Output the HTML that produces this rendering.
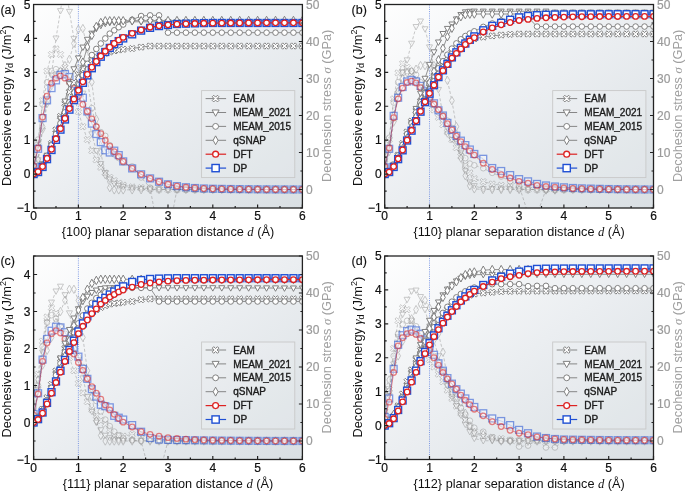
<!DOCTYPE html><html><head><meta charset="utf-8"><style>html,body{margin:0;padding:0;background:#fff}svg{display:block;will-change:transform}text{font-family:"Liberation Sans", sans-serif}</style></head><body>
<svg width="685" height="491" viewBox="0 0 685 491">
<rect width="685" height="491" fill="#fff"/>
<defs><clipPath id="clipa"><rect x="33.6" y="4.5" width="268.8" height="203.5"/></clipPath><linearGradient id="grada" x1="0" y1="0" x2="1" y2="1"><stop offset="0" stop-color="#fefefe"/><stop offset="0.5" stop-color="#ebeef1"/><stop offset="1" stop-color="#d9dfe3"/></linearGradient></defs>
<rect x="33.6" y="4.5" width="268.8" height="203.5" fill="url(#grada)"/>
<g clip-path="url(#clipa)">
<line x1="78.40" y1="4.5" x2="78.40" y2="208.0" stroke="#4f74dc" stroke-width="0.7" stroke-dasharray="1,1.2"/>
<g opacity="0.5">
<polyline points="33.60,167.30 38.08,145.10 42.56,100.70 47.04,71.10 51.52,54.45 56.00,48.90 60.48,54.45 64.96,67.40 69.44,82.20 73.92,97.00 78.40,111.80 82.88,126.60 87.36,139.55 91.84,150.65 96.32,159.90 100.80,167.30 105.28,172.85 109.76,177.29 114.24,180.62 118.72,183.21 123.20,185.06 132.16,186.91 141.12,187.65 150.08,188.76 159.04,189.28 168.00,189.50 176.96,189.50 185.92,189.50 194.88,189.50 203.84,189.50 212.80,189.50 221.76,189.50 230.72,189.50 239.68,189.50 248.64,189.50 257.60,189.50 266.56,189.50 275.52,189.50 284.48,189.50 293.44,189.50 302.40,189.50" fill="none" stroke="#8a8a8a" stroke-width="0.9" stroke-dasharray="3,2"/>
<g fill="#ffffff" fill-opacity="0.6" stroke="#8a8a8a" stroke-width="0.9">
<path d="M35.37,164.13L36.77,165.53L35.00,167.30L36.77,169.07L35.37,170.47L33.60,168.70L31.83,170.47L30.43,169.07L32.20,167.30L30.43,165.53L31.83,164.13L33.60,165.90Z"/>
<path d="M39.85,141.93L41.25,143.33L39.48,145.10L41.25,146.87L39.85,148.27L38.08,146.50L36.31,148.27L34.91,146.87L36.68,145.10L34.91,143.33L36.31,141.93L38.08,143.70Z"/>
<path d="M44.33,97.53L45.73,98.93L43.96,100.70L45.73,102.47L44.33,103.87L42.56,102.10L40.79,103.87L39.39,102.47L41.16,100.70L39.39,98.93L40.79,97.53L42.56,99.30Z"/>
<path d="M48.81,67.93L50.21,69.33L48.44,71.10L50.21,72.87L48.81,74.27L47.04,72.50L45.27,74.27L43.87,72.87L45.64,71.10L43.87,69.33L45.27,67.93L47.04,69.70Z"/>
<path d="M53.29,51.28L54.69,52.68L52.92,54.45L54.69,56.22L53.29,57.62L51.52,55.85L49.75,57.62L48.35,56.22L50.12,54.45L48.35,52.68L49.75,51.28L51.52,53.05Z"/>
<path d="M57.77,45.73L59.17,47.13L57.40,48.90L59.17,50.67L57.77,52.07L56.00,50.30L54.23,52.07L52.83,50.67L54.60,48.90L52.83,47.13L54.23,45.73L56.00,47.50Z"/>
<path d="M62.25,51.28L63.65,52.68L61.88,54.45L63.65,56.22L62.25,57.62L60.48,55.85L58.71,57.62L57.31,56.22L59.08,54.45L57.31,52.68L58.71,51.28L60.48,53.05Z"/>
<path d="M66.73,64.23L68.13,65.63L66.36,67.40L68.13,69.17L66.73,70.57L64.96,68.80L63.19,70.57L61.79,69.17L63.56,67.40L61.79,65.63L63.19,64.23L64.96,66.00Z"/>
<path d="M71.21,79.03L72.61,80.43L70.84,82.20L72.61,83.97L71.21,85.37L69.44,83.60L67.67,85.37L66.27,83.97L68.04,82.20L66.27,80.43L67.67,79.03L69.44,80.80Z"/>
<path d="M75.69,93.83L77.09,95.23L75.32,97.00L77.09,98.77L75.69,100.17L73.92,98.40L72.15,100.17L70.75,98.77L72.52,97.00L70.75,95.23L72.15,93.83L73.92,95.60Z"/>
<path d="M80.17,108.63L81.57,110.03L79.80,111.80L81.57,113.57L80.17,114.97L78.40,113.20L76.63,114.97L75.23,113.57L77.00,111.80L75.23,110.03L76.63,108.63L78.40,110.40Z"/>
<path d="M84.65,123.43L86.05,124.83L84.28,126.60L86.05,128.37L84.65,129.77L82.88,128.00L81.11,129.77L79.71,128.37L81.48,126.60L79.71,124.83L81.11,123.43L82.88,125.20Z"/>
<path d="M89.13,136.38L90.53,137.78L88.76,139.55L90.53,141.32L89.13,142.72L87.36,140.95L85.59,142.72L84.19,141.32L85.96,139.55L84.19,137.78L85.59,136.38L87.36,138.15Z"/>
<path d="M93.61,147.48L95.01,148.88L93.24,150.65L95.01,152.42L93.61,153.82L91.84,152.05L90.07,153.82L88.67,152.42L90.44,150.65L88.67,148.88L90.07,147.48L91.84,149.25Z"/>
<path d="M98.09,156.73L99.49,158.13L97.72,159.90L99.49,161.67L98.09,163.07L96.32,161.30L94.55,163.07L93.15,161.67L94.92,159.90L93.15,158.13L94.55,156.73L96.32,158.50Z"/>
<path d="M102.57,164.13L103.97,165.53L102.20,167.30L103.97,169.07L102.57,170.47L100.80,168.70L99.03,170.47L97.63,169.07L99.40,167.30L97.63,165.53L99.03,164.13L100.80,165.90Z"/>
<path d="M107.05,169.68L108.45,171.08L106.68,172.85L108.45,174.62L107.05,176.02L105.28,174.25L103.51,176.02L102.11,174.62L103.88,172.85L102.11,171.08L103.51,169.68L105.28,171.45Z"/>
<path d="M111.53,174.12L112.93,175.52L111.16,177.29L112.93,179.06L111.53,180.46L109.76,178.69L107.99,180.46L106.59,179.06L108.36,177.29L106.59,175.52L107.99,174.12L109.76,175.89Z"/>
<path d="M116.01,177.45L117.41,178.85L115.64,180.62L117.41,182.39L116.01,183.79L114.24,182.02L112.47,183.79L111.07,182.39L112.84,180.62L111.07,178.85L112.47,177.45L114.24,179.22Z"/>
<path d="M120.49,180.04L121.89,181.44L120.12,183.21L121.89,184.98L120.49,186.38L118.72,184.61L116.95,186.38L115.55,184.98L117.32,183.21L115.55,181.44L116.95,180.04L118.72,181.81Z"/>
<path d="M124.97,181.89L126.37,183.29L124.60,185.06L126.37,186.83L124.97,188.23L123.20,186.46L121.43,188.23L120.03,186.83L121.80,185.06L120.03,183.29L121.43,181.89L123.20,183.66Z"/>
<path d="M133.93,183.74L135.33,185.14L133.56,186.91L135.33,188.68L133.93,190.08L132.16,188.31L130.39,190.08L128.99,188.68L130.76,186.91L128.99,185.14L130.39,183.74L132.16,185.51Z"/>
<path d="M142.89,184.48L144.29,185.88L142.52,187.65L144.29,189.42L142.89,190.82L141.12,189.05L139.35,190.82L137.95,189.42L139.72,187.65L137.95,185.88L139.35,184.48L141.12,186.25Z"/>
<path d="M151.85,185.59L153.25,186.99L151.48,188.76L153.25,190.53L151.85,191.93L150.08,190.16L148.31,191.93L146.91,190.53L148.68,188.76L146.91,186.99L148.31,185.59L150.08,187.36Z"/>
<path d="M160.81,186.10L162.21,187.50L160.44,189.28L162.21,191.05L160.81,192.45L159.04,190.68L157.27,192.45L155.87,191.05L157.64,189.28L155.87,187.50L157.27,186.10L159.04,187.88Z"/>
<path d="M169.77,186.33L171.17,187.73L169.40,189.50L171.17,191.27L169.77,192.67L168.00,190.90L166.23,192.67L164.83,191.27L166.60,189.50L164.83,187.73L166.23,186.33L168.00,188.10Z"/>
<path d="M178.73,186.33L180.13,187.73L178.36,189.50L180.13,191.27L178.73,192.67L176.96,190.90L175.19,192.67L173.79,191.27L175.56,189.50L173.79,187.73L175.19,186.33L176.96,188.10Z"/>
<path d="M187.69,186.33L189.09,187.73L187.32,189.50L189.09,191.27L187.69,192.67L185.92,190.90L184.15,192.67L182.75,191.27L184.52,189.50L182.75,187.73L184.15,186.33L185.92,188.10Z"/>
<path d="M196.65,186.33L198.05,187.73L196.28,189.50L198.05,191.27L196.65,192.67L194.88,190.90L193.11,192.67L191.71,191.27L193.48,189.50L191.71,187.73L193.11,186.33L194.88,188.10Z"/>
<path d="M205.61,186.33L207.01,187.73L205.24,189.50L207.01,191.27L205.61,192.67L203.84,190.90L202.07,192.67L200.67,191.27L202.44,189.50L200.67,187.73L202.07,186.33L203.84,188.10Z"/>
<path d="M214.57,186.33L215.97,187.73L214.20,189.50L215.97,191.27L214.57,192.67L212.80,190.90L211.03,192.67L209.63,191.27L211.40,189.50L209.63,187.73L211.03,186.33L212.80,188.10Z"/>
<path d="M223.53,186.33L224.93,187.73L223.16,189.50L224.93,191.27L223.53,192.67L221.76,190.90L219.99,192.67L218.59,191.27L220.36,189.50L218.59,187.73L219.99,186.33L221.76,188.10Z"/>
<path d="M232.49,186.33L233.89,187.73L232.12,189.50L233.89,191.27L232.49,192.67L230.72,190.90L228.95,192.67L227.55,191.27L229.32,189.50L227.55,187.73L228.95,186.33L230.72,188.10Z"/>
<path d="M241.45,186.33L242.85,187.73L241.08,189.50L242.85,191.27L241.45,192.67L239.68,190.90L237.91,192.67L236.51,191.27L238.28,189.50L236.51,187.73L237.91,186.33L239.68,188.10Z"/>
<path d="M250.41,186.33L251.81,187.73L250.04,189.50L251.81,191.27L250.41,192.67L248.64,190.90L246.87,192.67L245.47,191.27L247.24,189.50L245.47,187.73L246.87,186.33L248.64,188.10Z"/>
<path d="M259.37,186.33L260.77,187.73L259.00,189.50L260.77,191.27L259.37,192.67L257.60,190.90L255.83,192.67L254.43,191.27L256.20,189.50L254.43,187.73L255.83,186.33L257.60,188.10Z"/>
<path d="M268.33,186.33L269.73,187.73L267.96,189.50L269.73,191.27L268.33,192.67L266.56,190.90L264.79,192.67L263.39,191.27L265.16,189.50L263.39,187.73L264.79,186.33L266.56,188.10Z"/>
<path d="M277.29,186.33L278.69,187.73L276.92,189.50L278.69,191.27L277.29,192.67L275.52,190.90L273.75,192.67L272.35,191.27L274.12,189.50L272.35,187.73L273.75,186.33L275.52,188.10Z"/>
<path d="M286.25,186.33L287.65,187.73L285.88,189.50L287.65,191.27L286.25,192.67L284.48,190.90L282.71,192.67L281.31,191.27L283.08,189.50L281.31,187.73L282.71,186.33L284.48,188.10Z"/>
<path d="M295.21,186.33L296.61,187.73L294.84,189.50L296.61,191.27L295.21,192.67L293.44,190.90L291.67,192.67L290.27,191.27L292.04,189.50L290.27,187.73L291.67,186.33L293.44,188.10Z"/>
<path d="M304.17,186.33L305.57,187.73L303.80,189.50L305.57,191.27L304.17,192.67L302.40,190.90L300.63,192.67L299.23,191.27L301.00,189.50L299.23,187.73L300.63,186.33L302.40,188.10Z"/>
</g></g>
<g opacity="0.5">
<polyline points="33.60,171.00 38.08,159.90 42.56,130.30 47.04,104.40 51.52,74.80 56.00,38.17 60.48,10.79 64.96,-17.70 69.44,11.53 73.92,38.54 78.40,67.40 82.88,93.30 87.36,115.50 91.84,134.00 96.32,150.65 100.80,163.60 105.28,172.85 109.76,179.14 114.24,183.58 118.72,185.44 123.20,186.54 132.16,187.97 141.12,188.76 150.08,189.14 159.04,189.40 168.00,189.50 176.96,189.50 185.92,189.50 194.88,189.50 203.84,189.50 212.80,189.50 221.76,189.50 230.72,189.50 239.68,189.50 248.64,189.50 257.60,189.50 266.56,189.50 275.52,189.50 284.48,189.50 293.44,189.50 302.40,189.50" fill="none" stroke="#8a8a8a" stroke-width="0.9" stroke-dasharray="3,2"/>
<g fill="#ffffff" fill-opacity="0.6" stroke="#8a8a8a" stroke-width="0.9">
<path d="M30.60,168.84L36.60,168.84L33.60,174.24Z"/>
<path d="M35.08,157.74L41.08,157.74L38.08,163.14Z"/>
<path d="M39.56,128.14L45.56,128.14L42.56,133.54Z"/>
<path d="M44.04,102.24L50.04,102.24L47.04,107.64Z"/>
<path d="M48.52,72.64L54.52,72.64L51.52,78.04Z"/>
<path d="M53.00,36.01L59.00,36.01L56.00,41.41Z"/>
<path d="M57.48,8.63L63.48,8.63L60.48,14.03Z"/>
<path d="M61.96,-19.86L67.96,-19.86L64.96,-14.46Z"/>
<path d="M66.44,9.37L72.44,9.37L69.44,14.77Z"/>
<path d="M70.92,36.38L76.92,36.38L73.92,41.78Z"/>
<path d="M75.40,65.24L81.40,65.24L78.40,70.64Z"/>
<path d="M79.88,91.14L85.88,91.14L82.88,96.54Z"/>
<path d="M84.36,113.34L90.36,113.34L87.36,118.74Z"/>
<path d="M88.84,131.84L94.84,131.84L91.84,137.24Z"/>
<path d="M93.32,148.49L99.32,148.49L96.32,153.89Z"/>
<path d="M97.80,161.44L103.80,161.44L100.80,166.84Z"/>
<path d="M102.28,170.69L108.28,170.69L105.28,176.09Z"/>
<path d="M106.76,176.98L112.76,176.98L109.76,182.38Z"/>
<path d="M111.24,181.42L117.24,181.42L114.24,186.82Z"/>
<path d="M115.72,183.28L121.72,183.28L118.72,188.68Z"/>
<path d="M120.20,184.38L126.20,184.38L123.20,189.78Z"/>
<path d="M129.16,185.81L135.16,185.81L132.16,191.21Z"/>
<path d="M138.12,186.60L144.12,186.60L141.12,192.00Z"/>
<path d="M147.08,186.98L153.08,186.98L150.08,192.38Z"/>
<path d="M156.04,187.24L162.04,187.24L159.04,192.64Z"/>
<path d="M165.00,187.34L171.00,187.34L168.00,192.74Z"/>
<path d="M173.96,187.34L179.96,187.34L176.96,192.74Z"/>
<path d="M182.92,187.34L188.92,187.34L185.92,192.74Z"/>
<path d="M191.88,187.34L197.88,187.34L194.88,192.74Z"/>
<path d="M200.84,187.34L206.84,187.34L203.84,192.74Z"/>
<path d="M209.80,187.34L215.80,187.34L212.80,192.74Z"/>
<path d="M218.76,187.34L224.76,187.34L221.76,192.74Z"/>
<path d="M227.72,187.34L233.72,187.34L230.72,192.74Z"/>
<path d="M236.68,187.34L242.68,187.34L239.68,192.74Z"/>
<path d="M245.64,187.34L251.64,187.34L248.64,192.74Z"/>
<path d="M254.60,187.34L260.60,187.34L257.60,192.74Z"/>
<path d="M263.56,187.34L269.56,187.34L266.56,192.74Z"/>
<path d="M272.52,187.34L278.52,187.34L275.52,192.74Z"/>
<path d="M281.48,187.34L287.48,187.34L284.48,192.74Z"/>
<path d="M290.44,187.34L296.44,187.34L293.44,192.74Z"/>
<path d="M299.40,187.34L305.40,187.34L302.40,192.74Z"/>
</g></g>
<g opacity="0.5">
<polyline points="33.60,159.90 38.08,139.55 42.56,104.40 47.04,82.20 51.52,71.10 56.00,69.25 60.48,71.10 64.96,74.80 69.44,82.20 73.92,87.75 78.40,93.30 82.88,82.20 87.36,80.35 91.84,108.10 96.32,126.60 100.80,132.15 105.28,135.85 109.76,145.10 114.24,154.35 118.72,158.05 123.20,162.37 132.16,166.38 141.12,177.47 150.08,187.65 159.04,236.67 168.00,236.67 176.96,189.50 185.92,189.50 194.88,189.50 203.84,189.50 212.80,189.50 221.76,189.50 230.72,189.50 239.68,189.50 248.64,189.50 257.60,189.50 266.56,189.50 275.52,189.50 284.48,189.50 293.44,189.50 302.40,189.50" fill="none" stroke="#8a8a8a" stroke-width="0.9" stroke-dasharray="3,2"/>
<g fill="#ffffff" fill-opacity="0.6" stroke="#8a8a8a" stroke-width="0.9">
<circle cx="33.60" cy="159.90" r="2.80"/>
<circle cx="38.08" cy="139.55" r="2.80"/>
<circle cx="42.56" cy="104.40" r="2.80"/>
<circle cx="47.04" cy="82.20" r="2.80"/>
<circle cx="51.52" cy="71.10" r="2.80"/>
<circle cx="56.00" cy="69.25" r="2.80"/>
<circle cx="60.48" cy="71.10" r="2.80"/>
<circle cx="64.96" cy="74.80" r="2.80"/>
<circle cx="69.44" cy="82.20" r="2.80"/>
<circle cx="73.92" cy="87.75" r="2.80"/>
<circle cx="78.40" cy="93.30" r="2.80"/>
<circle cx="82.88" cy="82.20" r="2.80"/>
<circle cx="87.36" cy="80.35" r="2.80"/>
<circle cx="91.84" cy="108.10" r="2.80"/>
<circle cx="96.32" cy="126.60" r="2.80"/>
<circle cx="100.80" cy="132.15" r="2.80"/>
<circle cx="105.28" cy="135.85" r="2.80"/>
<circle cx="109.76" cy="145.10" r="2.80"/>
<circle cx="114.24" cy="154.35" r="2.80"/>
<circle cx="118.72" cy="158.05" r="2.80"/>
<circle cx="123.20" cy="162.37" r="2.80"/>
<circle cx="132.16" cy="166.38" r="2.80"/>
<circle cx="141.12" cy="177.47" r="2.80"/>
<circle cx="150.08" cy="187.65" r="2.80"/>
<circle cx="159.04" cy="236.67" r="2.80"/>
<circle cx="168.00" cy="236.67" r="2.80"/>
<circle cx="176.96" cy="189.50" r="2.80"/>
<circle cx="185.92" cy="189.50" r="2.80"/>
<circle cx="194.88" cy="189.50" r="2.80"/>
<circle cx="203.84" cy="189.50" r="2.80"/>
<circle cx="212.80" cy="189.50" r="2.80"/>
<circle cx="221.76" cy="189.50" r="2.80"/>
<circle cx="230.72" cy="189.50" r="2.80"/>
<circle cx="239.68" cy="189.50" r="2.80"/>
<circle cx="248.64" cy="189.50" r="2.80"/>
<circle cx="257.60" cy="189.50" r="2.80"/>
<circle cx="266.56" cy="189.50" r="2.80"/>
<circle cx="275.52" cy="189.50" r="2.80"/>
<circle cx="284.48" cy="189.50" r="2.80"/>
<circle cx="293.44" cy="189.50" r="2.80"/>
<circle cx="302.40" cy="189.50" r="2.80"/>
</g></g>
<g opacity="0.5">
<polyline points="33.60,171.00 38.08,159.90 42.56,126.60 47.04,100.70 51.52,85.90 56.00,76.65 60.48,71.10 64.96,65.55 69.44,59.26 73.92,43.35 78.40,29.29 82.88,28.55 87.36,48.90 91.84,82.20 96.32,119.20 100.80,152.50 105.28,174.70 109.76,187.65 114.24,189.87 118.72,189.87 123.20,189.87 132.16,189.83 141.12,189.74 150.08,189.63 159.04,189.54 168.00,189.50 176.96,189.50 185.92,189.50 194.88,189.50 203.84,189.50 212.80,189.50 221.76,189.50 230.72,189.50 239.68,189.50 248.64,189.50 257.60,189.50 266.56,189.50 275.52,189.50 284.48,189.50 293.44,189.50 302.40,189.50" fill="none" stroke="#8a8a8a" stroke-width="0.9" stroke-dasharray="3,2"/>
<g fill="#ffffff" fill-opacity="0.6" stroke="#8a8a8a" stroke-width="0.9">
<path d="M33.60,166.78L35.98,171.00L33.60,175.22L31.22,171.00Z"/>
<path d="M38.08,155.68L40.46,159.90L38.08,164.12L35.70,159.90Z"/>
<path d="M42.56,122.38L44.94,126.60L42.56,130.82L40.18,126.60Z"/>
<path d="M47.04,96.48L49.42,100.70L47.04,104.92L44.66,100.70Z"/>
<path d="M51.52,81.68L53.90,85.90L51.52,90.12L49.14,85.90Z"/>
<path d="M56.00,72.43L58.38,76.65L56.00,80.87L53.62,76.65Z"/>
<path d="M60.48,66.88L62.86,71.10L60.48,75.32L58.10,71.10Z"/>
<path d="M64.96,61.33L67.34,65.55L64.96,69.77L62.58,65.55Z"/>
<path d="M69.44,55.04L71.82,59.26L69.44,63.48L67.06,59.26Z"/>
<path d="M73.92,39.13L76.30,43.35L73.92,47.57L71.54,43.35Z"/>
<path d="M78.40,25.07L80.78,29.29L78.40,33.51L76.02,29.29Z"/>
<path d="M82.88,24.33L85.26,28.55L82.88,32.77L80.50,28.55Z"/>
<path d="M87.36,44.68L89.74,48.90L87.36,53.12L84.98,48.90Z"/>
<path d="M91.84,77.98L94.22,82.20L91.84,86.42L89.46,82.20Z"/>
<path d="M96.32,114.98L98.70,119.20L96.32,123.42L93.94,119.20Z"/>
<path d="M100.80,148.28L103.18,152.50L100.80,156.72L98.42,152.50Z"/>
<path d="M105.28,170.48L107.66,174.70L105.28,178.92L102.90,174.70Z"/>
<path d="M109.76,183.43L112.14,187.65L109.76,191.87L107.38,187.65Z"/>
<path d="M114.24,185.65L116.62,189.87L114.24,194.09L111.86,189.87Z"/>
<path d="M118.72,185.65L121.10,189.87L118.72,194.09L116.34,189.87Z"/>
<path d="M123.20,185.65L125.58,189.87L123.20,194.09L120.82,189.87Z"/>
<path d="M132.16,185.61L134.54,189.83L132.16,194.06L129.78,189.83Z"/>
<path d="M141.12,185.52L143.50,189.74L141.12,193.96L138.74,189.74Z"/>
<path d="M150.08,185.41L152.46,189.63L150.08,193.85L147.70,189.63Z"/>
<path d="M159.04,185.31L161.42,189.54L159.04,193.76L156.66,189.54Z"/>
<path d="M168.00,185.28L170.38,189.50L168.00,193.72L165.62,189.50Z"/>
<path d="M176.96,185.28L179.34,189.50L176.96,193.72L174.58,189.50Z"/>
<path d="M185.92,185.28L188.30,189.50L185.92,193.72L183.54,189.50Z"/>
<path d="M194.88,185.28L197.26,189.50L194.88,193.72L192.50,189.50Z"/>
<path d="M203.84,185.28L206.22,189.50L203.84,193.72L201.46,189.50Z"/>
<path d="M212.80,185.28L215.18,189.50L212.80,193.72L210.42,189.50Z"/>
<path d="M221.76,185.28L224.14,189.50L221.76,193.72L219.38,189.50Z"/>
<path d="M230.72,185.28L233.10,189.50L230.72,193.72L228.34,189.50Z"/>
<path d="M239.68,185.28L242.06,189.50L239.68,193.72L237.30,189.50Z"/>
<path d="M248.64,185.28L251.02,189.50L248.64,193.72L246.26,189.50Z"/>
<path d="M257.60,185.28L259.98,189.50L257.60,193.72L255.22,189.50Z"/>
<path d="M266.56,185.28L268.94,189.50L266.56,193.72L264.18,189.50Z"/>
<path d="M275.52,185.28L277.90,189.50L275.52,193.72L273.14,189.50Z"/>
<path d="M284.48,185.28L286.86,189.50L284.48,193.72L282.10,189.50Z"/>
<path d="M293.44,185.28L295.82,189.50L293.44,193.72L291.06,189.50Z"/>
<path d="M302.40,185.28L304.78,189.50L302.40,193.72L300.02,189.50Z"/>
</g></g>
<g opacity="0.55">
<polyline points="33.60,167.30 38.08,148.80 42.56,118.09 47.04,100.33 51.52,88.12 56.00,80.35 60.48,74.80 64.96,74.06 69.44,77.02 73.92,84.05 78.40,91.45 82.88,97.74 87.36,111.43 91.84,123.64 96.32,134.00 100.80,142.14 105.28,150.28 109.76,152.50 114.24,150.65 118.72,155.09 123.20,161.38 132.16,168.41 141.12,174.33 150.08,178.40 159.04,181.73 168.00,184.32 176.96,186.17 185.92,187.28 194.88,188.02 203.84,188.49 212.80,188.76 221.76,188.90 230.72,189.02 239.68,189.13 248.64,189.23 257.60,189.31 266.56,189.38 275.52,189.43 284.48,189.47 293.44,189.49 302.40,189.50" fill="none" stroke="#1f4fd4" stroke-width="0.9"/>
<g fill="#ffffff" fill-opacity="0.6" stroke="#1f4fd4" stroke-width="1.3">
<rect x="30.15" y="163.85" width="6.90" height="6.90"/>
<rect x="34.63" y="145.35" width="6.90" height="6.90"/>
<rect x="39.11" y="114.64" width="6.90" height="6.90"/>
<rect x="43.59" y="96.88" width="6.90" height="6.90"/>
<rect x="48.07" y="84.67" width="6.90" height="6.90"/>
<rect x="52.55" y="76.90" width="6.90" height="6.90"/>
<rect x="57.03" y="71.35" width="6.90" height="6.90"/>
<rect x="61.51" y="70.61" width="6.90" height="6.90"/>
<rect x="65.99" y="73.57" width="6.90" height="6.90"/>
<rect x="70.47" y="80.60" width="6.90" height="6.90"/>
<rect x="74.95" y="88.00" width="6.90" height="6.90"/>
<rect x="79.43" y="94.29" width="6.90" height="6.90"/>
<rect x="83.91" y="107.98" width="6.90" height="6.90"/>
<rect x="88.39" y="120.19" width="6.90" height="6.90"/>
<rect x="92.87" y="130.55" width="6.90" height="6.90"/>
<rect x="97.35" y="138.69" width="6.90" height="6.90"/>
<rect x="101.83" y="146.83" width="6.90" height="6.90"/>
<rect x="106.31" y="149.05" width="6.90" height="6.90"/>
<rect x="110.79" y="147.20" width="6.90" height="6.90"/>
<rect x="115.27" y="151.64" width="6.90" height="6.90"/>
<rect x="119.75" y="157.93" width="6.90" height="6.90"/>
<rect x="128.71" y="164.96" width="6.90" height="6.90"/>
<rect x="137.67" y="170.88" width="6.90" height="6.90"/>
<rect x="146.63" y="174.95" width="6.90" height="6.90"/>
<rect x="155.59" y="178.28" width="6.90" height="6.90"/>
<rect x="164.55" y="180.87" width="6.90" height="6.90"/>
<rect x="173.51" y="182.72" width="6.90" height="6.90"/>
<rect x="182.47" y="183.83" width="6.90" height="6.90"/>
<rect x="191.43" y="184.57" width="6.90" height="6.90"/>
<rect x="200.39" y="185.04" width="6.90" height="6.90"/>
<rect x="209.35" y="185.31" width="6.90" height="6.90"/>
<rect x="218.31" y="185.45" width="6.90" height="6.90"/>
<rect x="227.27" y="185.57" width="6.90" height="6.90"/>
<rect x="236.23" y="185.68" width="6.90" height="6.90"/>
<rect x="245.19" y="185.78" width="6.90" height="6.90"/>
<rect x="254.15" y="185.86" width="6.90" height="6.90"/>
<rect x="263.11" y="185.93" width="6.90" height="6.90"/>
<rect x="272.07" y="185.98" width="6.90" height="6.90"/>
<rect x="281.03" y="186.02" width="6.90" height="6.90"/>
<rect x="289.99" y="186.04" width="6.90" height="6.90"/>
<rect x="298.95" y="186.05" width="6.90" height="6.90"/>
</g></g>
<g opacity="0.55">
<polyline points="33.60,165.82 38.08,148.06 42.56,116.98 47.04,96.26 51.52,83.31 56.00,78.13 60.48,75.91 64.96,78.13 69.44,81.83 73.92,88.49 78.40,96.26 82.88,104.40 87.36,111.43 91.84,118.83 96.32,126.60 100.80,133.63 105.28,140.29 109.76,146.21 114.24,151.76 118.72,156.57 123.20,161.38 132.16,168.41 141.12,174.33 150.08,178.40 159.04,181.73 168.00,184.32 176.96,186.17 185.92,187.28 194.88,188.02 203.84,188.49 212.80,188.76 221.76,188.90 230.72,189.02 239.68,189.13 248.64,189.23 257.60,189.31 266.56,189.38 275.52,189.43 284.48,189.47 293.44,189.49 302.40,189.50" fill="none" stroke="#dd2222" stroke-width="0.9"/>
<g fill="#ffffff" fill-opacity="0.6" stroke="#dd2222" stroke-width="1.3">
<circle cx="33.60" cy="165.82" r="2.80"/>
<circle cx="38.08" cy="148.06" r="2.80"/>
<circle cx="42.56" cy="116.98" r="2.80"/>
<circle cx="47.04" cy="96.26" r="2.80"/>
<circle cx="51.52" cy="83.31" r="2.80"/>
<circle cx="56.00" cy="78.13" r="2.80"/>
<circle cx="60.48" cy="75.91" r="2.80"/>
<circle cx="64.96" cy="78.13" r="2.80"/>
<circle cx="69.44" cy="81.83" r="2.80"/>
<circle cx="73.92" cy="88.49" r="2.80"/>
<circle cx="78.40" cy="96.26" r="2.80"/>
<circle cx="82.88" cy="104.40" r="2.80"/>
<circle cx="87.36" cy="111.43" r="2.80"/>
<circle cx="91.84" cy="118.83" r="2.80"/>
<circle cx="96.32" cy="126.60" r="2.80"/>
<circle cx="100.80" cy="133.63" r="2.80"/>
<circle cx="105.28" cy="140.29" r="2.80"/>
<circle cx="109.76" cy="146.21" r="2.80"/>
<circle cx="114.24" cy="151.76" r="2.80"/>
<circle cx="118.72" cy="156.57" r="2.80"/>
<circle cx="123.20" cy="161.38" r="2.80"/>
<circle cx="132.16" cy="168.41" r="2.80"/>
<circle cx="141.12" cy="174.33" r="2.80"/>
<circle cx="150.08" cy="178.40" r="2.80"/>
<circle cx="159.04" cy="181.73" r="2.80"/>
<circle cx="168.00" cy="184.32" r="2.80"/>
<circle cx="176.96" cy="186.17" r="2.80"/>
<circle cx="185.92" cy="187.28" r="2.80"/>
<circle cx="194.88" cy="188.02" r="2.80"/>
<circle cx="203.84" cy="188.49" r="2.80"/>
<circle cx="212.80" cy="188.76" r="2.80"/>
<circle cx="221.76" cy="188.90" r="2.80"/>
<circle cx="230.72" cy="189.02" r="2.80"/>
<circle cx="239.68" cy="189.13" r="2.80"/>
<circle cx="248.64" cy="189.23" r="2.80"/>
<circle cx="257.60" cy="189.31" r="2.80"/>
<circle cx="266.56" cy="189.38" r="2.80"/>
<circle cx="275.52" cy="189.43" r="2.80"/>
<circle cx="284.48" cy="189.47" r="2.80"/>
<circle cx="293.44" cy="189.49" r="2.80"/>
<circle cx="302.40" cy="189.50" r="2.80"/>
</g></g>
<polyline points="33.60,174.08 38.08,172.05 42.56,165.94 47.04,156.11 51.52,143.56 56.00,129.99 60.48,116.42 64.96,103.54 69.44,92.00 73.92,82.51 78.40,74.71 82.88,68.69 87.36,63.85 91.84,60.02 96.32,57.07 100.80,54.99 105.28,53.34 109.76,51.89 114.24,50.80 118.72,49.92 123.20,49.27 132.16,48.54 141.12,47.12 150.08,46.05 159.04,46.05 168.00,46.05 176.96,46.05 185.92,46.05 194.88,46.05 203.84,46.05 212.80,46.05 221.76,46.05 230.72,46.05 239.68,46.05 248.64,46.05 257.60,46.05 266.56,46.05 275.52,46.05 284.48,46.05 293.44,46.05 302.40,46.05" fill="none" stroke="#7a7a7a" stroke-width="0.8"/>
<g fill="#ffffff" stroke="#7a7a7a" stroke-width="0.95">
<path d="M35.37,170.91L36.77,172.31L35.00,174.08L36.77,175.86L35.37,177.26L33.60,175.48L31.83,177.26L30.43,175.86L32.20,174.08L30.43,172.31L31.83,170.91L33.60,172.68Z"/>
<path d="M39.85,168.87L41.25,170.27L39.48,172.05L41.25,173.82L39.85,175.22L38.08,173.45L36.31,175.22L34.91,173.82L36.68,172.05L34.91,170.27L36.31,168.87L38.08,170.65Z"/>
<path d="M44.33,162.77L45.73,164.17L43.96,165.94L45.73,167.72L44.33,169.12L42.56,167.34L40.79,169.12L39.39,167.72L41.16,165.94L39.39,164.17L40.79,162.77L42.56,164.54Z"/>
<path d="M48.81,152.93L50.21,154.33L48.44,156.11L50.21,157.88L48.81,159.28L47.04,157.51L45.27,159.28L43.87,157.88L45.64,156.11L43.87,154.33L45.27,152.93L47.04,154.71Z"/>
<path d="M53.29,140.38L54.69,141.78L52.92,143.56L54.69,145.33L53.29,146.73L51.52,144.96L49.75,146.73L48.35,145.33L50.12,143.56L48.35,141.78L49.75,140.38L51.52,142.16Z"/>
<path d="M57.77,126.82L59.17,128.22L57.40,129.99L59.17,131.77L57.77,133.17L56.00,131.39L54.23,133.17L52.83,131.77L54.60,129.99L52.83,128.22L54.23,126.82L56.00,128.59Z"/>
<path d="M62.25,113.25L63.65,114.65L61.88,116.42L63.65,118.20L62.25,119.60L60.48,117.83L58.71,119.60L57.31,118.20L59.08,116.42L57.31,114.65L58.71,113.25L60.48,115.02Z"/>
<path d="M66.73,100.36L68.13,101.76L66.36,103.54L68.13,105.31L66.73,106.71L64.96,104.94L63.19,106.71L61.79,105.31L63.56,103.54L61.79,101.76L63.19,100.36L64.96,102.14Z"/>
<path d="M71.21,88.83L72.61,90.23L70.84,92.00L72.61,93.78L71.21,95.18L69.44,93.41L67.67,95.18L66.27,93.78L68.04,92.00L66.27,90.23L67.67,88.83L69.44,90.60Z"/>
<path d="M75.69,79.33L77.09,80.73L75.32,82.51L77.09,84.28L75.69,85.68L73.92,83.91L72.15,85.68L70.75,84.28L72.52,82.51L70.75,80.73L72.15,79.33L73.92,81.11Z"/>
<path d="M80.17,71.53L81.57,72.93L79.80,74.71L81.57,76.48L80.17,77.88L78.40,76.11L76.63,77.88L75.23,76.48L77.00,74.71L75.23,72.93L76.63,71.53L78.40,73.31Z"/>
<path d="M84.65,65.52L86.05,66.92L84.28,68.69L86.05,70.47L84.65,71.87L82.88,70.09L81.11,71.87L79.71,70.47L81.48,68.69L79.71,66.92L81.11,65.52L82.88,67.29Z"/>
<path d="M89.13,60.68L90.53,62.08L88.76,63.85L90.53,65.63L89.13,67.03L87.36,65.25L85.59,67.03L84.19,65.63L85.96,63.85L84.19,62.08L85.59,60.68L87.36,62.45Z"/>
<path d="M93.61,56.85L95.01,58.25L93.24,60.02L95.01,61.79L93.61,63.19L91.84,61.42L90.07,63.19L88.67,61.79L90.44,60.02L88.67,58.25L90.07,56.85L91.84,58.62Z"/>
<path d="M98.09,53.90L99.49,55.30L97.72,57.07L99.49,58.84L98.09,60.24L96.32,58.47L94.55,60.24L93.15,58.84L94.92,57.07L93.15,55.30L94.55,53.90L96.32,55.67Z"/>
<path d="M102.57,51.82L103.97,53.22L102.20,54.99L103.97,56.77L102.57,58.17L100.80,56.39L99.03,58.17L97.63,56.77L99.40,54.99L97.63,53.22L99.03,51.82L100.80,53.59Z"/>
<path d="M107.05,50.17L108.45,51.57L106.68,53.34L108.45,55.11L107.05,56.51L105.28,54.74L103.51,56.51L102.11,55.11L103.88,53.34L102.11,51.57L103.51,50.17L105.28,51.94Z"/>
<path d="M111.53,48.72L112.93,50.12L111.16,51.89L112.93,53.66L111.53,55.06L109.76,53.29L107.99,55.06L106.59,53.66L108.36,51.89L106.59,50.12L107.99,48.72L109.76,50.49Z"/>
<path d="M116.01,47.63L117.41,49.03L115.64,50.80L117.41,52.57L116.01,53.97L114.24,52.20L112.47,53.97L111.07,52.57L112.84,50.80L111.07,49.03L112.47,47.63L114.24,49.40Z"/>
<path d="M120.49,46.74L121.89,48.14L120.12,49.92L121.89,51.69L120.49,53.09L118.72,51.32L116.95,53.09L115.55,51.69L117.32,49.92L115.55,48.14L116.95,46.74L118.72,48.52Z"/>
<path d="M124.97,46.10L126.37,47.50L124.60,49.27L126.37,51.04L124.97,52.44L123.20,50.67L121.43,52.44L120.03,51.04L121.80,49.27L120.03,47.50L121.43,46.10L123.20,47.87Z"/>
<path d="M133.93,45.36L135.33,46.76L133.56,48.54L135.33,50.31L133.93,51.71L132.16,49.94L130.39,51.71L128.99,50.31L130.76,48.54L128.99,46.76L130.39,45.36L132.16,47.14Z"/>
<path d="M142.89,43.95L144.29,45.35L142.52,47.12L144.29,48.90L142.89,50.30L141.12,48.52L139.35,50.30L137.95,48.90L139.72,47.12L137.95,45.35L139.35,43.95L141.12,45.72Z"/>
<path d="M151.85,42.87L153.25,44.27L151.48,46.05L153.25,47.82L151.85,49.22L150.08,47.45L148.31,49.22L146.91,47.82L148.68,46.05L146.91,44.27L148.31,42.87L150.08,44.65Z"/>
<path d="M160.81,42.87L162.21,44.27L160.44,46.05L162.21,47.82L160.81,49.22L159.04,47.45L157.27,49.22L155.87,47.82L157.64,46.05L155.87,44.27L157.27,42.87L159.04,44.65Z"/>
<path d="M169.77,42.87L171.17,44.27L169.40,46.05L171.17,47.82L169.77,49.22L168.00,47.45L166.23,49.22L164.83,47.82L166.60,46.05L164.83,44.27L166.23,42.87L168.00,44.65Z"/>
<path d="M178.73,42.87L180.13,44.27L178.36,46.05L180.13,47.82L178.73,49.22L176.96,47.45L175.19,49.22L173.79,47.82L175.56,46.05L173.79,44.27L175.19,42.87L176.96,44.65Z"/>
<path d="M187.69,42.87L189.09,44.27L187.32,46.05L189.09,47.82L187.69,49.22L185.92,47.45L184.15,49.22L182.75,47.82L184.52,46.05L182.75,44.27L184.15,42.87L185.92,44.65Z"/>
<path d="M196.65,42.87L198.05,44.27L196.28,46.05L198.05,47.82L196.65,49.22L194.88,47.45L193.11,49.22L191.71,47.82L193.48,46.05L191.71,44.27L193.11,42.87L194.88,44.65Z"/>
<path d="M205.61,42.87L207.01,44.27L205.24,46.05L207.01,47.82L205.61,49.22L203.84,47.45L202.07,49.22L200.67,47.82L202.44,46.05L200.67,44.27L202.07,42.87L203.84,44.65Z"/>
<path d="M214.57,42.87L215.97,44.27L214.20,46.05L215.97,47.82L214.57,49.22L212.80,47.45L211.03,49.22L209.63,47.82L211.40,46.05L209.63,44.27L211.03,42.87L212.80,44.65Z"/>
<path d="M223.53,42.87L224.93,44.27L223.16,46.05L224.93,47.82L223.53,49.22L221.76,47.45L219.99,49.22L218.59,47.82L220.36,46.05L218.59,44.27L219.99,42.87L221.76,44.65Z"/>
<path d="M232.49,42.87L233.89,44.27L232.12,46.05L233.89,47.82L232.49,49.22L230.72,47.45L228.95,49.22L227.55,47.82L229.32,46.05L227.55,44.27L228.95,42.87L230.72,44.65Z"/>
<path d="M241.45,42.87L242.85,44.27L241.08,46.05L242.85,47.82L241.45,49.22L239.68,47.45L237.91,49.22L236.51,47.82L238.28,46.05L236.51,44.27L237.91,42.87L239.68,44.65Z"/>
<path d="M250.41,42.87L251.81,44.27L250.04,46.05L251.81,47.82L250.41,49.22L248.64,47.45L246.87,49.22L245.47,47.82L247.24,46.05L245.47,44.27L246.87,42.87L248.64,44.65Z"/>
<path d="M259.37,42.87L260.77,44.27L259.00,46.05L260.77,47.82L259.37,49.22L257.60,47.45L255.83,49.22L254.43,47.82L256.20,46.05L254.43,44.27L255.83,42.87L257.60,44.65Z"/>
<path d="M268.33,42.87L269.73,44.27L267.96,46.05L269.73,47.82L268.33,49.22L266.56,47.45L264.79,49.22L263.39,47.82L265.16,46.05L263.39,44.27L264.79,42.87L266.56,44.65Z"/>
<path d="M277.29,42.87L278.69,44.27L276.92,46.05L278.69,47.82L277.29,49.22L275.52,47.45L273.75,49.22L272.35,47.82L274.12,46.05L272.35,44.27L273.75,42.87L275.52,44.65Z"/>
<path d="M286.25,42.87L287.65,44.27L285.88,46.05L287.65,47.82L286.25,49.22L284.48,47.45L282.71,49.22L281.31,47.82L283.08,46.05L281.31,44.27L282.71,42.87L284.48,44.65Z"/>
<path d="M295.21,42.87L296.61,44.27L294.84,46.05L296.61,47.82L295.21,49.22L293.44,47.45L291.67,49.22L290.27,47.82L292.04,46.05L290.27,44.27L291.67,42.87L293.44,44.65Z"/>
<path d="M304.17,42.87L305.57,44.27L303.80,46.05L305.57,47.82L304.17,49.22L302.40,47.45L300.63,49.22L299.23,47.82L301.00,46.05L299.23,44.27L300.63,42.87L302.40,44.65Z"/>
</g>
<polyline points="33.60,174.08 38.08,171.03 42.56,163.91 47.04,155.43 51.52,145.25 56.00,133.38 60.48,118.46 64.96,101.16 69.44,83.86 73.92,68.94 78.40,58.09 82.88,47.23 87.36,39.43 91.84,33.33 96.32,28.58 100.80,25.53 105.28,23.49 109.76,22.61 114.24,22.14 118.72,21.90 123.20,21.80 132.16,21.80 141.12,21.80 150.08,21.80 159.04,21.80 168.00,21.80 176.96,21.80 185.92,21.80 194.88,21.80 203.84,21.80 212.80,21.80 221.76,21.80 230.72,21.80 239.68,21.80 248.64,21.80 257.60,21.80 266.56,21.80 275.52,21.80 284.48,21.80 293.44,21.80 302.40,21.80" fill="none" stroke="#7a7a7a" stroke-width="0.8"/>
<g fill="#ffffff" stroke="#7a7a7a" stroke-width="0.95">
<path d="M30.60,171.92L36.60,171.92L33.60,177.32Z"/>
<path d="M35.08,168.87L41.08,168.87L38.08,174.27Z"/>
<path d="M39.56,161.75L45.56,161.75L42.56,167.15Z"/>
<path d="M44.04,153.27L50.04,153.27L47.04,158.67Z"/>
<path d="M48.52,143.09L54.52,143.09L51.52,148.49Z"/>
<path d="M53.00,131.22L59.00,131.22L56.00,136.62Z"/>
<path d="M57.48,116.30L63.48,116.30L60.48,121.70Z"/>
<path d="M61.96,99.00L67.96,99.00L64.96,104.40Z"/>
<path d="M66.44,81.70L72.44,81.70L69.44,87.10Z"/>
<path d="M70.92,66.78L76.92,66.78L73.92,72.18Z"/>
<path d="M75.40,55.93L81.40,55.93L78.40,61.33Z"/>
<path d="M79.88,45.07L85.88,45.07L82.88,50.47Z"/>
<path d="M84.36,37.27L90.36,37.27L87.36,42.67Z"/>
<path d="M88.84,31.17L94.84,31.17L91.84,36.57Z"/>
<path d="M93.32,26.42L99.32,26.42L96.32,31.82Z"/>
<path d="M97.80,23.37L103.80,23.37L100.80,28.77Z"/>
<path d="M102.28,21.33L108.28,21.33L105.28,26.73Z"/>
<path d="M106.76,20.45L112.76,20.45L109.76,25.85Z"/>
<path d="M111.24,19.98L117.24,19.98L114.24,25.38Z"/>
<path d="M115.72,19.74L121.72,19.74L118.72,25.14Z"/>
<path d="M120.20,19.64L126.20,19.64L123.20,25.04Z"/>
<path d="M129.16,19.64L135.16,19.64L132.16,25.04Z"/>
<path d="M138.12,19.64L144.12,19.64L141.12,25.04Z"/>
<path d="M147.08,19.64L153.08,19.64L150.08,25.04Z"/>
<path d="M156.04,19.64L162.04,19.64L159.04,25.04Z"/>
<path d="M165.00,19.64L171.00,19.64L168.00,25.04Z"/>
<path d="M173.96,19.64L179.96,19.64L176.96,25.04Z"/>
<path d="M182.92,19.64L188.92,19.64L185.92,25.04Z"/>
<path d="M191.88,19.64L197.88,19.64L194.88,25.04Z"/>
<path d="M200.84,19.64L206.84,19.64L203.84,25.04Z"/>
<path d="M209.80,19.64L215.80,19.64L212.80,25.04Z"/>
<path d="M218.76,19.64L224.76,19.64L221.76,25.04Z"/>
<path d="M227.72,19.64L233.72,19.64L230.72,25.04Z"/>
<path d="M236.68,19.64L242.68,19.64L239.68,25.04Z"/>
<path d="M245.64,19.64L251.64,19.64L248.64,25.04Z"/>
<path d="M254.60,19.64L260.60,19.64L257.60,25.04Z"/>
<path d="M263.56,19.64L269.56,19.64L266.56,25.04Z"/>
<path d="M272.52,19.64L278.52,19.64L275.52,25.04Z"/>
<path d="M281.48,19.64L287.48,19.64L284.48,25.04Z"/>
<path d="M290.44,19.64L296.44,19.64L293.44,25.04Z"/>
<path d="M299.40,19.64L305.40,19.64L302.40,25.04Z"/>
</g>
<polyline points="33.60,174.08 38.08,171.37 42.56,164.93 47.04,155.77 51.52,145.25 56.00,134.06 60.48,123.21 64.96,112.35 69.44,102.18 73.92,92.68 78.40,83.53 82.88,75.05 87.36,63.85 91.84,55.04 96.32,48.93 100.80,43.50 105.28,38.42 109.76,33.67 114.24,30.28 118.72,27.22 123.20,24.51 132.16,19.76 141.12,16.03 150.08,15.35 159.04,15.35 168.00,32.65 176.96,32.65 185.92,32.65 194.88,32.65 203.84,32.65 212.80,32.65 221.76,32.65 230.72,32.65 239.68,32.65 248.64,32.65 257.60,32.65 266.56,32.65 275.52,32.65 284.48,32.65 293.44,32.65 302.40,32.65" fill="none" stroke="#7a7a7a" stroke-width="0.8"/>
<g fill="#ffffff" stroke="#7a7a7a" stroke-width="0.95">
<circle cx="33.60" cy="174.08" r="2.80"/>
<circle cx="38.08" cy="171.37" r="2.80"/>
<circle cx="42.56" cy="164.93" r="2.80"/>
<circle cx="47.04" cy="155.77" r="2.80"/>
<circle cx="51.52" cy="145.25" r="2.80"/>
<circle cx="56.00" cy="134.06" r="2.80"/>
<circle cx="60.48" cy="123.21" r="2.80"/>
<circle cx="64.96" cy="112.35" r="2.80"/>
<circle cx="69.44" cy="102.18" r="2.80"/>
<circle cx="73.92" cy="92.68" r="2.80"/>
<circle cx="78.40" cy="83.53" r="2.80"/>
<circle cx="82.88" cy="75.05" r="2.80"/>
<circle cx="87.36" cy="63.85" r="2.80"/>
<circle cx="91.84" cy="55.04" r="2.80"/>
<circle cx="96.32" cy="48.93" r="2.80"/>
<circle cx="100.80" cy="43.50" r="2.80"/>
<circle cx="105.28" cy="38.42" r="2.80"/>
<circle cx="109.76" cy="33.67" r="2.80"/>
<circle cx="114.24" cy="30.28" r="2.80"/>
<circle cx="118.72" cy="27.22" r="2.80"/>
<circle cx="123.20" cy="24.51" r="2.80"/>
<circle cx="132.16" cy="19.76" r="2.80"/>
<circle cx="141.12" cy="16.03" r="2.80"/>
<circle cx="150.08" cy="15.35" r="2.80"/>
<circle cx="159.04" cy="15.35" r="2.80"/>
<circle cx="168.00" cy="32.65" r="2.80"/>
<circle cx="176.96" cy="32.65" r="2.80"/>
<circle cx="185.92" cy="32.65" r="2.80"/>
<circle cx="194.88" cy="32.65" r="2.80"/>
<circle cx="203.84" cy="32.65" r="2.80"/>
<circle cx="212.80" cy="32.65" r="2.80"/>
<circle cx="221.76" cy="32.65" r="2.80"/>
<circle cx="230.72" cy="32.65" r="2.80"/>
<circle cx="239.68" cy="32.65" r="2.80"/>
<circle cx="248.64" cy="32.65" r="2.80"/>
<circle cx="257.60" cy="32.65" r="2.80"/>
<circle cx="266.56" cy="32.65" r="2.80"/>
<circle cx="275.52" cy="32.65" r="2.80"/>
<circle cx="284.48" cy="32.65" r="2.80"/>
<circle cx="293.44" cy="32.65" r="2.80"/>
<circle cx="302.40" cy="32.65" r="2.80"/>
</g>
<polyline points="33.60,174.08 38.08,172.05 42.56,166.62 47.04,158.82 51.52,149.66 56.00,139.49 60.48,128.63 64.96,117.44 69.44,105.57 73.92,92.68 78.40,78.44 82.88,62.16 87.36,46.90 91.84,35.36 96.32,26.55 100.80,22.48 105.28,20.78 109.76,20.76 114.24,20.74 118.72,20.72 123.20,20.70 132.16,20.66 141.12,20.63 150.08,20.60 159.04,20.58 168.00,20.55 176.96,20.53 185.92,20.52 194.88,20.50 203.84,20.49 212.80,20.48 221.76,20.47 230.72,20.46 239.68,20.45 248.64,20.45 257.60,20.45 266.56,20.44 275.52,20.44 284.48,20.44 293.44,20.44 302.40,20.44" fill="none" stroke="#7a7a7a" stroke-width="0.8"/>
<g fill="#ffffff" stroke="#7a7a7a" stroke-width="0.95">
<path d="M33.60,169.86L35.98,174.08L33.60,178.31L31.22,174.08Z"/>
<path d="M38.08,167.82L40.46,172.05L38.08,176.27L35.70,172.05Z"/>
<path d="M42.56,162.40L44.94,166.62L42.56,170.85L40.18,166.62Z"/>
<path d="M47.04,154.60L49.42,158.82L47.04,163.04L44.66,158.82Z"/>
<path d="M51.52,145.44L53.90,149.66L51.52,153.89L49.14,149.66Z"/>
<path d="M56.00,135.26L58.38,139.49L56.00,143.71L53.62,139.49Z"/>
<path d="M60.48,124.41L62.86,128.63L60.48,132.86L58.10,128.63Z"/>
<path d="M64.96,113.22L67.34,117.44L64.96,121.67L62.58,117.44Z"/>
<path d="M69.44,101.35L71.82,105.57L69.44,109.80L67.06,105.57Z"/>
<path d="M73.92,88.46L76.30,92.68L73.92,96.91L71.54,92.68Z"/>
<path d="M78.40,74.21L80.78,78.44L78.40,82.66L76.02,78.44Z"/>
<path d="M82.88,57.93L85.26,62.16L82.88,66.38L80.50,62.16Z"/>
<path d="M87.36,42.67L89.74,46.90L87.36,51.12L84.98,46.90Z"/>
<path d="M91.84,31.14L94.22,35.36L91.84,39.59L89.46,35.36Z"/>
<path d="M96.32,22.32L98.70,26.55L96.32,30.77L93.94,26.55Z"/>
<path d="M100.80,18.25L103.18,22.48L100.80,26.70L98.42,22.48Z"/>
<path d="M105.28,16.56L107.66,20.78L105.28,25.00L102.90,20.78Z"/>
<path d="M109.76,16.53L112.14,20.76L109.76,24.98L107.38,20.76Z"/>
<path d="M114.24,16.51L116.62,20.74L114.24,24.96L111.86,20.74Z"/>
<path d="M118.72,16.49L121.10,20.72L118.72,24.94L116.34,20.72Z"/>
<path d="M123.20,16.47L125.58,20.70L123.20,24.92L120.82,20.70Z"/>
<path d="M132.16,16.44L134.54,20.66L132.16,24.89L129.78,20.66Z"/>
<path d="M141.12,16.41L143.50,20.63L141.12,24.85L138.74,20.63Z"/>
<path d="M150.08,16.38L152.46,20.60L150.08,24.83L147.70,20.60Z"/>
<path d="M159.04,16.35L161.42,20.58L159.04,24.80L156.66,20.58Z"/>
<path d="M168.00,16.33L170.38,20.55L168.00,24.78L165.62,20.55Z"/>
<path d="M176.96,16.31L179.34,20.53L176.96,24.76L174.58,20.53Z"/>
<path d="M185.92,16.29L188.30,20.52L185.92,24.74L183.54,20.52Z"/>
<path d="M194.88,16.28L197.26,20.50L194.88,24.72L192.50,20.50Z"/>
<path d="M203.84,16.26L206.22,20.49L203.84,24.71L201.46,20.49Z"/>
<path d="M212.80,16.25L215.18,20.48L212.80,24.70L210.42,20.48Z"/>
<path d="M221.76,16.24L224.14,20.47L221.76,24.69L219.38,20.47Z"/>
<path d="M230.72,16.24L233.10,20.46L230.72,24.68L228.34,20.46Z"/>
<path d="M239.68,16.23L242.06,20.45L239.68,24.68L237.30,20.45Z"/>
<path d="M248.64,16.23L251.02,20.45L248.64,24.67L246.26,20.45Z"/>
<path d="M257.60,16.22L259.98,20.45L257.60,24.67L255.22,20.45Z"/>
<path d="M266.56,16.22L268.94,20.44L266.56,24.67L264.18,20.44Z"/>
<path d="M275.52,16.22L277.90,20.44L275.52,24.67L273.14,20.44Z"/>
<path d="M284.48,16.22L286.86,20.44L284.48,24.67L282.10,20.44Z"/>
<path d="M293.44,16.22L295.82,20.44L293.44,24.66L291.06,20.44Z"/>
<path d="M302.40,16.22L304.78,20.44L302.40,24.66L300.02,20.44Z"/>
</g>
<polyline points="33.60,174.08 38.08,172.05 42.56,166.96 47.04,159.16 51.52,150.00 56.00,139.83 60.48,129.65 64.96,119.48 69.44,109.64 73.92,100.14 78.40,91.33 82.88,82.85 87.36,75.39 91.84,68.26 96.32,62.16 100.80,56.73 105.28,51.98 109.76,47.91 114.24,44.18 118.72,41.13 123.20,38.42 132.16,34.35 141.12,30.62 150.08,27.85 159.04,26.09 168.00,25.02 176.96,24.00 185.92,23.66 194.88,23.36 203.84,23.10 212.80,22.98 221.76,22.98 230.72,22.98 239.68,22.98 248.64,22.98 257.60,22.98 266.56,22.98 275.52,22.98 284.48,22.98 293.44,22.98 302.40,22.98" fill="none" stroke="#1f4fd4" stroke-width="1.0"/>
<g fill="#ffffff" stroke="#1f4fd4" stroke-width="1.4">
<rect x="30.15" y="170.63" width="6.90" height="6.90"/>
<rect x="34.63" y="168.60" width="6.90" height="6.90"/>
<rect x="39.11" y="163.51" width="6.90" height="6.90"/>
<rect x="43.59" y="155.71" width="6.90" height="6.90"/>
<rect x="48.07" y="146.55" width="6.90" height="6.90"/>
<rect x="52.55" y="136.38" width="6.90" height="6.90"/>
<rect x="57.03" y="126.20" width="6.90" height="6.90"/>
<rect x="61.51" y="116.03" width="6.90" height="6.90"/>
<rect x="65.99" y="106.19" width="6.90" height="6.90"/>
<rect x="70.47" y="96.69" width="6.90" height="6.90"/>
<rect x="74.95" y="87.88" width="6.90" height="6.90"/>
<rect x="79.43" y="79.40" width="6.90" height="6.90"/>
<rect x="83.91" y="71.94" width="6.90" height="6.90"/>
<rect x="88.39" y="64.81" width="6.90" height="6.90"/>
<rect x="92.87" y="58.71" width="6.90" height="6.90"/>
<rect x="97.35" y="53.28" width="6.90" height="6.90"/>
<rect x="101.83" y="48.53" width="6.90" height="6.90"/>
<rect x="106.31" y="44.46" width="6.90" height="6.90"/>
<rect x="110.79" y="40.73" width="6.90" height="6.90"/>
<rect x="115.27" y="37.68" width="6.90" height="6.90"/>
<rect x="119.75" y="34.97" width="6.90" height="6.90"/>
<rect x="128.71" y="30.90" width="6.90" height="6.90"/>
<rect x="137.67" y="27.17" width="6.90" height="6.90"/>
<rect x="146.63" y="24.40" width="6.90" height="6.90"/>
<rect x="155.59" y="22.64" width="6.90" height="6.90"/>
<rect x="164.55" y="21.57" width="6.90" height="6.90"/>
<rect x="173.51" y="20.55" width="6.90" height="6.90"/>
<rect x="182.47" y="20.21" width="6.90" height="6.90"/>
<rect x="191.43" y="19.91" width="6.90" height="6.90"/>
<rect x="200.39" y="19.65" width="6.90" height="6.90"/>
<rect x="209.35" y="19.53" width="6.90" height="6.90"/>
<rect x="218.31" y="19.53" width="6.90" height="6.90"/>
<rect x="227.27" y="19.53" width="6.90" height="6.90"/>
<rect x="236.23" y="19.53" width="6.90" height="6.90"/>
<rect x="245.19" y="19.53" width="6.90" height="6.90"/>
<rect x="254.15" y="19.53" width="6.90" height="6.90"/>
<rect x="263.11" y="19.53" width="6.90" height="6.90"/>
<rect x="272.07" y="19.53" width="6.90" height="6.90"/>
<rect x="281.03" y="19.53" width="6.90" height="6.90"/>
<rect x="289.99" y="19.53" width="6.90" height="6.90"/>
<rect x="298.95" y="19.53" width="6.90" height="6.90"/>
</g>
<polyline points="33.60,174.08 38.08,171.71 42.56,166.62 47.04,158.48 51.52,149.32 56.00,138.81 60.48,128.63 64.96,118.46 69.44,108.62 73.92,99.13 78.40,90.31 82.88,81.83 87.36,74.37 91.84,67.25 96.32,61.48 100.80,56.05 105.28,51.30 109.76,47.23 114.24,43.50 118.72,40.11 123.20,37.40 132.16,33.33 141.12,29.94 150.08,27.22 159.04,25.87 168.00,24.85 176.96,24.17 185.92,23.83 194.88,23.55 203.84,23.30 212.80,23.15 221.76,23.09 230.72,23.03 239.68,22.98 248.64,22.94 257.60,22.90 266.56,22.87 275.52,22.85 284.48,22.83 293.44,22.82 302.40,22.81" fill="none" stroke="#dd2222" stroke-width="1.0"/>
<g fill="#ffffff" stroke="#dd2222" stroke-width="1.3">
<circle cx="33.60" cy="174.08" r="2.80"/>
<circle cx="38.08" cy="171.71" r="2.80"/>
<circle cx="42.56" cy="166.62" r="2.80"/>
<circle cx="47.04" cy="158.48" r="2.80"/>
<circle cx="51.52" cy="149.32" r="2.80"/>
<circle cx="56.00" cy="138.81" r="2.80"/>
<circle cx="60.48" cy="128.63" r="2.80"/>
<circle cx="64.96" cy="118.46" r="2.80"/>
<circle cx="69.44" cy="108.62" r="2.80"/>
<circle cx="73.92" cy="99.13" r="2.80"/>
<circle cx="78.40" cy="90.31" r="2.80"/>
<circle cx="82.88" cy="81.83" r="2.80"/>
<circle cx="87.36" cy="74.37" r="2.80"/>
<circle cx="91.84" cy="67.25" r="2.80"/>
<circle cx="96.32" cy="61.48" r="2.80"/>
<circle cx="100.80" cy="56.05" r="2.80"/>
<circle cx="105.28" cy="51.30" r="2.80"/>
<circle cx="109.76" cy="47.23" r="2.80"/>
<circle cx="114.24" cy="43.50" r="2.80"/>
<circle cx="118.72" cy="40.11" r="2.80"/>
<circle cx="123.20" cy="37.40" r="2.80"/>
<circle cx="132.16" cy="33.33" r="2.80"/>
<circle cx="141.12" cy="29.94" r="2.80"/>
<circle cx="150.08" cy="27.22" r="2.80"/>
<circle cx="159.04" cy="25.87" r="2.80"/>
<circle cx="168.00" cy="24.85" r="2.80"/>
<circle cx="176.96" cy="24.17" r="2.80"/>
<circle cx="185.92" cy="23.83" r="2.80"/>
<circle cx="194.88" cy="23.55" r="2.80"/>
<circle cx="203.84" cy="23.30" r="2.80"/>
<circle cx="212.80" cy="23.15" r="2.80"/>
<circle cx="221.76" cy="23.09" r="2.80"/>
<circle cx="230.72" cy="23.03" r="2.80"/>
<circle cx="239.68" cy="22.98" r="2.80"/>
<circle cx="248.64" cy="22.94" r="2.80"/>
<circle cx="257.60" cy="22.90" r="2.80"/>
<circle cx="266.56" cy="22.87" r="2.80"/>
<circle cx="275.52" cy="22.85" r="2.80"/>
<circle cx="284.48" cy="22.83" r="2.80"/>
<circle cx="293.44" cy="22.82" r="2.80"/>
<circle cx="302.40" cy="22.81" r="2.80"/>
</g>
</g>
<rect x="33.6" y="4.5" width="268.8" height="203.5" fill="none" stroke="#222" stroke-width="1.3"/>
<path d="M33.6,208.00h3.5 M33.6,191.04h2.0 M33.6,174.08h3.5 M33.6,157.12h2.0 M33.6,140.17h3.5 M33.6,123.21h2.0 M33.6,106.25h3.5 M33.6,89.29h2.0 M33.6,72.33h3.5 M33.6,55.38h2.0 M33.6,38.42h3.5 M33.6,21.46h2.0 M33.6,4.50h3.5 M33.60,208.0v-3.5 M56.00,208.0v-2.0 M78.40,208.0v-3.5 M100.80,208.0v-2.0 M123.20,208.0v-3.5 M145.60,208.0v-2.0 M168.00,208.0v-3.5 M190.40,208.0v-2.0 M212.80,208.0v-3.5 M235.20,208.0v-2.0 M257.60,208.0v-3.5 M280.00,208.0v-2.0 M302.40,208.0v-3.5 M302.40000000000003,208.00h-2.0 M302.40000000000003,189.50h-3.5 M302.40000000000003,171.00h-2.0 M302.40000000000003,152.50h-3.5 M302.40000000000003,134.00h-2.0 M302.40000000000003,115.50h-3.5 M302.40000000000003,97.00h-2.0 M302.40000000000003,78.50h-3.5 M302.40000000000003,60.00h-2.0 M302.40000000000003,41.50h-3.5 M302.40000000000003,23.00h-2.0 M302.40000000000003,4.50h-3.5" stroke="#222" stroke-width="1.2" fill="none"/>
<g font-size="12" fill="#111" stroke="#111" stroke-width="0.2"><text x="30.50" y="212.30" text-anchor="end">−1</text><text x="30.50" y="178.38" text-anchor="end">0</text><text x="30.50" y="144.47" text-anchor="end">1</text><text x="30.50" y="110.55" text-anchor="end">2</text><text x="30.50" y="76.63" text-anchor="end">3</text><text x="30.50" y="42.72" text-anchor="end">4</text><text x="30.50" y="8.80" text-anchor="end">5</text><text x="33.60" y="220.00" text-anchor="middle">0</text><text x="78.40" y="220.00" text-anchor="middle">1</text><text x="123.20" y="220.00" text-anchor="middle">2</text><text x="168.00" y="220.00" text-anchor="middle">3</text><text x="212.80" y="220.00" text-anchor="middle">4</text><text x="257.60" y="220.00" text-anchor="middle">5</text><text x="302.40" y="220.00" text-anchor="middle">6</text></g>
<g font-size="12" fill="#9a9a9a" stroke="#9a9a9a" stroke-width="0.2"><text x="306.00" y="193.80">0</text><text x="306.00" y="156.80">10</text><text x="306.00" y="119.80">20</text><text x="306.00" y="82.80">30</text><text x="306.00" y="45.80">40</text><text x="306.00" y="8.80">50</text></g>
<text x="168.00" y="236.40" font-size="12.7" text-anchor="middle" fill="#111">{100} planar separation distance <tspan style="font-family:&quot;Liberation Serif&quot;;font-style:italic">d</tspan> (Å)</text>
<text transform="translate(11.20,105.65) rotate(-90)" font-size="12.8" text-anchor="middle" fill="#111">Decohesive energy <tspan style="font-family:&quot;Liberation Serif&quot;;font-style:italic">γ</tspan><tspan font-size="9" dy="2">d</tspan><tspan dy="-2"> (J/m</tspan><tspan font-size="9" dy="-5">2</tspan><tspan dy="5">)</tspan></text>
<text transform="translate(330.80,105.85) rotate(-90)" font-size="12.75" text-anchor="middle" fill="#a0a0a0">Decohesion stress <tspan style="font-family:&quot;Liberation Serif&quot;;font-style:italic">σ</tspan> (GPa)</text>
<text x="0.40" y="13.90" font-size="12.5" fill="#111" stroke="#111" stroke-width="0.15">(a)</text>
<rect x="201.6" y="90.6" width="93.2" height="87.0" fill="#ffffff" fill-opacity="0.12" stroke="#c8c8c8" stroke-width="0.9"/>
<line x1="205.6" y1="98.60" x2="226.1" y2="98.60" stroke="#7a7a7a" stroke-width="0.9"/>
<g fill="#fff" stroke="#7a7a7a" stroke-width="0.95"><path d="M217.46,95.27L218.93,96.74L217.07,98.60L218.93,100.46L217.46,101.93L215.60,100.07L213.74,101.93L212.27,100.46L214.13,98.60L212.27,96.74L213.74,95.27L215.60,97.13Z"/></g>
<text x="233.2" y="102.20" font-size="10" fill="#1a1a1a" stroke="#1a1a1a" stroke-width="0.35">EAM</text>
<line x1="205.6" y1="112.50" x2="226.1" y2="112.50" stroke="#7a7a7a" stroke-width="0.9"/>
<g fill="#fff" stroke="#7a7a7a" stroke-width="0.95"><path d="M212.10,109.98L219.10,109.98L215.60,116.28Z"/></g>
<text x="233.2" y="116.10" font-size="10" fill="#1a1a1a" stroke="#1a1a1a" stroke-width="0.35">MEAM_2021</text>
<line x1="205.6" y1="126.40" x2="226.1" y2="126.40" stroke="#7a7a7a" stroke-width="0.9"/>
<g fill="#fff" stroke="#7a7a7a" stroke-width="0.95"><circle cx="215.60" cy="126.40" r="2.94"/></g>
<text x="233.2" y="130.00" font-size="10" fill="#1a1a1a" stroke="#1a1a1a" stroke-width="0.35">MEAM_2015</text>
<line x1="205.6" y1="140.30" x2="226.1" y2="140.30" stroke="#7a7a7a" stroke-width="0.9"/>
<g fill="#fff" stroke="#7a7a7a" stroke-width="0.95"><path d="M215.60,135.86L218.09,140.30L215.60,144.74L213.11,140.30Z"/></g>
<text x="233.2" y="143.90" font-size="10" fill="#1a1a1a" stroke="#1a1a1a" stroke-width="0.35">qSNAP</text>
<line x1="205.6" y1="154.20" x2="226.1" y2="154.20" stroke="#dd2222" stroke-width="1.2"/>
<g fill="#fff" stroke="#dd2222" stroke-width="1.3"><circle cx="215.60" cy="154.20" r="2.94"/></g>
<text x="233.2" y="157.80" font-size="10" fill="#1a1a1a" stroke="#1a1a1a" stroke-width="0.35">DFT</text>
<line x1="205.6" y1="168.10" x2="226.1" y2="168.10" stroke="#1f4fd4" stroke-width="1.2"/>
<g fill="#fff" stroke="#1f4fd4" stroke-width="1.4"><rect x="211.98" y="164.48" width="7.25" height="7.25"/></g>
<text x="233.2" y="171.70" font-size="10" fill="#1a1a1a" stroke="#1a1a1a" stroke-width="0.35">DP</text>
<defs><clipPath id="clipb"><rect x="384.7" y="4.5" width="268.8" height="203.5"/></clipPath><linearGradient id="gradb" x1="0" y1="0" x2="1" y2="1"><stop offset="0" stop-color="#fefefe"/><stop offset="0.5" stop-color="#ebeef1"/><stop offset="1" stop-color="#d9dfe3"/></linearGradient></defs>
<rect x="384.7" y="4.5" width="268.8" height="203.5" fill="url(#gradb)"/>
<g clip-path="url(#clipb)">
<line x1="429.50" y1="4.5" x2="429.50" y2="208.0" stroke="#4f74dc" stroke-width="0.7" stroke-dasharray="1,1.2"/>
<g opacity="0.5">
<polyline points="384.70,163.60 389.18,139.55 393.66,98.85 398.14,72.95 402.62,63.70 407.10,67.40 411.58,72.95 416.06,80.35 420.54,87.75 425.02,93.30 429.50,101.62 433.98,109.95 438.46,117.33 442.94,124.75 447.42,131.97 451.90,139.55 456.38,147.71 460.86,156.20 465.34,165.46 469.82,172.85 474.30,178.64 483.26,181.64 492.22,183.95 501.18,185.34 510.14,186.72 519.10,188.58 528.06,189.50 537.02,189.50 545.98,189.50 554.94,189.50 563.90,189.50 572.86,189.50 581.82,189.50 590.78,189.50 599.74,189.50 608.70,189.50 617.66,189.50 626.62,189.50 635.58,189.50 644.54,189.50 653.50,189.50" fill="none" stroke="#8a8a8a" stroke-width="0.9" stroke-dasharray="3,2"/>
<g fill="#ffffff" fill-opacity="0.6" stroke="#8a8a8a" stroke-width="0.9">
<path d="M386.47,160.43L387.87,161.83L386.10,163.60L387.87,165.37L386.47,166.77L384.70,165.00L382.93,166.77L381.53,165.37L383.30,163.60L381.53,161.83L382.93,160.43L384.70,162.20Z"/>
<path d="M390.95,136.38L392.35,137.78L390.58,139.55L392.35,141.32L390.95,142.72L389.18,140.95L387.41,142.72L386.01,141.32L387.78,139.55L386.01,137.78L387.41,136.38L389.18,138.15Z"/>
<path d="M395.43,95.68L396.83,97.08L395.06,98.85L396.83,100.62L395.43,102.02L393.66,100.25L391.89,102.02L390.49,100.62L392.26,98.85L390.49,97.08L391.89,95.68L393.66,97.45Z"/>
<path d="M399.91,69.78L401.31,71.18L399.54,72.95L401.31,74.72L399.91,76.12L398.14,74.35L396.37,76.12L394.97,74.72L396.74,72.95L394.97,71.18L396.37,69.78L398.14,71.55Z"/>
<path d="M404.39,60.53L405.79,61.93L404.02,63.70L405.79,65.47L404.39,66.87L402.62,65.10L400.85,66.87L399.45,65.47L401.22,63.70L399.45,61.93L400.85,60.53L402.62,62.30Z"/>
<path d="M408.87,64.23L410.27,65.63L408.50,67.40L410.27,69.17L408.87,70.57L407.10,68.80L405.33,70.57L403.93,69.17L405.70,67.40L403.93,65.63L405.33,64.23L407.10,66.00Z"/>
<path d="M413.35,69.78L414.75,71.18L412.98,72.95L414.75,74.72L413.35,76.12L411.58,74.35L409.81,76.12L408.41,74.72L410.18,72.95L408.41,71.18L409.81,69.78L411.58,71.55Z"/>
<path d="M417.83,77.18L419.23,78.58L417.46,80.35L419.23,82.12L417.83,83.52L416.06,81.75L414.29,83.52L412.89,82.12L414.66,80.35L412.89,78.58L414.29,77.18L416.06,78.95Z"/>
<path d="M422.31,84.58L423.71,85.98L421.94,87.75L423.71,89.52L422.31,90.92L420.54,89.15L418.77,90.92L417.37,89.52L419.14,87.75L417.37,85.98L418.77,84.58L420.54,86.35Z"/>
<path d="M426.79,90.13L428.19,91.53L426.42,93.30L428.19,95.07L426.79,96.47L425.02,94.70L423.25,96.47L421.85,95.07L423.62,93.30L421.85,91.53L423.25,90.13L425.02,91.90Z"/>
<path d="M431.27,98.44L432.67,99.84L430.90,101.62L432.67,103.39L431.27,104.79L429.50,103.02L427.73,104.79L426.33,103.39L428.10,101.62L426.33,99.84L427.73,98.44L429.50,100.22Z"/>
<path d="M435.75,106.78L437.15,108.18L435.38,109.95L437.15,111.72L435.75,113.12L433.98,111.35L432.21,113.12L430.81,111.72L432.58,109.95L430.81,108.18L432.21,106.78L433.98,108.55Z"/>
<path d="M440.23,114.16L441.63,115.56L439.86,117.33L441.63,119.11L440.23,120.51L438.46,118.73L436.69,120.51L435.29,119.11L437.06,117.33L435.29,115.56L436.69,114.16L438.46,115.93Z"/>
<path d="M444.71,121.58L446.11,122.98L444.34,124.75L446.11,126.52L444.71,127.92L442.94,126.15L441.17,127.92L439.77,126.52L441.54,124.75L439.77,122.98L441.17,121.58L442.94,123.35Z"/>
<path d="M449.19,128.80L450.59,130.20L448.82,131.97L450.59,133.74L449.19,135.14L447.42,133.37L445.65,135.14L444.25,133.74L446.02,131.97L444.25,130.20L445.65,128.80L447.42,130.57Z"/>
<path d="M453.67,136.38L455.07,137.78L453.30,139.55L455.07,141.32L453.67,142.72L451.90,140.95L450.13,142.72L448.73,141.32L450.50,139.55L448.73,137.78L450.13,136.38L451.90,138.15Z"/>
<path d="M458.15,144.54L459.55,145.94L457.78,147.71L459.55,149.48L458.15,150.88L456.38,149.11L454.61,150.88L453.21,149.48L454.98,147.71L453.21,145.94L454.61,144.54L456.38,146.31Z"/>
<path d="M462.63,153.03L464.03,154.43L462.26,156.20L464.03,157.97L462.63,159.37L460.86,157.60L459.09,159.37L457.69,157.97L459.46,156.20L457.69,154.43L459.09,153.03L460.86,154.80Z"/>
<path d="M467.11,162.28L468.51,163.68L466.74,165.46L468.51,167.23L467.11,168.63L465.34,166.86L463.57,168.63L462.17,167.23L463.94,165.46L462.17,163.68L463.57,162.28L465.34,164.06Z"/>
<path d="M471.59,169.68L472.99,171.08L471.22,172.85L472.99,174.62L471.59,176.02L469.82,174.25L468.05,176.02L466.65,174.62L468.42,172.85L466.65,171.08L468.05,169.68L469.82,171.45Z"/>
<path d="M476.07,175.47L477.47,176.87L475.70,178.64L477.47,180.42L476.07,181.82L474.30,180.04L472.53,181.82L471.13,180.42L472.90,178.64L471.13,176.87L472.53,175.47L474.30,177.24Z"/>
<path d="M485.03,178.46L486.43,179.86L484.66,181.64L486.43,183.41L485.03,184.81L483.26,183.04L481.49,184.81L480.09,183.41L481.86,181.64L480.09,179.86L481.49,178.46L483.26,180.24Z"/>
<path d="M493.99,180.78L495.39,182.18L493.62,183.95L495.39,185.72L493.99,187.12L492.22,185.35L490.45,187.12L489.05,185.72L490.82,183.95L489.05,182.18L490.45,180.78L492.22,182.55Z"/>
<path d="M502.95,182.16L504.35,183.56L502.58,185.34L504.35,187.11L502.95,188.51L501.18,186.74L499.41,188.51L498.01,187.11L499.78,185.34L498.01,183.56L499.41,182.16L501.18,183.94Z"/>
<path d="M511.91,183.55L513.31,184.95L511.54,186.72L513.31,188.50L511.91,189.90L510.14,188.13L508.37,189.90L506.97,188.50L508.74,186.72L506.97,184.95L508.37,183.55L510.14,185.32Z"/>
<path d="M520.87,185.40L522.27,186.80L520.50,188.58L522.27,190.35L520.87,191.75L519.10,189.98L517.33,191.75L515.93,190.35L517.70,188.58L515.93,186.80L517.33,185.40L519.10,187.17Z"/>
<path d="M529.83,186.33L531.23,187.73L529.46,189.50L531.23,191.27L529.83,192.67L528.06,190.90L526.29,192.67L524.89,191.27L526.66,189.50L524.89,187.73L526.29,186.33L528.06,188.10Z"/>
<path d="M538.79,186.33L540.19,187.73L538.42,189.50L540.19,191.27L538.79,192.67L537.02,190.90L535.25,192.67L533.85,191.27L535.62,189.50L533.85,187.73L535.25,186.33L537.02,188.10Z"/>
<path d="M547.75,186.33L549.15,187.73L547.38,189.50L549.15,191.27L547.75,192.67L545.98,190.90L544.21,192.67L542.81,191.27L544.58,189.50L542.81,187.73L544.21,186.33L545.98,188.10Z"/>
<path d="M556.71,186.33L558.11,187.73L556.34,189.50L558.11,191.27L556.71,192.67L554.94,190.90L553.17,192.67L551.77,191.27L553.54,189.50L551.77,187.73L553.17,186.33L554.94,188.10Z"/>
<path d="M565.67,186.33L567.07,187.73L565.30,189.50L567.07,191.27L565.67,192.67L563.90,190.90L562.13,192.67L560.73,191.27L562.50,189.50L560.73,187.73L562.13,186.33L563.90,188.10Z"/>
<path d="M574.63,186.33L576.03,187.73L574.26,189.50L576.03,191.27L574.63,192.67L572.86,190.90L571.09,192.67L569.69,191.27L571.46,189.50L569.69,187.73L571.09,186.33L572.86,188.10Z"/>
<path d="M583.59,186.33L584.99,187.73L583.22,189.50L584.99,191.27L583.59,192.67L581.82,190.90L580.05,192.67L578.65,191.27L580.42,189.50L578.65,187.73L580.05,186.33L581.82,188.10Z"/>
<path d="M592.55,186.33L593.95,187.73L592.18,189.50L593.95,191.27L592.55,192.67L590.78,190.90L589.01,192.67L587.61,191.27L589.38,189.50L587.61,187.73L589.01,186.33L590.78,188.10Z"/>
<path d="M601.51,186.33L602.91,187.73L601.14,189.50L602.91,191.27L601.51,192.67L599.74,190.90L597.97,192.67L596.57,191.27L598.34,189.50L596.57,187.73L597.97,186.33L599.74,188.10Z"/>
<path d="M610.47,186.33L611.87,187.73L610.10,189.50L611.87,191.27L610.47,192.67L608.70,190.90L606.93,192.67L605.53,191.27L607.30,189.50L605.53,187.73L606.93,186.33L608.70,188.10Z"/>
<path d="M619.43,186.33L620.83,187.73L619.06,189.50L620.83,191.27L619.43,192.67L617.66,190.90L615.89,192.67L614.49,191.27L616.26,189.50L614.49,187.73L615.89,186.33L617.66,188.10Z"/>
<path d="M628.39,186.33L629.79,187.73L628.02,189.50L629.79,191.27L628.39,192.67L626.62,190.90L624.85,192.67L623.45,191.27L625.22,189.50L623.45,187.73L624.85,186.33L626.62,188.10Z"/>
<path d="M637.35,186.33L638.75,187.73L636.98,189.50L638.75,191.27L637.35,192.67L635.58,190.90L633.81,192.67L632.41,191.27L634.18,189.50L632.41,187.73L633.81,186.33L635.58,188.10Z"/>
<path d="M646.31,186.33L647.71,187.73L645.94,189.50L647.71,191.27L646.31,192.67L644.54,190.90L642.77,192.67L641.37,191.27L643.14,189.50L641.37,187.73L642.77,186.33L644.54,188.10Z"/>
<path d="M655.27,186.33L656.67,187.73L654.90,189.50L656.67,191.27L655.27,192.67L653.50,190.90L651.73,192.67L650.33,191.27L652.10,189.50L650.33,187.73L651.73,186.33L653.50,188.10Z"/>
</g></g>
<g opacity="0.5">
<polyline points="384.70,171.00 389.18,152.50 393.66,122.90 398.14,93.30 402.62,71.84 407.10,60.00 411.58,43.35 416.06,26.70 420.54,21.15 425.02,28.92 429.50,47.05 433.98,67.40 438.46,89.60 442.94,115.50 447.42,134.00 451.90,139.55 456.38,141.40 460.86,152.50 465.34,171.00 469.82,182.10 474.30,185.80 483.26,188.76 492.22,188.99 501.18,189.09 510.14,189.14 519.10,189.19 528.06,189.29 537.02,189.50 545.98,190.98 554.94,190.98 563.90,189.50 572.86,189.50 581.82,189.50 590.78,189.50 599.74,189.50 608.70,189.50 617.66,189.50 626.62,189.50 635.58,189.50 644.54,189.50 653.50,189.50" fill="none" stroke="#8a8a8a" stroke-width="0.9" stroke-dasharray="3,2"/>
<g fill="#ffffff" fill-opacity="0.6" stroke="#8a8a8a" stroke-width="0.9">
<path d="M381.70,168.84L387.70,168.84L384.70,174.24Z"/>
<path d="M386.18,150.34L392.18,150.34L389.18,155.74Z"/>
<path d="M390.66,120.74L396.66,120.74L393.66,126.14Z"/>
<path d="M395.14,91.14L401.14,91.14L398.14,96.54Z"/>
<path d="M399.62,69.68L405.62,69.68L402.62,75.08Z"/>
<path d="M404.10,57.84L410.10,57.84L407.10,63.24Z"/>
<path d="M408.58,41.19L414.58,41.19L411.58,46.59Z"/>
<path d="M413.06,24.54L419.06,24.54L416.06,29.94Z"/>
<path d="M417.54,18.99L423.54,18.99L420.54,24.39Z"/>
<path d="M422.02,26.76L428.02,26.76L425.02,32.16Z"/>
<path d="M426.50,44.89L432.50,44.89L429.50,50.29Z"/>
<path d="M430.98,65.24L436.98,65.24L433.98,70.64Z"/>
<path d="M435.46,87.44L441.46,87.44L438.46,92.84Z"/>
<path d="M439.94,113.34L445.94,113.34L442.94,118.74Z"/>
<path d="M444.42,131.84L450.42,131.84L447.42,137.24Z"/>
<path d="M448.90,137.39L454.90,137.39L451.90,142.79Z"/>
<path d="M453.38,139.24L459.38,139.24L456.38,144.64Z"/>
<path d="M457.86,150.34L463.86,150.34L460.86,155.74Z"/>
<path d="M462.34,168.84L468.34,168.84L465.34,174.24Z"/>
<path d="M466.82,179.94L472.82,179.94L469.82,185.34Z"/>
<path d="M471.30,183.64L477.30,183.64L474.30,189.04Z"/>
<path d="M480.26,186.60L486.26,186.60L483.26,192.00Z"/>
<path d="M489.22,186.83L495.22,186.83L492.22,192.23Z"/>
<path d="M498.18,186.93L504.18,186.93L501.18,192.33Z"/>
<path d="M507.14,186.98L513.14,186.98L510.14,192.38Z"/>
<path d="M516.10,187.03L522.10,187.03L519.10,192.43Z"/>
<path d="M525.06,187.13L531.06,187.13L528.06,192.53Z"/>
<path d="M534.02,187.34L540.02,187.34L537.02,192.74Z"/>
<path d="M542.98,188.82L548.98,188.82L545.98,194.22Z"/>
<path d="M551.94,188.82L557.94,188.82L554.94,194.22Z"/>
<path d="M560.90,187.34L566.90,187.34L563.90,192.74Z"/>
<path d="M569.86,187.34L575.86,187.34L572.86,192.74Z"/>
<path d="M578.82,187.34L584.82,187.34L581.82,192.74Z"/>
<path d="M587.78,187.34L593.78,187.34L590.78,192.74Z"/>
<path d="M596.74,187.34L602.74,187.34L599.74,192.74Z"/>
<path d="M605.70,187.34L611.70,187.34L608.70,192.74Z"/>
<path d="M614.66,187.34L620.66,187.34L617.66,192.74Z"/>
<path d="M623.62,187.34L629.62,187.34L626.62,192.74Z"/>
<path d="M632.58,187.34L638.58,187.34L635.58,192.74Z"/>
<path d="M641.54,187.34L647.54,187.34L644.54,192.74Z"/>
<path d="M650.50,187.34L656.50,187.34L653.50,192.74Z"/>
</g></g>
<g opacity="0.5">
<polyline points="384.70,159.90 389.18,137.70 393.66,102.55 398.14,82.20 402.62,72.95 407.10,71.10 411.58,71.10 416.06,74.80 420.54,82.20 425.02,89.60 429.50,97.38 433.98,104.40 438.46,110.09 442.94,115.50 447.42,120.64 451.90,127.90 456.38,138.59 460.86,149.35 465.34,158.18 469.82,163.60 474.30,165.32 483.26,168.22 492.22,172.85 501.18,176.55 510.14,181.17 519.10,185.80 528.06,213.55 537.02,214.48 545.98,189.50 554.94,189.50 563.90,189.50 572.86,189.50 581.82,189.50 590.78,189.50 599.74,189.50 608.70,189.50 617.66,189.50 626.62,189.50 635.58,189.50 644.54,189.50 653.50,189.50" fill="none" stroke="#8a8a8a" stroke-width="0.9" stroke-dasharray="3,2"/>
<g fill="#ffffff" fill-opacity="0.6" stroke="#8a8a8a" stroke-width="0.9">
<circle cx="384.70" cy="159.90" r="2.80"/>
<circle cx="389.18" cy="137.70" r="2.80"/>
<circle cx="393.66" cy="102.55" r="2.80"/>
<circle cx="398.14" cy="82.20" r="2.80"/>
<circle cx="402.62" cy="72.95" r="2.80"/>
<circle cx="407.10" cy="71.10" r="2.80"/>
<circle cx="411.58" cy="71.10" r="2.80"/>
<circle cx="416.06" cy="74.80" r="2.80"/>
<circle cx="420.54" cy="82.20" r="2.80"/>
<circle cx="425.02" cy="89.60" r="2.80"/>
<circle cx="429.50" cy="97.38" r="2.80"/>
<circle cx="433.98" cy="104.40" r="2.80"/>
<circle cx="438.46" cy="110.09" r="2.80"/>
<circle cx="442.94" cy="115.50" r="2.80"/>
<circle cx="447.42" cy="120.64" r="2.80"/>
<circle cx="451.90" cy="127.90" r="2.80"/>
<circle cx="456.38" cy="138.59" r="2.80"/>
<circle cx="460.86" cy="149.35" r="2.80"/>
<circle cx="465.34" cy="158.18" r="2.80"/>
<circle cx="469.82" cy="163.60" r="2.80"/>
<circle cx="474.30" cy="165.32" r="2.80"/>
<circle cx="483.26" cy="168.22" r="2.80"/>
<circle cx="492.22" cy="172.85" r="2.80"/>
<circle cx="501.18" cy="176.55" r="2.80"/>
<circle cx="510.14" cy="181.17" r="2.80"/>
<circle cx="519.10" cy="185.80" r="2.80"/>
<circle cx="528.06" cy="213.55" r="2.80"/>
<circle cx="537.02" cy="214.48" r="2.80"/>
<circle cx="545.98" cy="189.50" r="2.80"/>
<circle cx="554.94" cy="189.50" r="2.80"/>
<circle cx="563.90" cy="189.50" r="2.80"/>
<circle cx="572.86" cy="189.50" r="2.80"/>
<circle cx="581.82" cy="189.50" r="2.80"/>
<circle cx="590.78" cy="189.50" r="2.80"/>
<circle cx="599.74" cy="189.50" r="2.80"/>
<circle cx="608.70" cy="189.50" r="2.80"/>
<circle cx="617.66" cy="189.50" r="2.80"/>
<circle cx="626.62" cy="189.50" r="2.80"/>
<circle cx="635.58" cy="189.50" r="2.80"/>
<circle cx="644.54" cy="189.50" r="2.80"/>
<circle cx="653.50" cy="189.50" r="2.80"/>
</g></g>
<g opacity="0.5">
<polyline points="384.70,167.30 389.18,148.80 393.66,115.50 398.14,91.45 402.62,78.50 407.10,72.95 411.58,71.10 416.06,69.25 420.54,65.55 425.02,65.55 429.50,67.40 433.98,65.55 438.46,63.70 442.94,63.70 447.42,80.35 451.90,100.70 456.38,126.60 460.86,158.05 465.34,175.69 469.82,185.80 474.30,188.84 483.26,189.50 492.22,189.50 501.18,189.50 510.14,189.50 519.10,189.50 528.06,189.50 537.02,189.50 545.98,189.50 554.94,189.50 563.90,189.50 572.86,189.50 581.82,189.50 590.78,189.50 599.74,189.50 608.70,189.50 617.66,189.50 626.62,189.50 635.58,189.50 644.54,189.50 653.50,189.50" fill="none" stroke="#8a8a8a" stroke-width="0.9" stroke-dasharray="3,2"/>
<g fill="#ffffff" fill-opacity="0.6" stroke="#8a8a8a" stroke-width="0.9">
<path d="M384.70,163.08L387.08,167.30L384.70,171.52L382.32,167.30Z"/>
<path d="M389.18,144.58L391.56,148.80L389.18,153.02L386.80,148.80Z"/>
<path d="M393.66,111.28L396.04,115.50L393.66,119.72L391.28,115.50Z"/>
<path d="M398.14,87.23L400.52,91.45L398.14,95.67L395.76,91.45Z"/>
<path d="M402.62,74.28L405.00,78.50L402.62,82.72L400.24,78.50Z"/>
<path d="M407.10,68.73L409.48,72.95L407.10,77.17L404.72,72.95Z"/>
<path d="M411.58,66.88L413.96,71.10L411.58,75.32L409.20,71.10Z"/>
<path d="M416.06,65.03L418.44,69.25L416.06,73.47L413.68,69.25Z"/>
<path d="M420.54,61.33L422.92,65.55L420.54,69.77L418.16,65.55Z"/>
<path d="M425.02,61.33L427.40,65.55L425.02,69.77L422.64,65.55Z"/>
<path d="M429.50,63.18L431.88,67.40L429.50,71.62L427.12,67.40Z"/>
<path d="M433.98,61.33L436.36,65.55L433.98,69.77L431.60,65.55Z"/>
<path d="M438.46,59.48L440.84,63.70L438.46,67.92L436.08,63.70Z"/>
<path d="M442.94,59.48L445.32,63.70L442.94,67.92L440.56,63.70Z"/>
<path d="M447.42,76.13L449.80,80.35L447.42,84.57L445.04,80.35Z"/>
<path d="M451.90,96.48L454.28,100.70L451.90,104.92L449.52,100.70Z"/>
<path d="M456.38,122.38L458.76,126.60L456.38,130.82L454.00,126.60Z"/>
<path d="M460.86,153.83L463.24,158.05L460.86,162.27L458.48,158.05Z"/>
<path d="M465.34,171.46L467.72,175.69L465.34,179.91L462.96,175.69Z"/>
<path d="M469.82,181.58L472.20,185.80L469.82,190.02L467.44,185.80Z"/>
<path d="M474.30,184.62L476.68,188.84L474.30,193.06L471.92,188.84Z"/>
<path d="M483.26,185.28L485.64,189.50L483.26,193.72L480.88,189.50Z"/>
<path d="M492.22,185.28L494.60,189.50L492.22,193.72L489.84,189.50Z"/>
<path d="M501.18,185.28L503.56,189.50L501.18,193.72L498.80,189.50Z"/>
<path d="M510.14,185.28L512.52,189.50L510.14,193.72L507.76,189.50Z"/>
<path d="M519.10,185.28L521.48,189.50L519.10,193.72L516.72,189.50Z"/>
<path d="M528.06,185.28L530.44,189.50L528.06,193.72L525.68,189.50Z"/>
<path d="M537.02,185.28L539.40,189.50L537.02,193.72L534.64,189.50Z"/>
<path d="M545.98,185.28L548.36,189.50L545.98,193.72L543.60,189.50Z"/>
<path d="M554.94,185.28L557.32,189.50L554.94,193.72L552.56,189.50Z"/>
<path d="M563.90,185.28L566.28,189.50L563.90,193.72L561.52,189.50Z"/>
<path d="M572.86,185.28L575.24,189.50L572.86,193.72L570.48,189.50Z"/>
<path d="M581.82,185.28L584.20,189.50L581.82,193.72L579.44,189.50Z"/>
<path d="M590.78,185.28L593.16,189.50L590.78,193.72L588.40,189.50Z"/>
<path d="M599.74,185.28L602.12,189.50L599.74,193.72L597.36,189.50Z"/>
<path d="M608.70,185.28L611.08,189.50L608.70,193.72L606.32,189.50Z"/>
<path d="M617.66,185.28L620.04,189.50L617.66,193.72L615.28,189.50Z"/>
<path d="M626.62,185.28L629.00,189.50L626.62,193.72L624.24,189.50Z"/>
<path d="M635.58,185.28L637.96,189.50L635.58,193.72L633.20,189.50Z"/>
<path d="M644.54,185.28L646.92,189.50L644.54,193.72L642.16,189.50Z"/>
<path d="M653.50,185.28L655.88,189.50L653.50,193.72L651.12,189.50Z"/>
</g></g>
<g opacity="0.55">
<polyline points="384.70,167.30 389.18,148.80 393.66,115.87 398.14,97.74 402.62,87.01 407.10,81.46 411.58,79.98 416.06,81.46 420.54,85.90 425.02,91.45 429.50,97.00 433.98,103.29 438.46,110.32 442.94,115.50 447.42,122.90 451.90,129.93 456.38,135.85 460.86,140.66 465.34,145.10 469.82,149.54 474.30,153.98 483.26,158.79 492.22,168.04 501.18,171.00 510.14,175.07 519.10,179.14 528.06,181.36 537.02,183.95 545.98,185.48 554.94,186.54 563.90,187.34 572.86,187.99 581.82,188.39 590.78,188.63 599.74,188.85 608.70,189.03 617.66,189.20 626.62,189.32 635.58,189.42 644.54,189.48 653.50,189.50" fill="none" stroke="#1f4fd4" stroke-width="0.9"/>
<g fill="#ffffff" fill-opacity="0.6" stroke="#1f4fd4" stroke-width="1.3">
<rect x="381.25" y="163.85" width="6.90" height="6.90"/>
<rect x="385.73" y="145.35" width="6.90" height="6.90"/>
<rect x="390.21" y="112.42" width="6.90" height="6.90"/>
<rect x="394.69" y="94.29" width="6.90" height="6.90"/>
<rect x="399.17" y="83.56" width="6.90" height="6.90"/>
<rect x="403.65" y="78.01" width="6.90" height="6.90"/>
<rect x="408.13" y="76.53" width="6.90" height="6.90"/>
<rect x="412.61" y="78.01" width="6.90" height="6.90"/>
<rect x="417.09" y="82.45" width="6.90" height="6.90"/>
<rect x="421.57" y="88.00" width="6.90" height="6.90"/>
<rect x="426.05" y="93.55" width="6.90" height="6.90"/>
<rect x="430.53" y="99.84" width="6.90" height="6.90"/>
<rect x="435.01" y="106.87" width="6.90" height="6.90"/>
<rect x="439.49" y="112.05" width="6.90" height="6.90"/>
<rect x="443.97" y="119.45" width="6.90" height="6.90"/>
<rect x="448.45" y="126.48" width="6.90" height="6.90"/>
<rect x="452.93" y="132.40" width="6.90" height="6.90"/>
<rect x="457.41" y="137.21" width="6.90" height="6.90"/>
<rect x="461.89" y="141.65" width="6.90" height="6.90"/>
<rect x="466.37" y="146.09" width="6.90" height="6.90"/>
<rect x="470.85" y="150.53" width="6.90" height="6.90"/>
<rect x="479.81" y="155.34" width="6.90" height="6.90"/>
<rect x="488.77" y="164.59" width="6.90" height="6.90"/>
<rect x="497.73" y="167.55" width="6.90" height="6.90"/>
<rect x="506.69" y="171.62" width="6.90" height="6.90"/>
<rect x="515.65" y="175.69" width="6.90" height="6.90"/>
<rect x="524.61" y="177.91" width="6.90" height="6.90"/>
<rect x="533.57" y="180.50" width="6.90" height="6.90"/>
<rect x="542.53" y="182.03" width="6.90" height="6.90"/>
<rect x="551.49" y="183.09" width="6.90" height="6.90"/>
<rect x="560.45" y="183.89" width="6.90" height="6.90"/>
<rect x="569.41" y="184.54" width="6.90" height="6.90"/>
<rect x="578.37" y="184.94" width="6.90" height="6.90"/>
<rect x="587.33" y="185.18" width="6.90" height="6.90"/>
<rect x="596.29" y="185.40" width="6.90" height="6.90"/>
<rect x="605.25" y="185.58" width="6.90" height="6.90"/>
<rect x="614.21" y="185.75" width="6.90" height="6.90"/>
<rect x="623.17" y="185.87" width="6.90" height="6.90"/>
<rect x="632.13" y="185.97" width="6.90" height="6.90"/>
<rect x="641.09" y="186.03" width="6.90" height="6.90"/>
<rect x="650.05" y="186.05" width="6.90" height="6.90"/>
</g></g>
<g opacity="0.55">
<polyline points="384.70,166.56 389.18,148.06 393.66,117.72 398.14,98.85 402.62,88.12 407.10,82.57 411.58,81.09 416.06,82.94 420.54,87.75 425.02,93.30 429.50,98.85 433.98,104.03 438.46,109.58 442.94,116.24 447.42,123.64 451.90,129.93 456.38,136.22 460.86,141.77 465.34,146.58 469.82,151.02 474.30,155.09 483.26,163.23 492.22,169.52 501.18,174.70 510.14,178.03 519.10,181.36 528.06,183.21 537.02,185.43 545.98,186.53 554.94,187.28 563.90,187.92 572.86,188.45 581.82,188.76 590.78,188.92 599.74,189.07 608.70,189.20 617.66,189.30 626.62,189.39 635.58,189.45 644.54,189.49 653.50,189.50" fill="none" stroke="#dd2222" stroke-width="0.9"/>
<g fill="#ffffff" fill-opacity="0.6" stroke="#dd2222" stroke-width="1.3">
<circle cx="384.70" cy="166.56" r="2.80"/>
<circle cx="389.18" cy="148.06" r="2.80"/>
<circle cx="393.66" cy="117.72" r="2.80"/>
<circle cx="398.14" cy="98.85" r="2.80"/>
<circle cx="402.62" cy="88.12" r="2.80"/>
<circle cx="407.10" cy="82.57" r="2.80"/>
<circle cx="411.58" cy="81.09" r="2.80"/>
<circle cx="416.06" cy="82.94" r="2.80"/>
<circle cx="420.54" cy="87.75" r="2.80"/>
<circle cx="425.02" cy="93.30" r="2.80"/>
<circle cx="429.50" cy="98.85" r="2.80"/>
<circle cx="433.98" cy="104.03" r="2.80"/>
<circle cx="438.46" cy="109.58" r="2.80"/>
<circle cx="442.94" cy="116.24" r="2.80"/>
<circle cx="447.42" cy="123.64" r="2.80"/>
<circle cx="451.90" cy="129.93" r="2.80"/>
<circle cx="456.38" cy="136.22" r="2.80"/>
<circle cx="460.86" cy="141.77" r="2.80"/>
<circle cx="465.34" cy="146.58" r="2.80"/>
<circle cx="469.82" cy="151.02" r="2.80"/>
<circle cx="474.30" cy="155.09" r="2.80"/>
<circle cx="483.26" cy="163.23" r="2.80"/>
<circle cx="492.22" cy="169.52" r="2.80"/>
<circle cx="501.18" cy="174.70" r="2.80"/>
<circle cx="510.14" cy="178.03" r="2.80"/>
<circle cx="519.10" cy="181.36" r="2.80"/>
<circle cx="528.06" cy="183.21" r="2.80"/>
<circle cx="537.02" cy="185.43" r="2.80"/>
<circle cx="545.98" cy="186.53" r="2.80"/>
<circle cx="554.94" cy="187.28" r="2.80"/>
<circle cx="563.90" cy="187.92" r="2.80"/>
<circle cx="572.86" cy="188.45" r="2.80"/>
<circle cx="581.82" cy="188.76" r="2.80"/>
<circle cx="590.78" cy="188.92" r="2.80"/>
<circle cx="599.74" cy="189.07" r="2.80"/>
<circle cx="608.70" cy="189.20" r="2.80"/>
<circle cx="617.66" cy="189.30" r="2.80"/>
<circle cx="626.62" cy="189.39" r="2.80"/>
<circle cx="635.58" cy="189.45" r="2.80"/>
<circle cx="644.54" cy="189.49" r="2.80"/>
<circle cx="653.50" cy="189.50" r="2.80"/>
</g></g>
<polyline points="384.70,174.08 389.18,171.71 393.66,164.93 398.14,155.09 402.62,143.56 407.10,132.03 411.58,121.17 416.06,110.66 420.54,101.16 425.02,92.00 429.50,83.53 433.98,75.89 438.46,68.94 442.94,62.66 447.42,57.07 451.90,52.12 456.38,47.91 460.86,44.45 465.34,41.81 469.82,40.05 474.30,38.76 483.26,37.06 492.22,35.87 501.18,35.03 510.14,34.35 519.10,34.01 528.06,34.01 537.02,34.01 545.98,34.01 554.94,34.01 563.90,34.01 572.86,34.01 581.82,34.01 590.78,34.01 599.74,34.01 608.70,34.01 617.66,34.01 626.62,34.01 635.58,34.01 644.54,34.01 653.50,34.01" fill="none" stroke="#7a7a7a" stroke-width="0.8"/>
<g fill="#ffffff" stroke="#7a7a7a" stroke-width="0.95">
<path d="M386.47,170.91L387.87,172.31L386.10,174.08L387.87,175.86L386.47,177.26L384.70,175.48L382.93,177.26L381.53,175.86L383.30,174.08L381.53,172.31L382.93,170.91L384.70,172.68Z"/>
<path d="M390.95,168.54L392.35,169.94L390.58,171.71L392.35,173.48L390.95,174.88L389.18,173.11L387.41,174.88L386.01,173.48L387.78,171.71L386.01,169.94L387.41,168.54L389.18,170.31Z"/>
<path d="M395.43,161.75L396.83,163.15L395.06,164.93L396.83,166.70L395.43,168.10L393.66,166.33L391.89,168.10L390.49,166.70L392.26,164.93L390.49,163.15L391.89,161.75L393.66,163.53Z"/>
<path d="M399.91,151.92L401.31,153.32L399.54,155.09L401.31,156.86L399.91,158.26L398.14,156.49L396.37,158.26L394.97,156.86L396.74,155.09L394.97,153.32L396.37,151.92L398.14,153.69Z"/>
<path d="M404.39,140.38L405.79,141.78L404.02,143.56L405.79,145.33L404.39,146.73L402.62,144.96L400.85,146.73L399.45,145.33L401.22,143.56L399.45,141.78L400.85,140.38L402.62,142.16Z"/>
<path d="M408.87,128.85L410.27,130.25L408.50,132.03L410.27,133.80L408.87,135.20L407.10,133.43L405.33,135.20L403.93,133.80L405.70,132.03L403.93,130.25L405.33,128.85L407.10,130.63Z"/>
<path d="M413.35,118.00L414.75,119.40L412.98,121.17L414.75,122.95L413.35,124.35L411.58,122.57L409.81,124.35L408.41,122.95L410.18,121.17L408.41,119.40L409.81,118.00L411.58,119.77Z"/>
<path d="M417.83,107.49L419.23,108.89L417.46,110.66L419.23,112.43L417.83,113.83L416.06,112.06L414.29,113.83L412.89,112.43L414.66,110.66L412.89,108.89L414.29,107.49L416.06,109.26Z"/>
<path d="M422.31,97.99L423.71,99.39L421.94,101.16L423.71,102.94L422.31,104.34L420.54,102.56L418.77,104.34L417.37,102.94L419.14,101.16L417.37,99.39L418.77,97.99L420.54,99.76Z"/>
<path d="M426.79,88.83L428.19,90.23L426.42,92.00L428.19,93.78L426.79,95.18L425.02,93.41L423.25,95.18L421.85,93.78L423.62,92.00L421.85,90.23L423.25,88.83L425.02,90.60Z"/>
<path d="M431.27,80.35L432.67,81.75L430.90,83.53L432.67,85.30L431.27,86.70L429.50,84.93L427.73,86.70L426.33,85.30L428.10,83.53L426.33,81.75L427.73,80.35L429.50,82.13Z"/>
<path d="M435.75,72.72L437.15,74.12L435.38,75.89L437.15,77.67L435.75,79.07L433.98,77.29L432.21,79.07L430.81,77.67L432.58,75.89L430.81,74.12L432.21,72.72L433.98,74.49Z"/>
<path d="M440.23,65.77L441.63,67.17L439.86,68.94L441.63,70.72L440.23,72.12L438.46,70.34L436.69,72.12L435.29,70.72L437.06,68.94L435.29,67.17L436.69,65.77L438.46,67.54Z"/>
<path d="M444.71,59.49L446.11,60.89L444.34,62.66L446.11,64.44L444.71,65.84L442.94,64.06L441.17,65.84L439.77,64.44L441.54,62.66L439.77,60.89L441.17,59.49L442.94,61.26Z"/>
<path d="M449.19,53.90L450.59,55.30L448.82,57.07L450.59,58.84L449.19,60.24L447.42,58.47L445.65,60.24L444.25,58.84L446.02,57.07L444.25,55.30L445.65,53.90L447.42,55.67Z"/>
<path d="M453.67,48.94L455.07,50.34L453.30,52.12L455.07,53.89L453.67,55.29L451.90,53.52L450.13,55.29L448.73,53.89L450.50,52.12L448.73,50.34L450.13,48.94L451.90,50.72Z"/>
<path d="M458.15,44.74L459.55,46.14L457.78,47.91L459.55,49.69L458.15,51.09L456.38,49.31L454.61,51.09L453.21,49.69L454.98,47.91L453.21,46.14L454.61,44.74L456.38,46.51Z"/>
<path d="M462.63,41.28L464.03,42.68L462.26,44.45L464.03,46.23L462.63,47.63L460.86,45.85L459.09,47.63L457.69,46.23L459.46,44.45L457.69,42.68L459.09,41.28L460.86,43.05Z"/>
<path d="M467.11,38.63L468.51,40.03L466.74,41.81L468.51,43.58L467.11,44.98L465.34,43.21L463.57,44.98L462.17,43.58L463.94,41.81L462.17,40.03L463.57,38.63L465.34,40.41Z"/>
<path d="M471.59,36.87L472.99,38.27L471.22,40.05L472.99,41.82L471.59,43.22L469.82,41.45L468.05,43.22L466.65,41.82L468.42,40.05L466.65,38.27L468.05,36.87L469.82,38.65Z"/>
<path d="M476.07,35.58L477.47,36.98L475.70,38.76L477.47,40.53L476.07,41.93L474.30,40.16L472.53,41.93L471.13,40.53L472.90,38.76L471.13,36.98L472.53,35.58L474.30,37.36Z"/>
<path d="M485.03,33.89L486.43,35.29L484.66,37.06L486.43,38.83L485.03,40.23L483.26,38.46L481.49,40.23L480.09,38.83L481.86,37.06L480.09,35.29L481.49,33.89L483.26,35.66Z"/>
<path d="M493.99,32.70L495.39,34.10L493.62,35.87L495.39,37.65L493.99,39.05L492.22,37.27L490.45,39.05L489.05,37.65L490.82,35.87L489.05,34.10L490.45,32.70L492.22,34.47Z"/>
<path d="M502.95,31.85L504.35,33.25L502.58,35.03L504.35,36.80L502.95,38.20L501.18,36.43L499.41,38.20L498.01,36.80L499.78,35.03L498.01,33.25L499.41,31.85L501.18,33.62Z"/>
<path d="M511.91,31.17L513.31,32.57L511.54,34.35L513.31,36.12L511.91,37.52L510.14,35.75L508.37,37.52L506.97,36.12L508.74,34.35L506.97,32.57L508.37,31.17L510.14,32.95Z"/>
<path d="M520.87,30.83L522.27,32.23L520.50,34.01L522.27,35.78L520.87,37.18L519.10,35.41L517.33,37.18L515.93,35.78L517.70,34.01L515.93,32.23L517.33,30.83L519.10,32.61Z"/>
<path d="M529.83,30.83L531.23,32.23L529.46,34.01L531.23,35.78L529.83,37.18L528.06,35.41L526.29,37.18L524.89,35.78L526.66,34.01L524.89,32.23L526.29,30.83L528.06,32.61Z"/>
<path d="M538.79,30.83L540.19,32.23L538.42,34.01L540.19,35.78L538.79,37.18L537.02,35.41L535.25,37.18L533.85,35.78L535.62,34.01L533.85,32.23L535.25,30.83L537.02,32.61Z"/>
<path d="M547.75,30.83L549.15,32.23L547.38,34.01L549.15,35.78L547.75,37.18L545.98,35.41L544.21,37.18L542.81,35.78L544.58,34.01L542.81,32.23L544.21,30.83L545.98,32.61Z"/>
<path d="M556.71,30.83L558.11,32.23L556.34,34.01L558.11,35.78L556.71,37.18L554.94,35.41L553.17,37.18L551.77,35.78L553.54,34.01L551.77,32.23L553.17,30.83L554.94,32.61Z"/>
<path d="M565.67,30.83L567.07,32.23L565.30,34.01L567.07,35.78L565.67,37.18L563.90,35.41L562.13,37.18L560.73,35.78L562.50,34.01L560.73,32.23L562.13,30.83L563.90,32.61Z"/>
<path d="M574.63,30.83L576.03,32.23L574.26,34.01L576.03,35.78L574.63,37.18L572.86,35.41L571.09,37.18L569.69,35.78L571.46,34.01L569.69,32.23L571.09,30.83L572.86,32.61Z"/>
<path d="M583.59,30.83L584.99,32.23L583.22,34.01L584.99,35.78L583.59,37.18L581.82,35.41L580.05,37.18L578.65,35.78L580.42,34.01L578.65,32.23L580.05,30.83L581.82,32.61Z"/>
<path d="M592.55,30.83L593.95,32.23L592.18,34.01L593.95,35.78L592.55,37.18L590.78,35.41L589.01,37.18L587.61,35.78L589.38,34.01L587.61,32.23L589.01,30.83L590.78,32.61Z"/>
<path d="M601.51,30.83L602.91,32.23L601.14,34.01L602.91,35.78L601.51,37.18L599.74,35.41L597.97,37.18L596.57,35.78L598.34,34.01L596.57,32.23L597.97,30.83L599.74,32.61Z"/>
<path d="M610.47,30.83L611.87,32.23L610.10,34.01L611.87,35.78L610.47,37.18L608.70,35.41L606.93,37.18L605.53,35.78L607.30,34.01L605.53,32.23L606.93,30.83L608.70,32.61Z"/>
<path d="M619.43,30.83L620.83,32.23L619.06,34.01L620.83,35.78L619.43,37.18L617.66,35.41L615.89,37.18L614.49,35.78L616.26,34.01L614.49,32.23L615.89,30.83L617.66,32.61Z"/>
<path d="M628.39,30.83L629.79,32.23L628.02,34.01L629.79,35.78L628.39,37.18L626.62,35.41L624.85,37.18L623.45,35.78L625.22,34.01L623.45,32.23L624.85,30.83L626.62,32.61Z"/>
<path d="M637.35,30.83L638.75,32.23L636.98,34.01L638.75,35.78L637.35,37.18L635.58,35.41L633.81,37.18L632.41,35.78L634.18,34.01L632.41,32.23L633.81,30.83L635.58,32.61Z"/>
<path d="M646.31,30.83L647.71,32.23L645.94,34.01L647.71,35.78L646.31,37.18L644.54,35.41L642.77,37.18L641.37,35.78L643.14,34.01L641.37,32.23L642.77,30.83L644.54,32.61Z"/>
<path d="M655.27,30.83L656.67,32.23L654.90,34.01L656.67,35.78L655.27,37.18L653.50,35.41L651.73,37.18L650.33,35.78L652.10,34.01L650.33,32.23L651.73,30.83L653.50,32.61Z"/>
</g>
<polyline points="384.70,174.08 389.18,170.69 393.66,165.27 398.14,156.79 402.62,146.61 407.10,135.42 411.58,122.87 416.06,108.62 420.54,93.36 425.02,78.44 429.50,64.53 433.98,51.98 438.46,42.15 442.94,33.67 447.42,28.58 451.90,24.17 456.38,19.08 460.86,14.67 465.34,11.96 469.82,11.46 474.30,11.28 483.26,11.28 492.22,11.28 501.18,11.28 510.14,11.28 519.10,11.28 528.06,11.28 537.02,11.28 545.98,11.28 554.94,12.30 563.90,12.30 572.86,12.30 581.82,12.30 590.78,12.30 599.74,12.30 608.70,12.30 617.66,12.30 626.62,12.30 635.58,12.30 644.54,12.30 653.50,12.30" fill="none" stroke="#7a7a7a" stroke-width="0.8"/>
<g fill="#ffffff" stroke="#7a7a7a" stroke-width="0.95">
<path d="M381.70,171.92L387.70,171.92L384.70,177.32Z"/>
<path d="M386.18,168.53L392.18,168.53L389.18,173.93Z"/>
<path d="M390.66,163.11L396.66,163.11L393.66,168.51Z"/>
<path d="M395.14,154.63L401.14,154.63L398.14,160.03Z"/>
<path d="M399.62,144.45L405.62,144.45L402.62,149.85Z"/>
<path d="M404.10,133.26L410.10,133.26L407.10,138.66Z"/>
<path d="M408.58,120.71L414.58,120.71L411.58,126.11Z"/>
<path d="M413.06,106.46L419.06,106.46L416.06,111.86Z"/>
<path d="M417.54,91.20L423.54,91.20L420.54,96.60Z"/>
<path d="M422.02,76.28L428.02,76.28L425.02,81.68Z"/>
<path d="M426.50,62.37L432.50,62.37L429.50,67.77Z"/>
<path d="M430.98,49.82L436.98,49.82L433.98,55.22Z"/>
<path d="M435.46,39.99L441.46,39.99L438.46,45.39Z"/>
<path d="M439.94,31.51L445.94,31.51L442.94,36.91Z"/>
<path d="M444.42,26.42L450.42,26.42L447.42,31.82Z"/>
<path d="M448.90,22.01L454.90,22.01L451.90,27.41Z"/>
<path d="M453.38,16.92L459.38,16.92L456.38,22.32Z"/>
<path d="M457.86,12.51L463.86,12.51L460.86,17.91Z"/>
<path d="M462.34,9.80L468.34,9.80L465.34,15.20Z"/>
<path d="M466.82,9.30L472.82,9.30L469.82,14.70Z"/>
<path d="M471.30,9.12L477.30,9.12L474.30,14.52Z"/>
<path d="M480.26,9.12L486.26,9.12L483.26,14.52Z"/>
<path d="M489.22,9.12L495.22,9.12L492.22,14.52Z"/>
<path d="M498.18,9.12L504.18,9.12L501.18,14.52Z"/>
<path d="M507.14,9.12L513.14,9.12L510.14,14.52Z"/>
<path d="M516.10,9.12L522.10,9.12L519.10,14.52Z"/>
<path d="M525.06,9.12L531.06,9.12L528.06,14.52Z"/>
<path d="M534.02,9.12L540.02,9.12L537.02,14.52Z"/>
<path d="M542.98,9.12L548.98,9.12L545.98,14.52Z"/>
<path d="M551.94,10.14L557.94,10.14L554.94,15.54Z"/>
<path d="M560.90,10.14L566.90,10.14L563.90,15.54Z"/>
<path d="M569.86,10.14L575.86,10.14L572.86,15.54Z"/>
<path d="M578.82,10.14L584.82,10.14L581.82,15.54Z"/>
<path d="M587.78,10.14L593.78,10.14L590.78,15.54Z"/>
<path d="M596.74,10.14L602.74,10.14L599.74,15.54Z"/>
<path d="M605.70,10.14L611.70,10.14L608.70,15.54Z"/>
<path d="M614.66,10.14L620.66,10.14L617.66,15.54Z"/>
<path d="M623.62,10.14L629.62,10.14L626.62,15.54Z"/>
<path d="M632.58,10.14L638.58,10.14L635.58,15.54Z"/>
<path d="M641.54,10.14L647.54,10.14L644.54,15.54Z"/>
<path d="M650.50,10.14L656.50,10.14L653.50,15.54Z"/>
</g>
<polyline points="384.70,174.08 389.18,171.37 393.66,164.59 398.14,155.43 402.62,144.91 407.10,134.06 411.58,123.21 416.06,112.35 420.54,102.18 425.02,92.68 429.50,83.86 433.98,75.79 438.46,68.26 442.94,61.24 447.42,54.70 451.90,48.61 456.38,43.40 460.86,39.28 465.34,36.04 469.82,33.53 474.30,31.29 483.26,26.89 492.22,23.49 501.18,20.78 510.14,18.74 519.10,17.73 528.06,17.39 537.02,26.55 545.98,26.55 554.94,26.55 563.90,26.55 572.86,26.55 581.82,26.55 590.78,26.55 599.74,26.55 608.70,26.55 617.66,26.55 626.62,26.55 635.58,26.55 644.54,26.55 653.50,26.55" fill="none" stroke="#7a7a7a" stroke-width="0.8"/>
<g fill="#ffffff" stroke="#7a7a7a" stroke-width="0.95">
<circle cx="384.70" cy="174.08" r="2.80"/>
<circle cx="389.18" cy="171.37" r="2.80"/>
<circle cx="393.66" cy="164.59" r="2.80"/>
<circle cx="398.14" cy="155.43" r="2.80"/>
<circle cx="402.62" cy="144.91" r="2.80"/>
<circle cx="407.10" cy="134.06" r="2.80"/>
<circle cx="411.58" cy="123.21" r="2.80"/>
<circle cx="416.06" cy="112.35" r="2.80"/>
<circle cx="420.54" cy="102.18" r="2.80"/>
<circle cx="425.02" cy="92.68" r="2.80"/>
<circle cx="429.50" cy="83.86" r="2.80"/>
<circle cx="433.98" cy="75.79" r="2.80"/>
<circle cx="438.46" cy="68.26" r="2.80"/>
<circle cx="442.94" cy="61.24" r="2.80"/>
<circle cx="447.42" cy="54.70" r="2.80"/>
<circle cx="451.90" cy="48.61" r="2.80"/>
<circle cx="456.38" cy="43.40" r="2.80"/>
<circle cx="460.86" cy="39.28" r="2.80"/>
<circle cx="465.34" cy="36.04" r="2.80"/>
<circle cx="469.82" cy="33.53" r="2.80"/>
<circle cx="474.30" cy="31.29" r="2.80"/>
<circle cx="483.26" cy="26.89" r="2.80"/>
<circle cx="492.22" cy="23.49" r="2.80"/>
<circle cx="501.18" cy="20.78" r="2.80"/>
<circle cx="510.14" cy="18.74" r="2.80"/>
<circle cx="519.10" cy="17.73" r="2.80"/>
<circle cx="528.06" cy="17.39" r="2.80"/>
<circle cx="537.02" cy="26.55" r="2.80"/>
<circle cx="545.98" cy="26.55" r="2.80"/>
<circle cx="554.94" cy="26.55" r="2.80"/>
<circle cx="563.90" cy="26.55" r="2.80"/>
<circle cx="572.86" cy="26.55" r="2.80"/>
<circle cx="581.82" cy="26.55" r="2.80"/>
<circle cx="590.78" cy="26.55" r="2.80"/>
<circle cx="599.74" cy="26.55" r="2.80"/>
<circle cx="608.70" cy="26.55" r="2.80"/>
<circle cx="617.66" cy="26.55" r="2.80"/>
<circle cx="626.62" cy="26.55" r="2.80"/>
<circle cx="635.58" cy="26.55" r="2.80"/>
<circle cx="644.54" cy="26.55" r="2.80"/>
<circle cx="653.50" cy="26.55" r="2.80"/>
</g>
<polyline points="384.70,174.08 389.18,172.05 393.66,166.62 398.14,158.48 402.62,148.65 407.10,138.13 411.58,127.28 416.06,116.42 420.54,105.23 425.02,93.70 429.50,82.51 433.98,71.32 438.46,59.78 442.94,48.25 447.42,36.72 451.90,28.24 456.38,20.44 460.86,16.71 465.34,14.67 469.82,14.18 474.30,14.00 483.26,14.00 492.22,14.00 501.18,14.00 510.14,14.00 519.10,14.00 528.06,14.00 537.02,14.00 545.98,14.00 554.94,14.00 563.90,14.00 572.86,14.00 581.82,14.00 590.78,14.00 599.74,14.00 608.70,14.00 617.66,14.00 626.62,14.00 635.58,14.00 644.54,14.00 653.50,14.00" fill="none" stroke="#7a7a7a" stroke-width="0.8"/>
<g fill="#ffffff" stroke="#7a7a7a" stroke-width="0.95">
<path d="M384.70,169.86L387.08,174.08L384.70,178.31L382.32,174.08Z"/>
<path d="M389.18,167.82L391.56,172.05L389.18,176.27L386.80,172.05Z"/>
<path d="M393.66,162.40L396.04,166.62L393.66,170.85L391.28,166.62Z"/>
<path d="M398.14,154.26L400.52,158.48L398.14,162.71L395.76,158.48Z"/>
<path d="M402.62,144.42L405.00,148.65L402.62,152.87L400.24,148.65Z"/>
<path d="M407.10,133.91L409.48,138.13L407.10,142.36L404.72,138.13Z"/>
<path d="M411.58,123.05L413.96,127.28L411.58,131.50L409.20,127.28Z"/>
<path d="M416.06,112.20L418.44,116.42L416.06,120.65L413.68,116.42Z"/>
<path d="M420.54,101.01L422.92,105.23L420.54,109.46L418.16,105.23Z"/>
<path d="M425.02,89.48L427.40,93.70L425.02,97.92L422.64,93.70Z"/>
<path d="M429.50,78.28L431.88,82.51L429.50,86.73L427.12,82.51Z"/>
<path d="M433.98,67.09L436.36,71.32L433.98,75.54L431.60,71.32Z"/>
<path d="M438.46,55.56L440.84,59.78L438.46,64.01L436.08,59.78Z"/>
<path d="M442.94,44.03L445.32,48.25L442.94,52.48L440.56,48.25Z"/>
<path d="M447.42,32.50L449.80,36.72L447.42,40.94L445.04,36.72Z"/>
<path d="M451.90,24.02L454.28,28.24L451.90,32.47L449.52,28.24Z"/>
<path d="M456.38,16.22L458.76,20.44L456.38,24.66L454.00,20.44Z"/>
<path d="M460.86,12.49L463.24,16.71L460.86,20.93L458.48,16.71Z"/>
<path d="M465.34,10.45L467.72,14.67L465.34,18.90L462.96,14.67Z"/>
<path d="M469.82,9.95L472.20,14.18L469.82,18.40L467.44,14.18Z"/>
<path d="M474.30,9.77L476.68,14.00L474.30,18.22L471.92,14.00Z"/>
<path d="M483.26,9.77L485.64,14.00L483.26,18.22L480.88,14.00Z"/>
<path d="M492.22,9.77L494.60,14.00L492.22,18.22L489.84,14.00Z"/>
<path d="M501.18,9.77L503.56,14.00L501.18,18.22L498.80,14.00Z"/>
<path d="M510.14,9.77L512.52,14.00L510.14,18.22L507.76,14.00Z"/>
<path d="M519.10,9.77L521.48,14.00L519.10,18.22L516.72,14.00Z"/>
<path d="M528.06,9.77L530.44,14.00L528.06,18.22L525.68,14.00Z"/>
<path d="M537.02,9.77L539.40,14.00L537.02,18.22L534.64,14.00Z"/>
<path d="M545.98,9.77L548.36,14.00L545.98,18.22L543.60,14.00Z"/>
<path d="M554.94,9.77L557.32,14.00L554.94,18.22L552.56,14.00Z"/>
<path d="M563.90,9.77L566.28,14.00L563.90,18.22L561.52,14.00Z"/>
<path d="M572.86,9.77L575.24,14.00L572.86,18.22L570.48,14.00Z"/>
<path d="M581.82,9.77L584.20,14.00L581.82,18.22L579.44,14.00Z"/>
<path d="M590.78,9.77L593.16,14.00L590.78,18.22L588.40,14.00Z"/>
<path d="M599.74,9.77L602.12,14.00L599.74,18.22L597.36,14.00Z"/>
<path d="M608.70,9.77L611.08,14.00L608.70,18.22L606.32,14.00Z"/>
<path d="M617.66,9.77L620.04,14.00L617.66,18.22L615.28,14.00Z"/>
<path d="M626.62,9.77L629.00,14.00L626.62,18.22L624.24,14.00Z"/>
<path d="M635.58,9.77L637.96,14.00L635.58,18.22L633.20,14.00Z"/>
<path d="M644.54,9.77L646.92,14.00L644.54,18.22L642.16,14.00Z"/>
<path d="M653.50,9.77L655.88,14.00L653.50,18.22L651.12,14.00Z"/>
</g>
<polyline points="384.70,174.08 389.18,172.05 393.66,166.96 398.14,159.16 402.62,150.34 407.10,140.51 411.58,130.67 416.06,121.17 420.54,111.68 425.02,102.18 429.50,93.70 433.98,85.22 438.46,77.08 442.94,70.30 447.42,63.85 451.90,57.41 456.38,52.32 460.86,47.91 465.34,43.50 469.82,39.77 474.30,36.38 483.26,30.28 492.22,25.87 501.18,22.82 510.14,19.76 519.10,17.39 528.06,15.95 537.02,15.18 545.98,14.74 554.94,14.51 563.90,14.44 572.86,14.38 581.82,14.33 590.78,14.29 599.74,14.25 608.70,14.23 617.66,14.20 626.62,14.19 635.58,14.17 644.54,14.17 653.50,14.17" fill="none" stroke="#1f4fd4" stroke-width="1.0"/>
<g fill="#ffffff" stroke="#1f4fd4" stroke-width="1.4">
<rect x="381.25" y="170.63" width="6.90" height="6.90"/>
<rect x="385.73" y="168.60" width="6.90" height="6.90"/>
<rect x="390.21" y="163.51" width="6.90" height="6.90"/>
<rect x="394.69" y="155.71" width="6.90" height="6.90"/>
<rect x="399.17" y="146.89" width="6.90" height="6.90"/>
<rect x="403.65" y="137.06" width="6.90" height="6.90"/>
<rect x="408.13" y="127.22" width="6.90" height="6.90"/>
<rect x="412.61" y="117.72" width="6.90" height="6.90"/>
<rect x="417.09" y="108.23" width="6.90" height="6.90"/>
<rect x="421.57" y="98.73" width="6.90" height="6.90"/>
<rect x="426.05" y="90.25" width="6.90" height="6.90"/>
<rect x="430.53" y="81.77" width="6.90" height="6.90"/>
<rect x="435.01" y="73.63" width="6.90" height="6.90"/>
<rect x="439.49" y="66.85" width="6.90" height="6.90"/>
<rect x="443.97" y="60.40" width="6.90" height="6.90"/>
<rect x="448.45" y="53.96" width="6.90" height="6.90"/>
<rect x="452.93" y="48.87" width="6.90" height="6.90"/>
<rect x="457.41" y="44.46" width="6.90" height="6.90"/>
<rect x="461.89" y="40.05" width="6.90" height="6.90"/>
<rect x="466.37" y="36.32" width="6.90" height="6.90"/>
<rect x="470.85" y="32.93" width="6.90" height="6.90"/>
<rect x="479.81" y="26.83" width="6.90" height="6.90"/>
<rect x="488.77" y="22.42" width="6.90" height="6.90"/>
<rect x="497.73" y="19.37" width="6.90" height="6.90"/>
<rect x="506.69" y="16.31" width="6.90" height="6.90"/>
<rect x="515.65" y="13.94" width="6.90" height="6.90"/>
<rect x="524.61" y="12.50" width="6.90" height="6.90"/>
<rect x="533.57" y="11.73" width="6.90" height="6.90"/>
<rect x="542.53" y="11.29" width="6.90" height="6.90"/>
<rect x="551.49" y="11.06" width="6.90" height="6.90"/>
<rect x="560.45" y="10.99" width="6.90" height="6.90"/>
<rect x="569.41" y="10.93" width="6.90" height="6.90"/>
<rect x="578.37" y="10.88" width="6.90" height="6.90"/>
<rect x="587.33" y="10.84" width="6.90" height="6.90"/>
<rect x="596.29" y="10.80" width="6.90" height="6.90"/>
<rect x="605.25" y="10.78" width="6.90" height="6.90"/>
<rect x="614.21" y="10.75" width="6.90" height="6.90"/>
<rect x="623.17" y="10.74" width="6.90" height="6.90"/>
<rect x="632.13" y="10.72" width="6.90" height="6.90"/>
<rect x="641.09" y="10.72" width="6.90" height="6.90"/>
<rect x="650.05" y="10.72" width="6.90" height="6.90"/>
</g>
<polyline points="384.70,174.08 389.18,172.05 393.66,166.62 398.14,158.82 402.62,150.00 407.10,140.17 411.58,130.33 416.06,120.83 420.54,111.34 425.02,101.84 429.50,93.36 433.98,85.22 438.46,77.08 442.94,70.64 447.42,64.53 451.90,58.09 456.38,53.34 460.86,48.93 465.34,44.52 469.82,40.79 474.30,37.74 483.26,31.97 492.22,27.90 501.18,24.85 510.14,22.48 519.10,20.44 528.06,19.42 537.02,18.41 545.98,17.80 554.94,17.39 563.90,17.09 572.86,16.85 581.82,16.71 590.78,16.63 599.74,16.57 608.70,16.51 617.66,16.46 626.62,16.42 635.58,16.39 644.54,16.38 653.50,16.37" fill="none" stroke="#dd2222" stroke-width="1.0"/>
<g fill="#ffffff" stroke="#dd2222" stroke-width="1.3">
<circle cx="384.70" cy="174.08" r="2.80"/>
<circle cx="389.18" cy="172.05" r="2.80"/>
<circle cx="393.66" cy="166.62" r="2.80"/>
<circle cx="398.14" cy="158.82" r="2.80"/>
<circle cx="402.62" cy="150.00" r="2.80"/>
<circle cx="407.10" cy="140.17" r="2.80"/>
<circle cx="411.58" cy="130.33" r="2.80"/>
<circle cx="416.06" cy="120.83" r="2.80"/>
<circle cx="420.54" cy="111.34" r="2.80"/>
<circle cx="425.02" cy="101.84" r="2.80"/>
<circle cx="429.50" cy="93.36" r="2.80"/>
<circle cx="433.98" cy="85.22" r="2.80"/>
<circle cx="438.46" cy="77.08" r="2.80"/>
<circle cx="442.94" cy="70.64" r="2.80"/>
<circle cx="447.42" cy="64.53" r="2.80"/>
<circle cx="451.90" cy="58.09" r="2.80"/>
<circle cx="456.38" cy="53.34" r="2.80"/>
<circle cx="460.86" cy="48.93" r="2.80"/>
<circle cx="465.34" cy="44.52" r="2.80"/>
<circle cx="469.82" cy="40.79" r="2.80"/>
<circle cx="474.30" cy="37.74" r="2.80"/>
<circle cx="483.26" cy="31.97" r="2.80"/>
<circle cx="492.22" cy="27.90" r="2.80"/>
<circle cx="501.18" cy="24.85" r="2.80"/>
<circle cx="510.14" cy="22.48" r="2.80"/>
<circle cx="519.10" cy="20.44" r="2.80"/>
<circle cx="528.06" cy="19.42" r="2.80"/>
<circle cx="537.02" cy="18.41" r="2.80"/>
<circle cx="545.98" cy="17.80" r="2.80"/>
<circle cx="554.94" cy="17.39" r="2.80"/>
<circle cx="563.90" cy="17.09" r="2.80"/>
<circle cx="572.86" cy="16.85" r="2.80"/>
<circle cx="581.82" cy="16.71" r="2.80"/>
<circle cx="590.78" cy="16.63" r="2.80"/>
<circle cx="599.74" cy="16.57" r="2.80"/>
<circle cx="608.70" cy="16.51" r="2.80"/>
<circle cx="617.66" cy="16.46" r="2.80"/>
<circle cx="626.62" cy="16.42" r="2.80"/>
<circle cx="635.58" cy="16.39" r="2.80"/>
<circle cx="644.54" cy="16.38" r="2.80"/>
<circle cx="653.50" cy="16.37" r="2.80"/>
</g>
</g>
<rect x="384.7" y="4.5" width="268.8" height="203.5" fill="none" stroke="#222" stroke-width="1.3"/>
<path d="M384.7,208.00h3.5 M384.7,191.04h2.0 M384.7,174.08h3.5 M384.7,157.12h2.0 M384.7,140.17h3.5 M384.7,123.21h2.0 M384.7,106.25h3.5 M384.7,89.29h2.0 M384.7,72.33h3.5 M384.7,55.38h2.0 M384.7,38.42h3.5 M384.7,21.46h2.0 M384.7,4.50h3.5 M384.70,208.0v-3.5 M407.10,208.0v-2.0 M429.50,208.0v-3.5 M451.90,208.0v-2.0 M474.30,208.0v-3.5 M496.70,208.0v-2.0 M519.10,208.0v-3.5 M541.50,208.0v-2.0 M563.90,208.0v-3.5 M586.30,208.0v-2.0 M608.70,208.0v-3.5 M631.10,208.0v-2.0 M653.50,208.0v-3.5 M653.5,208.00h-2.0 M653.5,189.50h-3.5 M653.5,171.00h-2.0 M653.5,152.50h-3.5 M653.5,134.00h-2.0 M653.5,115.50h-3.5 M653.5,97.00h-2.0 M653.5,78.50h-3.5 M653.5,60.00h-2.0 M653.5,41.50h-3.5 M653.5,23.00h-2.0 M653.5,4.50h-3.5" stroke="#222" stroke-width="1.2" fill="none"/>
<g font-size="12" fill="#111" stroke="#111" stroke-width="0.2"><text x="381.60" y="212.30" text-anchor="end">−1</text><text x="381.60" y="178.38" text-anchor="end">0</text><text x="381.60" y="144.47" text-anchor="end">1</text><text x="381.60" y="110.55" text-anchor="end">2</text><text x="381.60" y="76.63" text-anchor="end">3</text><text x="381.60" y="42.72" text-anchor="end">4</text><text x="381.60" y="8.80" text-anchor="end">5</text><text x="384.70" y="220.00" text-anchor="middle">0</text><text x="429.50" y="220.00" text-anchor="middle">1</text><text x="474.30" y="220.00" text-anchor="middle">2</text><text x="519.10" y="220.00" text-anchor="middle">3</text><text x="563.90" y="220.00" text-anchor="middle">4</text><text x="608.70" y="220.00" text-anchor="middle">5</text><text x="653.50" y="220.00" text-anchor="middle">6</text></g>
<g font-size="12" fill="#9a9a9a" stroke="#9a9a9a" stroke-width="0.2"><text x="657.10" y="193.80">0</text><text x="657.10" y="156.80">10</text><text x="657.10" y="119.80">20</text><text x="657.10" y="82.80">30</text><text x="657.10" y="45.80">40</text><text x="657.10" y="8.80">50</text></g>
<text x="519.10" y="236.40" font-size="12.7" text-anchor="middle" fill="#111">{110} planar separation distance <tspan style="font-family:&quot;Liberation Serif&quot;;font-style:italic">d</tspan> (Å)</text>
<text transform="translate(362.30,105.65) rotate(-90)" font-size="12.8" text-anchor="middle" fill="#111">Decohesive energy <tspan style="font-family:&quot;Liberation Serif&quot;;font-style:italic">γ</tspan><tspan font-size="9" dy="2">d</tspan><tspan dy="-2"> (J/m</tspan><tspan font-size="9" dy="-5">2</tspan><tspan dy="5">)</tspan></text>
<text transform="translate(681.90,105.85) rotate(-90)" font-size="12.75" text-anchor="middle" fill="#a0a0a0">Decohesion stress <tspan style="font-family:&quot;Liberation Serif&quot;;font-style:italic">σ</tspan> (GPa)</text>
<text x="351.60" y="13.90" font-size="12.5" fill="#111" stroke="#111" stroke-width="0.15">(b)</text>
<rect x="552.7" y="90.6" width="93.2" height="87.0" fill="#ffffff" fill-opacity="0.12" stroke="#c8c8c8" stroke-width="0.9"/>
<line x1="556.7" y1="98.60" x2="577.2" y2="98.60" stroke="#7a7a7a" stroke-width="0.9"/>
<g fill="#fff" stroke="#7a7a7a" stroke-width="0.95"><path d="M568.56,95.27L570.03,96.74L568.17,98.60L570.03,100.46L568.56,101.93L566.70,100.07L564.84,101.93L563.37,100.46L565.23,98.60L563.37,96.74L564.84,95.27L566.70,97.13Z"/></g>
<text x="584.3000000000001" y="102.20" font-size="10" fill="#1a1a1a" stroke="#1a1a1a" stroke-width="0.35">EAM</text>
<line x1="556.7" y1="112.50" x2="577.2" y2="112.50" stroke="#7a7a7a" stroke-width="0.9"/>
<g fill="#fff" stroke="#7a7a7a" stroke-width="0.95"><path d="M563.20,109.98L570.20,109.98L566.70,116.28Z"/></g>
<text x="584.3000000000001" y="116.10" font-size="10" fill="#1a1a1a" stroke="#1a1a1a" stroke-width="0.35">MEAM_2021</text>
<line x1="556.7" y1="126.40" x2="577.2" y2="126.40" stroke="#7a7a7a" stroke-width="0.9"/>
<g fill="#fff" stroke="#7a7a7a" stroke-width="0.95"><circle cx="566.70" cy="126.40" r="2.94"/></g>
<text x="584.3000000000001" y="130.00" font-size="10" fill="#1a1a1a" stroke="#1a1a1a" stroke-width="0.35">MEAM_2015</text>
<line x1="556.7" y1="140.30" x2="577.2" y2="140.30" stroke="#7a7a7a" stroke-width="0.9"/>
<g fill="#fff" stroke="#7a7a7a" stroke-width="0.95"><path d="M566.70,135.86L569.19,140.30L566.70,144.74L564.21,140.30Z"/></g>
<text x="584.3000000000001" y="143.90" font-size="10" fill="#1a1a1a" stroke="#1a1a1a" stroke-width="0.35">qSNAP</text>
<line x1="556.7" y1="154.20" x2="577.2" y2="154.20" stroke="#dd2222" stroke-width="1.2"/>
<g fill="#fff" stroke="#dd2222" stroke-width="1.3"><circle cx="566.70" cy="154.20" r="2.94"/></g>
<text x="584.3000000000001" y="157.80" font-size="10" fill="#1a1a1a" stroke="#1a1a1a" stroke-width="0.35">DFT</text>
<line x1="556.7" y1="168.10" x2="577.2" y2="168.10" stroke="#1f4fd4" stroke-width="1.2"/>
<g fill="#fff" stroke="#1f4fd4" stroke-width="1.4"><rect x="563.08" y="164.48" width="7.25" height="7.25"/></g>
<text x="584.3000000000001" y="171.70" font-size="10" fill="#1a1a1a" stroke="#1a1a1a" stroke-width="0.35">DP</text>
<defs><clipPath id="clipc"><rect x="33.6" y="256.0" width="268.8" height="203.5"/></clipPath><linearGradient id="gradc" x1="0" y1="0" x2="1" y2="1"><stop offset="0" stop-color="#fefefe"/><stop offset="0.5" stop-color="#ebeef1"/><stop offset="1" stop-color="#d9dfe3"/></linearGradient></defs>
<rect x="33.6" y="256.0" width="268.8" height="203.5" fill="url(#gradc)"/>
<g clip-path="url(#clipc)">
<line x1="78.40" y1="256.0" x2="78.40" y2="459.5" stroke="#4f74dc" stroke-width="0.7" stroke-dasharray="1,1.2"/>
<g opacity="0.5">
<polyline points="33.60,392.90 38.08,374.40 42.56,341.10 47.04,317.05 51.52,307.80 56.00,313.35 60.48,328.15 64.96,344.80 69.44,357.75 73.92,370.70 78.40,383.34 82.88,392.90 87.36,401.72 91.84,409.55 96.32,415.74 100.80,420.65 105.28,424.01 109.76,430.03 114.24,435.88 118.72,435.32 123.20,436.07 132.16,434.53 141.12,434.53 150.08,439.15 159.04,441.00 168.00,441.00 176.96,441.00 185.92,441.00 194.88,441.00 203.84,441.00 212.80,441.00 221.76,441.00 230.72,441.00 239.68,441.00 248.64,441.00 257.60,441.00 266.56,441.00 275.52,441.00 284.48,441.00 293.44,441.00 302.40,441.00" fill="none" stroke="#8a8a8a" stroke-width="0.9" stroke-dasharray="3,2"/>
<g fill="#ffffff" fill-opacity="0.6" stroke="#8a8a8a" stroke-width="0.9">
<path d="M35.37,389.73L36.77,391.13L35.00,392.90L36.77,394.67L35.37,396.07L33.60,394.30L31.83,396.07L30.43,394.67L32.20,392.90L30.43,391.13L31.83,389.73L33.60,391.50Z"/>
<path d="M39.85,371.23L41.25,372.63L39.48,374.40L41.25,376.17L39.85,377.57L38.08,375.80L36.31,377.57L34.91,376.17L36.68,374.40L34.91,372.63L36.31,371.23L38.08,373.00Z"/>
<path d="M44.33,337.93L45.73,339.33L43.96,341.10L45.73,342.87L44.33,344.27L42.56,342.50L40.79,344.27L39.39,342.87L41.16,341.10L39.39,339.33L40.79,337.93L42.56,339.70Z"/>
<path d="M48.81,313.88L50.21,315.28L48.44,317.05L50.21,318.82L48.81,320.22L47.04,318.45L45.27,320.22L43.87,318.82L45.64,317.05L43.87,315.28L45.27,313.88L47.04,315.65Z"/>
<path d="M53.29,304.63L54.69,306.03L52.92,307.80L54.69,309.57L53.29,310.97L51.52,309.20L49.75,310.97L48.35,309.57L50.12,307.80L48.35,306.03L49.75,304.63L51.52,306.40Z"/>
<path d="M57.77,310.18L59.17,311.58L57.40,313.35L59.17,315.12L57.77,316.52L56.00,314.75L54.23,316.52L52.83,315.12L54.60,313.35L52.83,311.58L54.23,310.18L56.00,311.95Z"/>
<path d="M62.25,324.98L63.65,326.38L61.88,328.15L63.65,329.92L62.25,331.32L60.48,329.55L58.71,331.32L57.31,329.92L59.08,328.15L57.31,326.38L58.71,324.98L60.48,326.75Z"/>
<path d="M66.73,341.63L68.13,343.03L66.36,344.80L68.13,346.57L66.73,347.97L64.96,346.20L63.19,347.97L61.79,346.57L63.56,344.80L61.79,343.03L63.19,341.63L64.96,343.40Z"/>
<path d="M71.21,354.58L72.61,355.98L70.84,357.75L72.61,359.52L71.21,360.92L69.44,359.15L67.67,360.92L66.27,359.52L68.04,357.75L66.27,355.98L67.67,354.58L69.44,356.35Z"/>
<path d="M75.69,367.53L77.09,368.93L75.32,370.70L77.09,372.47L75.69,373.87L73.92,372.10L72.15,373.87L70.75,372.47L72.52,370.70L70.75,368.93L72.15,367.53L73.92,369.30Z"/>
<path d="M80.17,380.16L81.57,381.56L79.80,383.34L81.57,385.11L80.17,386.51L78.40,384.74L76.63,386.51L75.23,385.11L77.00,383.34L75.23,381.56L76.63,380.16L78.40,381.94Z"/>
<path d="M84.65,389.73L86.05,391.13L84.28,392.90L86.05,394.67L84.65,396.07L82.88,394.30L81.11,396.07L79.71,394.67L81.48,392.90L79.71,391.13L81.11,389.73L82.88,391.50Z"/>
<path d="M89.13,398.55L90.53,399.95L88.76,401.72L90.53,403.50L89.13,404.90L87.36,403.12L85.59,404.90L84.19,403.50L85.96,401.72L84.19,399.95L85.59,398.55L87.36,400.32Z"/>
<path d="M93.61,406.38L95.01,407.78L93.24,409.55L95.01,411.32L93.61,412.72L91.84,410.95L90.07,412.72L88.67,411.32L90.44,409.55L88.67,407.78L90.07,406.38L91.84,408.15Z"/>
<path d="M98.09,412.57L99.49,413.97L97.72,415.74L99.49,417.52L98.09,418.92L96.32,417.14L94.55,418.92L93.15,417.52L94.92,415.74L93.15,413.97L94.55,412.57L96.32,414.34Z"/>
<path d="M102.57,417.48L103.97,418.88L102.20,420.65L103.97,422.42L102.57,423.82L100.80,422.05L99.03,423.82L97.63,422.42L99.40,420.65L97.63,418.88L99.03,417.48L100.80,419.25Z"/>
<path d="M107.05,420.84L108.45,422.24L106.68,424.01L108.45,425.79L107.05,427.19L105.28,425.41L103.51,427.19L102.11,425.79L103.88,424.01L102.11,422.24L103.51,420.84L105.28,422.61Z"/>
<path d="M111.53,426.86L112.93,428.26L111.16,430.03L112.93,431.81L111.53,433.21L109.76,431.43L107.99,433.21L106.59,431.81L108.36,430.03L106.59,428.26L107.99,426.86L109.76,428.63Z"/>
<path d="M116.01,432.71L117.41,434.11L115.64,435.88L117.41,437.66L116.01,439.06L114.24,437.28L112.47,439.06L111.07,437.66L112.84,435.88L111.07,434.11L112.47,432.71L114.24,434.48Z"/>
<path d="M120.49,432.14L121.89,433.54L120.12,435.32L121.89,437.09L120.49,438.49L118.72,436.72L116.95,438.49L115.55,437.09L117.32,435.32L115.55,433.54L116.95,432.14L118.72,433.92Z"/>
<path d="M124.97,432.89L126.37,434.29L124.60,436.07L126.37,437.84L124.97,439.24L123.20,437.47L121.43,439.24L120.03,437.84L121.80,436.07L120.03,434.29L121.43,432.89L123.20,434.67Z"/>
<path d="M133.93,431.35L135.33,432.75L133.56,434.53L135.33,436.30L133.93,437.70L132.16,435.93L130.39,437.70L128.99,436.30L130.76,434.53L128.99,432.75L130.39,431.35L132.16,433.12Z"/>
<path d="M142.89,431.35L144.29,432.75L142.52,434.53L144.29,436.30L142.89,437.70L141.12,435.93L139.35,437.70L137.95,436.30L139.72,434.53L137.95,432.75L139.35,431.35L141.12,433.12Z"/>
<path d="M151.85,435.98L153.25,437.38L151.48,439.15L153.25,440.92L151.85,442.32L150.08,440.55L148.31,442.32L146.91,440.92L148.68,439.15L146.91,437.38L148.31,435.98L150.08,437.75Z"/>
<path d="M160.81,437.83L162.21,439.23L160.44,441.00L162.21,442.77L160.81,444.17L159.04,442.40L157.27,444.17L155.87,442.77L157.64,441.00L155.87,439.23L157.27,437.83L159.04,439.60Z"/>
<path d="M169.77,437.83L171.17,439.23L169.40,441.00L171.17,442.77L169.77,444.17L168.00,442.40L166.23,444.17L164.83,442.77L166.60,441.00L164.83,439.23L166.23,437.83L168.00,439.60Z"/>
<path d="M178.73,437.83L180.13,439.23L178.36,441.00L180.13,442.77L178.73,444.17L176.96,442.40L175.19,444.17L173.79,442.77L175.56,441.00L173.79,439.23L175.19,437.83L176.96,439.60Z"/>
<path d="M187.69,437.83L189.09,439.23L187.32,441.00L189.09,442.77L187.69,444.17L185.92,442.40L184.15,444.17L182.75,442.77L184.52,441.00L182.75,439.23L184.15,437.83L185.92,439.60Z"/>
<path d="M196.65,437.83L198.05,439.23L196.28,441.00L198.05,442.77L196.65,444.17L194.88,442.40L193.11,444.17L191.71,442.77L193.48,441.00L191.71,439.23L193.11,437.83L194.88,439.60Z"/>
<path d="M205.61,437.83L207.01,439.23L205.24,441.00L207.01,442.77L205.61,444.17L203.84,442.40L202.07,444.17L200.67,442.77L202.44,441.00L200.67,439.23L202.07,437.83L203.84,439.60Z"/>
<path d="M214.57,437.83L215.97,439.23L214.20,441.00L215.97,442.77L214.57,444.17L212.80,442.40L211.03,444.17L209.63,442.77L211.40,441.00L209.63,439.23L211.03,437.83L212.80,439.60Z"/>
<path d="M223.53,437.83L224.93,439.23L223.16,441.00L224.93,442.77L223.53,444.17L221.76,442.40L219.99,444.17L218.59,442.77L220.36,441.00L218.59,439.23L219.99,437.83L221.76,439.60Z"/>
<path d="M232.49,437.83L233.89,439.23L232.12,441.00L233.89,442.77L232.49,444.17L230.72,442.40L228.95,444.17L227.55,442.77L229.32,441.00L227.55,439.23L228.95,437.83L230.72,439.60Z"/>
<path d="M241.45,437.83L242.85,439.23L241.08,441.00L242.85,442.77L241.45,444.17L239.68,442.40L237.91,444.17L236.51,442.77L238.28,441.00L236.51,439.23L237.91,437.83L239.68,439.60Z"/>
<path d="M250.41,437.83L251.81,439.23L250.04,441.00L251.81,442.77L250.41,444.17L248.64,442.40L246.87,444.17L245.47,442.77L247.24,441.00L245.47,439.23L246.87,437.83L248.64,439.60Z"/>
<path d="M259.37,437.83L260.77,439.23L259.00,441.00L260.77,442.77L259.37,444.17L257.60,442.40L255.83,444.17L254.43,442.77L256.20,441.00L254.43,439.23L255.83,437.83L257.60,439.60Z"/>
<path d="M268.33,437.83L269.73,439.23L267.96,441.00L269.73,442.77L268.33,444.17L266.56,442.40L264.79,444.17L263.39,442.77L265.16,441.00L263.39,439.23L264.79,437.83L266.56,439.60Z"/>
<path d="M277.29,437.83L278.69,439.23L276.92,441.00L278.69,442.77L277.29,444.17L275.52,442.40L273.75,444.17L272.35,442.77L274.12,441.00L272.35,439.23L273.75,437.83L275.52,439.60Z"/>
<path d="M286.25,437.83L287.65,439.23L285.88,441.00L287.65,442.77L286.25,444.17L284.48,442.40L282.71,444.17L281.31,442.77L283.08,441.00L281.31,439.23L282.71,437.83L284.48,439.60Z"/>
<path d="M295.21,437.83L296.61,439.23L294.84,441.00L296.61,442.77L295.21,444.17L293.44,442.40L291.67,444.17L290.27,442.77L292.04,441.00L290.27,439.23L291.67,437.83L293.44,439.60Z"/>
<path d="M304.17,437.83L305.57,439.23L303.80,441.00L305.57,442.77L304.17,444.17L302.40,442.40L300.63,444.17L299.23,442.77L301.00,441.00L299.23,439.23L300.63,437.83L302.40,439.60Z"/>
</g></g>
<g opacity="0.5">
<polyline points="33.60,426.20 38.08,389.20 42.56,352.20 47.04,322.60 51.52,302.25 56.00,291.15 60.48,286.34 64.96,294.85 69.44,312.98 73.92,337.40 78.40,359.60 82.88,378.10 87.36,396.60 91.84,411.40 96.32,422.50 100.80,429.90 105.28,435.45 109.76,437.77 114.24,439.15 118.72,440.15 123.20,440.63 132.16,440.68 141.12,440.72 150.08,440.76 159.04,440.80 168.00,440.83 176.96,440.86 185.92,440.89 194.88,440.91 203.84,440.93 212.80,440.94 221.76,440.96 230.72,440.97 239.68,440.98 248.64,440.99 257.60,440.99 266.56,440.99 275.52,441.00 284.48,441.00 293.44,441.00 302.40,441.00" fill="none" stroke="#8a8a8a" stroke-width="0.9" stroke-dasharray="3,2"/>
<g fill="#ffffff" fill-opacity="0.6" stroke="#8a8a8a" stroke-width="0.9">
<path d="M30.60,424.04L36.60,424.04L33.60,429.44Z"/>
<path d="M35.08,387.04L41.08,387.04L38.08,392.44Z"/>
<path d="M39.56,350.04L45.56,350.04L42.56,355.44Z"/>
<path d="M44.04,320.44L50.04,320.44L47.04,325.84Z"/>
<path d="M48.52,300.09L54.52,300.09L51.52,305.49Z"/>
<path d="M53.00,288.99L59.00,288.99L56.00,294.39Z"/>
<path d="M57.48,284.18L63.48,284.18L60.48,289.58Z"/>
<path d="M61.96,292.69L67.96,292.69L64.96,298.09Z"/>
<path d="M66.44,310.82L72.44,310.82L69.44,316.22Z"/>
<path d="M70.92,335.24L76.92,335.24L73.92,340.64Z"/>
<path d="M75.40,357.44L81.40,357.44L78.40,362.84Z"/>
<path d="M79.88,375.94L85.88,375.94L82.88,381.34Z"/>
<path d="M84.36,394.44L90.36,394.44L87.36,399.84Z"/>
<path d="M88.84,409.24L94.84,409.24L91.84,414.64Z"/>
<path d="M93.32,420.34L99.32,420.34L96.32,425.74Z"/>
<path d="M97.80,427.74L103.80,427.74L100.80,433.14Z"/>
<path d="M102.28,433.29L108.28,433.29L105.28,438.69Z"/>
<path d="M106.76,435.61L112.76,435.61L109.76,441.01Z"/>
<path d="M111.24,436.99L117.24,436.99L114.24,442.39Z"/>
<path d="M115.72,437.99L121.72,437.99L118.72,443.39Z"/>
<path d="M120.20,438.47L126.20,438.47L123.20,443.87Z"/>
<path d="M129.16,438.52L135.16,438.52L132.16,443.92Z"/>
<path d="M138.12,438.56L144.12,438.56L141.12,443.96Z"/>
<path d="M147.08,438.60L153.08,438.60L150.08,444.00Z"/>
<path d="M156.04,438.64L162.04,438.64L159.04,444.04Z"/>
<path d="M165.00,438.67L171.00,438.67L168.00,444.07Z"/>
<path d="M173.96,438.70L179.96,438.70L176.96,444.10Z"/>
<path d="M182.92,438.73L188.92,438.73L185.92,444.13Z"/>
<path d="M191.88,438.75L197.88,438.75L194.88,444.15Z"/>
<path d="M200.84,438.77L206.84,438.77L203.84,444.17Z"/>
<path d="M209.80,438.78L215.80,438.78L212.80,444.18Z"/>
<path d="M218.76,438.80L224.76,438.80L221.76,444.20Z"/>
<path d="M227.72,438.81L233.72,438.81L230.72,444.21Z"/>
<path d="M236.68,438.82L242.68,438.82L239.68,444.22Z"/>
<path d="M245.64,438.83L251.64,438.83L248.64,444.23Z"/>
<path d="M254.60,438.83L260.60,438.83L257.60,444.23Z"/>
<path d="M263.56,438.83L269.56,438.83L266.56,444.23Z"/>
<path d="M272.52,438.84L278.52,438.84L275.52,444.24Z"/>
<path d="M281.48,438.84L287.48,438.84L284.48,444.24Z"/>
<path d="M290.44,438.84L296.44,438.84L293.44,444.24Z"/>
<path d="M299.40,438.84L305.40,438.84L302.40,444.24Z"/>
</g></g>
<g opacity="0.5">
<polyline points="33.60,407.70 38.08,385.50 42.56,346.65 47.04,322.60 51.52,315.20 56.00,318.90 60.48,326.30 64.96,333.70 69.44,341.10 73.92,348.50 78.40,357.02 82.88,367.00 87.36,377.77 91.84,389.20 96.32,400.97 100.80,411.40 105.28,419.58 109.76,426.20 114.24,431.62 118.72,435.45 123.20,438.36 132.16,440.07 141.12,441.00 150.08,475.23 159.04,475.23 168.00,441.00 176.96,441.00 185.92,441.00 194.88,441.00 203.84,441.00 212.80,441.00 221.76,441.00 230.72,441.00 239.68,441.00 248.64,441.00 257.60,441.00 266.56,441.00 275.52,441.00 284.48,441.00 293.44,441.00 302.40,441.00" fill="none" stroke="#8a8a8a" stroke-width="0.9" stroke-dasharray="3,2"/>
<g fill="#ffffff" fill-opacity="0.6" stroke="#8a8a8a" stroke-width="0.9">
<circle cx="33.60" cy="407.70" r="2.80"/>
<circle cx="38.08" cy="385.50" r="2.80"/>
<circle cx="42.56" cy="346.65" r="2.80"/>
<circle cx="47.04" cy="322.60" r="2.80"/>
<circle cx="51.52" cy="315.20" r="2.80"/>
<circle cx="56.00" cy="318.90" r="2.80"/>
<circle cx="60.48" cy="326.30" r="2.80"/>
<circle cx="64.96" cy="333.70" r="2.80"/>
<circle cx="69.44" cy="341.10" r="2.80"/>
<circle cx="73.92" cy="348.50" r="2.80"/>
<circle cx="78.40" cy="357.02" r="2.80"/>
<circle cx="82.88" cy="367.00" r="2.80"/>
<circle cx="87.36" cy="377.77" r="2.80"/>
<circle cx="91.84" cy="389.20" r="2.80"/>
<circle cx="96.32" cy="400.97" r="2.80"/>
<circle cx="100.80" cy="411.40" r="2.80"/>
<circle cx="105.28" cy="419.58" r="2.80"/>
<circle cx="109.76" cy="426.20" r="2.80"/>
<circle cx="114.24" cy="431.62" r="2.80"/>
<circle cx="118.72" cy="435.45" r="2.80"/>
<circle cx="123.20" cy="438.36" r="2.80"/>
<circle cx="132.16" cy="440.07" r="2.80"/>
<circle cx="141.12" cy="441.00" r="2.80"/>
<circle cx="150.08" cy="475.23" r="2.80"/>
<circle cx="159.04" cy="475.23" r="2.80"/>
<circle cx="168.00" cy="441.00" r="2.80"/>
<circle cx="176.96" cy="441.00" r="2.80"/>
<circle cx="185.92" cy="441.00" r="2.80"/>
<circle cx="194.88" cy="441.00" r="2.80"/>
<circle cx="203.84" cy="441.00" r="2.80"/>
<circle cx="212.80" cy="441.00" r="2.80"/>
<circle cx="221.76" cy="441.00" r="2.80"/>
<circle cx="230.72" cy="441.00" r="2.80"/>
<circle cx="239.68" cy="441.00" r="2.80"/>
<circle cx="248.64" cy="441.00" r="2.80"/>
<circle cx="257.60" cy="441.00" r="2.80"/>
<circle cx="266.56" cy="441.00" r="2.80"/>
<circle cx="275.52" cy="441.00" r="2.80"/>
<circle cx="284.48" cy="441.00" r="2.80"/>
<circle cx="293.44" cy="441.00" r="2.80"/>
<circle cx="302.40" cy="441.00" r="2.80"/>
</g></g>
<g opacity="0.5">
<polyline points="33.60,392.90 38.08,379.95 42.56,365.15 47.04,350.35 51.52,337.40 56.00,322.60 60.48,311.50 64.96,300.40 69.44,289.30 73.92,289.30 78.40,300.40 82.88,337.40 87.36,370.70 91.84,396.60 96.32,420.65 100.80,435.45 105.28,441.00 109.76,441.00 114.24,441.00 118.72,441.00 123.20,441.00 132.16,441.00 141.12,441.00 150.08,441.00 159.04,441.00 168.00,441.00 176.96,441.00 185.92,441.00 194.88,441.00 203.84,441.00 212.80,441.00 221.76,441.00 230.72,441.00 239.68,441.00 248.64,441.00 257.60,441.00 266.56,441.00 275.52,441.00 284.48,441.00 293.44,441.00 302.40,441.00" fill="none" stroke="#8a8a8a" stroke-width="0.9" stroke-dasharray="3,2"/>
<g fill="#ffffff" fill-opacity="0.6" stroke="#8a8a8a" stroke-width="0.9">
<path d="M33.60,388.68L35.98,392.90L33.60,397.12L31.22,392.90Z"/>
<path d="M38.08,375.73L40.46,379.95L38.08,384.17L35.70,379.95Z"/>
<path d="M42.56,360.93L44.94,365.15L42.56,369.37L40.18,365.15Z"/>
<path d="M47.04,346.13L49.42,350.35L47.04,354.57L44.66,350.35Z"/>
<path d="M51.52,333.18L53.90,337.40L51.52,341.62L49.14,337.40Z"/>
<path d="M56.00,318.38L58.38,322.60L56.00,326.82L53.62,322.60Z"/>
<path d="M60.48,307.28L62.86,311.50L60.48,315.72L58.10,311.50Z"/>
<path d="M64.96,296.18L67.34,300.40L64.96,304.62L62.58,300.40Z"/>
<path d="M69.44,285.08L71.82,289.30L69.44,293.52L67.06,289.30Z"/>
<path d="M73.92,285.08L76.30,289.30L73.92,293.52L71.54,289.30Z"/>
<path d="M78.40,296.18L80.78,300.40L78.40,304.62L76.02,300.40Z"/>
<path d="M82.88,333.18L85.26,337.40L82.88,341.62L80.50,337.40Z"/>
<path d="M87.36,366.48L89.74,370.70L87.36,374.92L84.98,370.70Z"/>
<path d="M91.84,392.38L94.22,396.60L91.84,400.82L89.46,396.60Z"/>
<path d="M96.32,416.43L98.70,420.65L96.32,424.87L93.94,420.65Z"/>
<path d="M100.80,431.23L103.18,435.45L100.80,439.67L98.42,435.45Z"/>
<path d="M105.28,436.78L107.66,441.00L105.28,445.22L102.90,441.00Z"/>
<path d="M109.76,436.78L112.14,441.00L109.76,445.22L107.38,441.00Z"/>
<path d="M114.24,436.78L116.62,441.00L114.24,445.22L111.86,441.00Z"/>
<path d="M118.72,436.78L121.10,441.00L118.72,445.22L116.34,441.00Z"/>
<path d="M123.20,436.78L125.58,441.00L123.20,445.22L120.82,441.00Z"/>
<path d="M132.16,436.78L134.54,441.00L132.16,445.22L129.78,441.00Z"/>
<path d="M141.12,436.78L143.50,441.00L141.12,445.22L138.74,441.00Z"/>
<path d="M150.08,436.78L152.46,441.00L150.08,445.22L147.70,441.00Z"/>
<path d="M159.04,436.78L161.42,441.00L159.04,445.22L156.66,441.00Z"/>
<path d="M168.00,436.78L170.38,441.00L168.00,445.22L165.62,441.00Z"/>
<path d="M176.96,436.78L179.34,441.00L176.96,445.22L174.58,441.00Z"/>
<path d="M185.92,436.78L188.30,441.00L185.92,445.22L183.54,441.00Z"/>
<path d="M194.88,436.78L197.26,441.00L194.88,445.22L192.50,441.00Z"/>
<path d="M203.84,436.78L206.22,441.00L203.84,445.22L201.46,441.00Z"/>
<path d="M212.80,436.78L215.18,441.00L212.80,445.22L210.42,441.00Z"/>
<path d="M221.76,436.78L224.14,441.00L221.76,445.22L219.38,441.00Z"/>
<path d="M230.72,436.78L233.10,441.00L230.72,445.22L228.34,441.00Z"/>
<path d="M239.68,436.78L242.06,441.00L239.68,445.22L237.30,441.00Z"/>
<path d="M248.64,436.78L251.02,441.00L248.64,445.22L246.26,441.00Z"/>
<path d="M257.60,436.78L259.98,441.00L257.60,445.22L255.22,441.00Z"/>
<path d="M266.56,436.78L268.94,441.00L266.56,445.22L264.18,441.00Z"/>
<path d="M275.52,436.78L277.90,441.00L275.52,445.22L273.14,441.00Z"/>
<path d="M284.48,436.78L286.86,441.00L284.48,445.22L282.10,441.00Z"/>
<path d="M293.44,436.78L295.82,441.00L293.44,445.22L291.06,441.00Z"/>
<path d="M302.40,436.78L304.78,441.00L302.40,445.22L300.02,441.00Z"/>
</g></g>
<g opacity="0.55">
<polyline points="33.60,413.99 38.08,393.27 42.56,359.60 47.04,338.88 51.52,330.74 56.00,326.67 60.48,327.41 64.96,332.22 69.44,339.25 73.92,347.76 78.40,356.64 82.88,368.85 87.36,378.84 91.84,389.20 96.32,396.60 100.80,404.74 105.28,406.22 109.76,407.33 114.24,415.84 118.72,417.69 123.20,419.54 132.16,425.09 141.12,431.75 150.08,438.04 159.04,439.52 168.00,439.89 176.96,440.04 185.92,440.17 194.88,440.30 203.84,440.41 212.80,440.52 221.76,440.61 230.72,440.69 239.68,440.77 248.64,440.83 257.60,440.88 266.56,440.93 275.52,440.96 284.48,440.98 293.44,441.00 302.40,441.00" fill="none" stroke="#1f4fd4" stroke-width="0.9"/>
<g fill="#ffffff" fill-opacity="0.6" stroke="#1f4fd4" stroke-width="1.3">
<rect x="30.15" y="410.54" width="6.90" height="6.90"/>
<rect x="34.63" y="389.82" width="6.90" height="6.90"/>
<rect x="39.11" y="356.15" width="6.90" height="6.90"/>
<rect x="43.59" y="335.43" width="6.90" height="6.90"/>
<rect x="48.07" y="327.29" width="6.90" height="6.90"/>
<rect x="52.55" y="323.22" width="6.90" height="6.90"/>
<rect x="57.03" y="323.96" width="6.90" height="6.90"/>
<rect x="61.51" y="328.77" width="6.90" height="6.90"/>
<rect x="65.99" y="335.80" width="6.90" height="6.90"/>
<rect x="70.47" y="344.31" width="6.90" height="6.90"/>
<rect x="74.95" y="353.19" width="6.90" height="6.90"/>
<rect x="79.43" y="365.40" width="6.90" height="6.90"/>
<rect x="83.91" y="375.39" width="6.90" height="6.90"/>
<rect x="88.39" y="385.75" width="6.90" height="6.90"/>
<rect x="92.87" y="393.15" width="6.90" height="6.90"/>
<rect x="97.35" y="401.29" width="6.90" height="6.90"/>
<rect x="101.83" y="402.77" width="6.90" height="6.90"/>
<rect x="106.31" y="403.88" width="6.90" height="6.90"/>
<rect x="110.79" y="412.39" width="6.90" height="6.90"/>
<rect x="115.27" y="414.24" width="6.90" height="6.90"/>
<rect x="119.75" y="416.09" width="6.90" height="6.90"/>
<rect x="128.71" y="421.64" width="6.90" height="6.90"/>
<rect x="137.67" y="428.30" width="6.90" height="6.90"/>
<rect x="146.63" y="434.59" width="6.90" height="6.90"/>
<rect x="155.59" y="436.07" width="6.90" height="6.90"/>
<rect x="164.55" y="436.44" width="6.90" height="6.90"/>
<rect x="173.51" y="436.59" width="6.90" height="6.90"/>
<rect x="182.47" y="436.72" width="6.90" height="6.90"/>
<rect x="191.43" y="436.85" width="6.90" height="6.90"/>
<rect x="200.39" y="436.96" width="6.90" height="6.90"/>
<rect x="209.35" y="437.07" width="6.90" height="6.90"/>
<rect x="218.31" y="437.16" width="6.90" height="6.90"/>
<rect x="227.27" y="437.24" width="6.90" height="6.90"/>
<rect x="236.23" y="437.32" width="6.90" height="6.90"/>
<rect x="245.19" y="437.38" width="6.90" height="6.90"/>
<rect x="254.15" y="437.43" width="6.90" height="6.90"/>
<rect x="263.11" y="437.48" width="6.90" height="6.90"/>
<rect x="272.07" y="437.51" width="6.90" height="6.90"/>
<rect x="281.03" y="437.53" width="6.90" height="6.90"/>
<rect x="289.99" y="437.55" width="6.90" height="6.90"/>
<rect x="298.95" y="437.55" width="6.90" height="6.90"/>
</g></g>
<g opacity="0.55">
<polyline points="33.60,415.10 38.08,394.01 42.56,361.45 47.04,342.95 51.52,333.70 56.00,330.74 60.48,332.96 64.96,338.88 69.44,346.28 73.92,354.05 78.40,362.56 82.88,370.33 87.36,378.84 91.84,386.61 96.32,393.27 100.80,399.19 105.28,405.11 109.76,409.92 114.24,414.36 118.72,418.43 123.20,422.13 132.16,426.94 141.12,431.75 150.08,434.34 159.04,436.19 168.00,437.67 176.96,438.54 185.92,439.15 194.88,439.63 203.84,440.02 212.80,440.26 221.76,440.39 230.72,440.52 239.68,440.63 248.64,440.72 257.60,440.81 266.56,440.87 275.52,440.93 284.48,440.97 293.44,440.99 302.40,441.00" fill="none" stroke="#dd2222" stroke-width="0.9"/>
<g fill="#ffffff" fill-opacity="0.6" stroke="#dd2222" stroke-width="1.3">
<circle cx="33.60" cy="415.10" r="2.80"/>
<circle cx="38.08" cy="394.01" r="2.80"/>
<circle cx="42.56" cy="361.45" r="2.80"/>
<circle cx="47.04" cy="342.95" r="2.80"/>
<circle cx="51.52" cy="333.70" r="2.80"/>
<circle cx="56.00" cy="330.74" r="2.80"/>
<circle cx="60.48" cy="332.96" r="2.80"/>
<circle cx="64.96" cy="338.88" r="2.80"/>
<circle cx="69.44" cy="346.28" r="2.80"/>
<circle cx="73.92" cy="354.05" r="2.80"/>
<circle cx="78.40" cy="362.56" r="2.80"/>
<circle cx="82.88" cy="370.33" r="2.80"/>
<circle cx="87.36" cy="378.84" r="2.80"/>
<circle cx="91.84" cy="386.61" r="2.80"/>
<circle cx="96.32" cy="393.27" r="2.80"/>
<circle cx="100.80" cy="399.19" r="2.80"/>
<circle cx="105.28" cy="405.11" r="2.80"/>
<circle cx="109.76" cy="409.92" r="2.80"/>
<circle cx="114.24" cy="414.36" r="2.80"/>
<circle cx="118.72" cy="418.43" r="2.80"/>
<circle cx="123.20" cy="422.13" r="2.80"/>
<circle cx="132.16" cy="426.94" r="2.80"/>
<circle cx="141.12" cy="431.75" r="2.80"/>
<circle cx="150.08" cy="434.34" r="2.80"/>
<circle cx="159.04" cy="436.19" r="2.80"/>
<circle cx="168.00" cy="437.67" r="2.80"/>
<circle cx="176.96" cy="438.54" r="2.80"/>
<circle cx="185.92" cy="439.15" r="2.80"/>
<circle cx="194.88" cy="439.63" r="2.80"/>
<circle cx="203.84" cy="440.02" r="2.80"/>
<circle cx="212.80" cy="440.26" r="2.80"/>
<circle cx="221.76" cy="440.39" r="2.80"/>
<circle cx="230.72" cy="440.52" r="2.80"/>
<circle cx="239.68" cy="440.63" r="2.80"/>
<circle cx="248.64" cy="440.72" r="2.80"/>
<circle cx="257.60" cy="440.81" r="2.80"/>
<circle cx="266.56" cy="440.87" r="2.80"/>
<circle cx="275.52" cy="440.93" r="2.80"/>
<circle cx="284.48" cy="440.97" r="2.80"/>
<circle cx="293.44" cy="440.99" r="2.80"/>
<circle cx="302.40" cy="441.00" r="2.80"/>
</g></g>
<polyline points="33.60,422.50 38.08,417.69 42.56,409.18 47.04,397.71 51.52,384.39 56.00,371.07 60.48,358.86 64.96,348.50 69.44,339.62 73.92,331.85 78.40,325.56 82.88,320.32 87.36,315.94 91.84,312.46 96.32,309.65 100.80,307.41 105.28,305.58 109.76,304.01 114.24,303.39 118.72,302.99 123.20,302.25 132.16,301.51 141.12,299.66 150.08,298.92 159.04,298.92 168.00,298.92 176.96,298.92 185.92,298.92 194.88,298.92 203.84,298.92 212.80,298.92 221.76,298.92 230.72,298.92 239.68,298.92 248.64,298.92 257.60,298.92 266.56,298.92 275.52,298.92 284.48,298.92 293.44,298.92 302.40,298.92" fill="none" stroke="#7a7a7a" stroke-width="0.8"/>
<g fill="#ffffff" stroke="#7a7a7a" stroke-width="0.95">
<path d="M35.37,419.33L36.77,420.73L35.00,422.50L36.77,424.27L35.37,425.67L33.60,423.90L31.83,425.67L30.43,424.27L32.20,422.50L30.43,420.73L31.83,419.33L33.60,421.10Z"/>
<path d="M39.85,414.52L41.25,415.92L39.48,417.69L41.25,419.46L39.85,420.86L38.08,419.09L36.31,420.86L34.91,419.46L36.68,417.69L34.91,415.92L36.31,414.52L38.08,416.29Z"/>
<path d="M44.33,406.01L45.73,407.41L43.96,409.18L45.73,410.95L44.33,412.35L42.56,410.58L40.79,412.35L39.39,410.95L41.16,409.18L39.39,407.41L40.79,406.01L42.56,407.78Z"/>
<path d="M48.81,394.54L50.21,395.94L48.44,397.71L50.21,399.48L48.81,400.88L47.04,399.11L45.27,400.88L43.87,399.48L45.64,397.71L43.87,395.94L45.27,394.54L47.04,396.31Z"/>
<path d="M53.29,381.22L54.69,382.62L52.92,384.39L54.69,386.16L53.29,387.56L51.52,385.79L49.75,387.56L48.35,386.16L50.12,384.39L48.35,382.62L49.75,381.22L51.52,382.99Z"/>
<path d="M57.77,367.90L59.17,369.30L57.40,371.07L59.17,372.84L57.77,374.24L56.00,372.47L54.23,374.24L52.83,372.84L54.60,371.07L52.83,369.30L54.23,367.90L56.00,369.67Z"/>
<path d="M62.25,355.69L63.65,357.09L61.88,358.86L63.65,360.63L62.25,362.03L60.48,360.26L58.71,362.03L57.31,360.63L59.08,358.86L57.31,357.09L58.71,355.69L60.48,357.46Z"/>
<path d="M66.73,345.33L68.13,346.73L66.36,348.50L68.13,350.27L66.73,351.67L64.96,349.90L63.19,351.67L61.79,350.27L63.56,348.50L61.79,346.73L63.19,345.33L64.96,347.10Z"/>
<path d="M71.21,336.45L72.61,337.85L70.84,339.62L72.61,341.39L71.21,342.79L69.44,341.02L67.67,342.79L66.27,341.39L68.04,339.62L66.27,337.85L67.67,336.45L69.44,338.22Z"/>
<path d="M75.69,328.68L77.09,330.08L75.32,331.85L77.09,333.62L75.69,335.02L73.92,333.25L72.15,335.02L70.75,333.62L72.52,331.85L70.75,330.08L72.15,328.68L73.92,330.45Z"/>
<path d="M80.17,322.39L81.57,323.79L79.80,325.56L81.57,327.33L80.17,328.73L78.40,326.96L76.63,328.73L75.23,327.33L77.00,325.56L75.23,323.79L76.63,322.39L78.40,324.16Z"/>
<path d="M84.65,317.14L86.05,318.54L84.28,320.32L86.05,322.09L84.65,323.49L82.88,321.72L81.11,323.49L79.71,322.09L81.48,320.32L79.71,318.54L81.11,317.14L82.88,318.92Z"/>
<path d="M89.13,312.77L90.53,314.17L88.76,315.94L90.53,317.71L89.13,319.11L87.36,317.34L85.59,319.11L84.19,317.71L85.96,315.94L84.19,314.17L85.59,312.77L87.36,314.54Z"/>
<path d="M93.61,309.29L95.01,310.69L93.24,312.46L95.01,314.24L93.61,315.64L91.84,313.86L90.07,315.64L88.67,314.24L90.44,312.46L88.67,310.69L90.07,309.29L91.84,311.06Z"/>
<path d="M98.09,306.48L99.49,307.88L97.72,309.65L99.49,311.42L98.09,312.82L96.32,311.05L94.55,312.82L93.15,311.42L94.92,309.65L93.15,307.88L94.55,306.48L96.32,308.25Z"/>
<path d="M102.57,304.24L103.97,305.64L102.20,307.41L103.97,309.18L102.57,310.58L100.80,308.81L99.03,310.58L97.63,309.18L99.40,307.41L97.63,305.64L99.03,304.24L100.80,306.01Z"/>
<path d="M107.05,302.41L108.45,303.81L106.68,305.58L108.45,307.35L107.05,308.75L105.28,306.98L103.51,308.75L102.11,307.35L103.88,305.58L102.11,303.81L103.51,302.41L105.28,304.18Z"/>
<path d="M111.53,300.84L112.93,302.24L111.16,304.01L112.93,305.79L111.53,307.19L109.76,305.41L107.99,307.19L106.59,305.79L108.36,304.01L106.59,302.24L107.99,300.84L109.76,302.61Z"/>
<path d="M116.01,300.21L117.41,301.61L115.64,303.39L117.41,305.16L116.01,306.56L114.24,304.79L112.47,306.56L111.07,305.16L112.84,303.39L111.07,301.61L112.47,300.21L114.24,301.99Z"/>
<path d="M120.49,299.82L121.89,301.22L120.12,302.99L121.89,304.76L120.49,306.16L118.72,304.39L116.95,306.16L115.55,304.76L117.32,302.99L115.55,301.22L116.95,299.82L118.72,301.59Z"/>
<path d="M124.97,299.08L126.37,300.48L124.60,302.25L126.37,304.02L124.97,305.42L123.20,303.65L121.43,305.42L120.03,304.02L121.80,302.25L120.03,300.48L121.43,299.08L123.20,300.85Z"/>
<path d="M133.93,298.34L135.33,299.74L133.56,301.51L135.33,303.28L133.93,304.68L132.16,302.91L130.39,304.68L128.99,303.28L130.76,301.51L128.99,299.74L130.39,298.34L132.16,300.11Z"/>
<path d="M142.89,296.49L144.29,297.89L142.52,299.66L144.29,301.43L142.89,302.83L141.12,301.06L139.35,302.83L137.95,301.43L139.72,299.66L137.95,297.89L139.35,296.49L141.12,298.26Z"/>
<path d="M151.85,295.75L153.25,297.15L151.48,298.92L153.25,300.69L151.85,302.09L150.08,300.32L148.31,302.09L146.91,300.69L148.68,298.92L146.91,297.15L148.31,295.75L150.08,297.52Z"/>
<path d="M160.81,295.75L162.21,297.15L160.44,298.92L162.21,300.69L160.81,302.09L159.04,300.32L157.27,302.09L155.87,300.69L157.64,298.92L155.87,297.15L157.27,295.75L159.04,297.52Z"/>
<path d="M169.77,295.75L171.17,297.15L169.40,298.92L171.17,300.69L169.77,302.09L168.00,300.32L166.23,302.09L164.83,300.69L166.60,298.92L164.83,297.15L166.23,295.75L168.00,297.52Z"/>
<path d="M178.73,295.75L180.13,297.15L178.36,298.92L180.13,300.69L178.73,302.09L176.96,300.32L175.19,302.09L173.79,300.69L175.56,298.92L173.79,297.15L175.19,295.75L176.96,297.52Z"/>
<path d="M187.69,295.75L189.09,297.15L187.32,298.92L189.09,300.69L187.69,302.09L185.92,300.32L184.15,302.09L182.75,300.69L184.52,298.92L182.75,297.15L184.15,295.75L185.92,297.52Z"/>
<path d="M196.65,295.75L198.05,297.15L196.28,298.92L198.05,300.69L196.65,302.09L194.88,300.32L193.11,302.09L191.71,300.69L193.48,298.92L191.71,297.15L193.11,295.75L194.88,297.52Z"/>
<path d="M205.61,295.75L207.01,297.15L205.24,298.92L207.01,300.69L205.61,302.09L203.84,300.32L202.07,302.09L200.67,300.69L202.44,298.92L200.67,297.15L202.07,295.75L203.84,297.52Z"/>
<path d="M214.57,295.75L215.97,297.15L214.20,298.92L215.97,300.69L214.57,302.09L212.80,300.32L211.03,302.09L209.63,300.69L211.40,298.92L209.63,297.15L211.03,295.75L212.80,297.52Z"/>
<path d="M223.53,295.75L224.93,297.15L223.16,298.92L224.93,300.69L223.53,302.09L221.76,300.32L219.99,302.09L218.59,300.69L220.36,298.92L218.59,297.15L219.99,295.75L221.76,297.52Z"/>
<path d="M232.49,295.75L233.89,297.15L232.12,298.92L233.89,300.69L232.49,302.09L230.72,300.32L228.95,302.09L227.55,300.69L229.32,298.92L227.55,297.15L228.95,295.75L230.72,297.52Z"/>
<path d="M241.45,295.75L242.85,297.15L241.08,298.92L242.85,300.69L241.45,302.09L239.68,300.32L237.91,302.09L236.51,300.69L238.28,298.92L236.51,297.15L237.91,295.75L239.68,297.52Z"/>
<path d="M250.41,295.75L251.81,297.15L250.04,298.92L251.81,300.69L250.41,302.09L248.64,300.32L246.87,302.09L245.47,300.69L247.24,298.92L245.47,297.15L246.87,295.75L248.64,297.52Z"/>
<path d="M259.37,295.75L260.77,297.15L259.00,298.92L260.77,300.69L259.37,302.09L257.60,300.32L255.83,302.09L254.43,300.69L256.20,298.92L254.43,297.15L255.83,295.75L257.60,297.52Z"/>
<path d="M268.33,295.75L269.73,297.15L267.96,298.92L269.73,300.69L268.33,302.09L266.56,300.32L264.79,302.09L263.39,300.69L265.16,298.92L263.39,297.15L264.79,295.75L266.56,297.52Z"/>
<path d="M277.29,295.75L278.69,297.15L276.92,298.92L278.69,300.69L277.29,302.09L275.52,300.32L273.75,302.09L272.35,300.69L274.12,298.92L272.35,297.15L273.75,295.75L275.52,297.52Z"/>
<path d="M286.25,295.75L287.65,297.15L285.88,298.92L287.65,300.69L286.25,302.09L284.48,300.32L282.71,302.09L281.31,300.69L283.08,298.92L281.31,297.15L282.71,295.75L284.48,297.52Z"/>
<path d="M295.21,295.75L296.61,297.15L294.84,298.92L296.61,300.69L295.21,302.09L293.44,300.32L291.67,302.09L290.27,300.69L292.04,298.92L290.27,297.15L291.67,295.75L293.44,297.52Z"/>
<path d="M304.17,295.75L305.57,297.15L303.80,298.92L305.57,300.69L304.17,302.09L302.40,300.32L300.63,302.09L299.23,300.69L301.00,298.92L299.23,297.15L300.63,295.75L302.40,297.52Z"/>
</g>
<polyline points="33.60,422.50 38.08,418.80 42.56,411.40 47.04,400.67 51.52,387.72 56.00,373.29 60.48,358.12 64.96,343.32 69.44,329.63 73.92,318.16 78.40,308.91 82.88,301.51 87.36,296.33 91.84,292.63 96.32,290.23 100.80,288.75 105.28,288.00 109.76,287.92 114.24,287.86 118.72,287.83 123.20,287.82 132.16,287.82 141.12,287.82 150.08,287.82 159.04,287.82 168.00,287.83 176.96,287.83 185.92,287.84 194.88,287.84 203.84,287.85 212.80,287.87 221.76,287.88 230.72,287.90 239.68,287.92 248.64,287.95 257.60,287.98 266.56,288.01 275.52,288.05 284.48,288.09 293.44,288.14 302.40,288.19" fill="none" stroke="#7a7a7a" stroke-width="0.8"/>
<g fill="#ffffff" stroke="#7a7a7a" stroke-width="0.95">
<path d="M30.60,420.34L36.60,420.34L33.60,425.74Z"/>
<path d="M35.08,416.64L41.08,416.64L38.08,422.04Z"/>
<path d="M39.56,409.24L45.56,409.24L42.56,414.64Z"/>
<path d="M44.04,398.51L50.04,398.51L47.04,403.91Z"/>
<path d="M48.52,385.56L54.52,385.56L51.52,390.96Z"/>
<path d="M53.00,371.13L59.00,371.13L56.00,376.53Z"/>
<path d="M57.48,355.96L63.48,355.96L60.48,361.36Z"/>
<path d="M61.96,341.16L67.96,341.16L64.96,346.56Z"/>
<path d="M66.44,327.47L72.44,327.47L69.44,332.87Z"/>
<path d="M70.92,316.00L76.92,316.00L73.92,321.40Z"/>
<path d="M75.40,306.75L81.40,306.75L78.40,312.15Z"/>
<path d="M79.88,299.35L85.88,299.35L82.88,304.75Z"/>
<path d="M84.36,294.17L90.36,294.17L87.36,299.57Z"/>
<path d="M88.84,290.47L94.84,290.47L91.84,295.87Z"/>
<path d="M93.32,288.06L99.32,288.06L96.32,293.47Z"/>
<path d="M97.80,286.58L103.80,286.58L100.80,291.99Z"/>
<path d="M102.28,285.84L108.28,285.84L105.28,291.25Z"/>
<path d="M106.76,285.76L112.76,285.76L109.76,291.16Z"/>
<path d="M111.24,285.70L117.24,285.70L114.24,291.10Z"/>
<path d="M115.72,285.67L121.72,285.67L118.72,291.07Z"/>
<path d="M120.20,285.66L126.20,285.66L123.20,291.06Z"/>
<path d="M129.16,285.66L135.16,285.66L132.16,291.06Z"/>
<path d="M138.12,285.66L144.12,285.66L141.12,291.06Z"/>
<path d="M147.08,285.66L153.08,285.66L150.08,291.06Z"/>
<path d="M156.04,285.66L162.04,285.66L159.04,291.06Z"/>
<path d="M165.00,285.67L171.00,285.67L168.00,291.07Z"/>
<path d="M173.96,285.67L179.96,285.67L176.96,291.07Z"/>
<path d="M182.92,285.68L188.92,285.68L185.92,291.08Z"/>
<path d="M191.88,285.68L197.88,285.68L194.88,291.08Z"/>
<path d="M200.84,285.69L206.84,285.69L203.84,291.09Z"/>
<path d="M209.80,285.71L215.80,285.71L212.80,291.11Z"/>
<path d="M218.76,285.72L224.76,285.72L221.76,291.12Z"/>
<path d="M227.72,285.74L233.72,285.74L230.72,291.14Z"/>
<path d="M236.68,285.76L242.68,285.76L239.68,291.16Z"/>
<path d="M245.64,285.79L251.64,285.79L248.64,291.19Z"/>
<path d="M254.60,285.82L260.60,285.82L257.60,291.22Z"/>
<path d="M263.56,285.85L269.56,285.85L266.56,291.25Z"/>
<path d="M272.52,285.89L278.52,285.89L275.52,291.29Z"/>
<path d="M281.48,285.93L287.48,285.93L284.48,291.33Z"/>
<path d="M290.44,285.98L296.44,285.98L293.44,291.38Z"/>
<path d="M299.40,286.03L305.40,286.03L302.40,291.43Z"/>
</g>
<polyline points="33.60,422.50 38.08,419.17 42.56,411.40 47.04,400.30 51.52,387.72 56.00,375.14 60.48,363.30 64.96,352.20 69.44,341.84 73.92,332.22 78.40,323.34 82.88,315.42 87.36,308.54 91.84,302.78 96.32,298.18 100.80,294.77 105.28,292.26 109.76,290.49 114.24,289.30 118.72,288.61 123.20,288.19 132.16,287.82 141.12,287.82 150.08,287.82 159.04,301.51 168.00,301.51 176.96,301.51 185.92,301.51 194.88,301.51 203.84,301.51 212.80,301.51 221.76,301.51 230.72,301.51 239.68,301.51 248.64,301.51 257.60,301.51 266.56,301.51 275.52,301.51 284.48,301.51 293.44,301.51 302.40,301.51" fill="none" stroke="#7a7a7a" stroke-width="0.8"/>
<g fill="#ffffff" stroke="#7a7a7a" stroke-width="0.95">
<circle cx="33.60" cy="422.50" r="2.80"/>
<circle cx="38.08" cy="419.17" r="2.80"/>
<circle cx="42.56" cy="411.40" r="2.80"/>
<circle cx="47.04" cy="400.30" r="2.80"/>
<circle cx="51.52" cy="387.72" r="2.80"/>
<circle cx="56.00" cy="375.14" r="2.80"/>
<circle cx="60.48" cy="363.30" r="2.80"/>
<circle cx="64.96" cy="352.20" r="2.80"/>
<circle cx="69.44" cy="341.84" r="2.80"/>
<circle cx="73.92" cy="332.22" r="2.80"/>
<circle cx="78.40" cy="323.34" r="2.80"/>
<circle cx="82.88" cy="315.42" r="2.80"/>
<circle cx="87.36" cy="308.54" r="2.80"/>
<circle cx="91.84" cy="302.78" r="2.80"/>
<circle cx="96.32" cy="298.18" r="2.80"/>
<circle cx="100.80" cy="294.77" r="2.80"/>
<circle cx="105.28" cy="292.26" r="2.80"/>
<circle cx="109.76" cy="290.49" r="2.80"/>
<circle cx="114.24" cy="289.30" r="2.80"/>
<circle cx="118.72" cy="288.61" r="2.80"/>
<circle cx="123.20" cy="288.19" r="2.80"/>
<circle cx="132.16" cy="287.82" r="2.80"/>
<circle cx="141.12" cy="287.82" r="2.80"/>
<circle cx="150.08" cy="287.82" r="2.80"/>
<circle cx="159.04" cy="301.51" r="2.80"/>
<circle cx="168.00" cy="301.51" r="2.80"/>
<circle cx="176.96" cy="301.51" r="2.80"/>
<circle cx="185.92" cy="301.51" r="2.80"/>
<circle cx="194.88" cy="301.51" r="2.80"/>
<circle cx="203.84" cy="301.51" r="2.80"/>
<circle cx="212.80" cy="301.51" r="2.80"/>
<circle cx="221.76" cy="301.51" r="2.80"/>
<circle cx="230.72" cy="301.51" r="2.80"/>
<circle cx="239.68" cy="301.51" r="2.80"/>
<circle cx="248.64" cy="301.51" r="2.80"/>
<circle cx="257.60" cy="301.51" r="2.80"/>
<circle cx="266.56" cy="301.51" r="2.80"/>
<circle cx="275.52" cy="301.51" r="2.80"/>
<circle cx="284.48" cy="301.51" r="2.80"/>
<circle cx="293.44" cy="301.51" r="2.80"/>
<circle cx="302.40" cy="301.51" r="2.80"/>
</g>
<polyline points="33.60,422.50 38.08,417.69 42.56,410.29 47.04,402.52 51.52,392.16 56.00,381.80 60.48,368.48 64.96,355.90 69.44,340.36 73.92,325.56 78.40,310.02 82.88,297.44 87.36,289.30 91.84,283.38 96.32,280.42 100.80,279.31 105.28,279.31 109.76,279.31 114.24,279.31 118.72,279.31 123.20,279.31 132.16,279.31 141.12,279.31 150.08,279.31 159.04,279.31 168.00,279.31 176.96,279.31 185.92,279.31 194.88,279.31 203.84,279.31 212.80,279.31 221.76,279.31 230.72,279.31 239.68,279.31 248.64,279.31 257.60,279.31 266.56,279.31 275.52,279.31 284.48,279.31 293.44,279.31 302.40,279.31" fill="none" stroke="#7a7a7a" stroke-width="0.8"/>
<g fill="#ffffff" stroke="#7a7a7a" stroke-width="0.95">
<path d="M33.60,418.28L35.98,422.50L33.60,426.72L31.22,422.50Z"/>
<path d="M38.08,413.47L40.46,417.69L38.08,421.91L35.70,417.69Z"/>
<path d="M42.56,406.07L44.94,410.29L42.56,414.51L40.18,410.29Z"/>
<path d="M47.04,398.30L49.42,402.52L47.04,406.74L44.66,402.52Z"/>
<path d="M51.52,387.94L53.90,392.16L51.52,396.38L49.14,392.16Z"/>
<path d="M56.00,377.58L58.38,381.80L56.00,386.02L53.62,381.80Z"/>
<path d="M60.48,364.26L62.86,368.48L60.48,372.70L58.10,368.48Z"/>
<path d="M64.96,351.68L67.34,355.90L64.96,360.12L62.58,355.90Z"/>
<path d="M69.44,336.14L71.82,340.36L69.44,344.58L67.06,340.36Z"/>
<path d="M73.92,321.34L76.30,325.56L73.92,329.78L71.54,325.56Z"/>
<path d="M78.40,305.80L80.78,310.02L78.40,314.24L76.02,310.02Z"/>
<path d="M82.88,293.22L85.26,297.44L82.88,301.66L80.50,297.44Z"/>
<path d="M87.36,285.08L89.74,289.30L87.36,293.52L84.98,289.30Z"/>
<path d="M91.84,279.16L94.22,283.38L91.84,287.60L89.46,283.38Z"/>
<path d="M96.32,276.20L98.70,280.42L96.32,284.64L93.94,280.42Z"/>
<path d="M100.80,275.09L103.18,279.31L100.80,283.53L98.42,279.31Z"/>
<path d="M105.28,275.09L107.66,279.31L105.28,283.53L102.90,279.31Z"/>
<path d="M109.76,275.09L112.14,279.31L109.76,283.53L107.38,279.31Z"/>
<path d="M114.24,275.09L116.62,279.31L114.24,283.53L111.86,279.31Z"/>
<path d="M118.72,275.09L121.10,279.31L118.72,283.53L116.34,279.31Z"/>
<path d="M123.20,275.09L125.58,279.31L123.20,283.53L120.82,279.31Z"/>
<path d="M132.16,275.09L134.54,279.31L132.16,283.53L129.78,279.31Z"/>
<path d="M141.12,275.09L143.50,279.31L141.12,283.53L138.74,279.31Z"/>
<path d="M150.08,275.09L152.46,279.31L150.08,283.53L147.70,279.31Z"/>
<path d="M159.04,275.09L161.42,279.31L159.04,283.53L156.66,279.31Z"/>
<path d="M168.00,275.09L170.38,279.31L168.00,283.53L165.62,279.31Z"/>
<path d="M176.96,275.09L179.34,279.31L176.96,283.53L174.58,279.31Z"/>
<path d="M185.92,275.09L188.30,279.31L185.92,283.53L183.54,279.31Z"/>
<path d="M194.88,275.09L197.26,279.31L194.88,283.53L192.50,279.31Z"/>
<path d="M203.84,275.09L206.22,279.31L203.84,283.53L201.46,279.31Z"/>
<path d="M212.80,275.09L215.18,279.31L212.80,283.53L210.42,279.31Z"/>
<path d="M221.76,275.09L224.14,279.31L221.76,283.53L219.38,279.31Z"/>
<path d="M230.72,275.09L233.10,279.31L230.72,283.53L228.34,279.31Z"/>
<path d="M239.68,275.09L242.06,279.31L239.68,283.53L237.30,279.31Z"/>
<path d="M248.64,275.09L251.02,279.31L248.64,283.53L246.26,279.31Z"/>
<path d="M257.60,275.09L259.98,279.31L257.60,283.53L255.22,279.31Z"/>
<path d="M266.56,275.09L268.94,279.31L266.56,283.53L264.18,279.31Z"/>
<path d="M275.52,275.09L277.90,279.31L275.52,283.53L273.14,279.31Z"/>
<path d="M284.48,275.09L286.86,279.31L284.48,283.53L282.10,279.31Z"/>
<path d="M293.44,275.09L295.82,279.31L293.44,283.53L291.06,279.31Z"/>
<path d="M302.40,275.09L304.78,279.31L302.40,283.53L300.02,279.31Z"/>
</g>
<polyline points="33.60,422.50 38.08,419.17 42.56,412.51 47.04,402.89 51.52,392.16 56.00,381.43 60.48,370.70 64.96,359.97 69.44,349.98 73.92,340.73 78.40,331.48 82.88,323.34 87.36,316.31 91.84,310.39 96.32,304.84 100.80,301.14 105.28,297.81 109.76,294.48 114.24,291.52 118.72,288.93 123.20,286.34 132.16,281.90 141.12,280.05 150.08,278.94 159.04,278.57 168.00,278.32 176.96,278.20 185.92,278.20 194.88,278.20 203.84,278.20 212.80,278.20 221.76,278.20 230.72,278.20 239.68,278.20 248.64,278.20 257.60,278.20 266.56,278.20 275.52,278.20 284.48,278.20 293.44,278.20 302.40,278.20" fill="none" stroke="#1f4fd4" stroke-width="1.0"/>
<g fill="#ffffff" stroke="#1f4fd4" stroke-width="1.4">
<rect x="30.15" y="419.05" width="6.90" height="6.90"/>
<rect x="34.63" y="415.72" width="6.90" height="6.90"/>
<rect x="39.11" y="409.06" width="6.90" height="6.90"/>
<rect x="43.59" y="399.44" width="6.90" height="6.90"/>
<rect x="48.07" y="388.71" width="6.90" height="6.90"/>
<rect x="52.55" y="377.98" width="6.90" height="6.90"/>
<rect x="57.03" y="367.25" width="6.90" height="6.90"/>
<rect x="61.51" y="356.52" width="6.90" height="6.90"/>
<rect x="65.99" y="346.53" width="6.90" height="6.90"/>
<rect x="70.47" y="337.28" width="6.90" height="6.90"/>
<rect x="74.95" y="328.03" width="6.90" height="6.90"/>
<rect x="79.43" y="319.89" width="6.90" height="6.90"/>
<rect x="83.91" y="312.86" width="6.90" height="6.90"/>
<rect x="88.39" y="306.94" width="6.90" height="6.90"/>
<rect x="92.87" y="301.39" width="6.90" height="6.90"/>
<rect x="97.35" y="297.69" width="6.90" height="6.90"/>
<rect x="101.83" y="294.36" width="6.90" height="6.90"/>
<rect x="106.31" y="291.03" width="6.90" height="6.90"/>
<rect x="110.79" y="288.07" width="6.90" height="6.90"/>
<rect x="115.27" y="285.48" width="6.90" height="6.90"/>
<rect x="119.75" y="282.89" width="6.90" height="6.90"/>
<rect x="128.71" y="278.45" width="6.90" height="6.90"/>
<rect x="137.67" y="276.60" width="6.90" height="6.90"/>
<rect x="146.63" y="275.49" width="6.90" height="6.90"/>
<rect x="155.59" y="275.12" width="6.90" height="6.90"/>
<rect x="164.55" y="274.87" width="6.90" height="6.90"/>
<rect x="173.51" y="274.75" width="6.90" height="6.90"/>
<rect x="182.47" y="274.75" width="6.90" height="6.90"/>
<rect x="191.43" y="274.75" width="6.90" height="6.90"/>
<rect x="200.39" y="274.75" width="6.90" height="6.90"/>
<rect x="209.35" y="274.75" width="6.90" height="6.90"/>
<rect x="218.31" y="274.75" width="6.90" height="6.90"/>
<rect x="227.27" y="274.75" width="6.90" height="6.90"/>
<rect x="236.23" y="274.75" width="6.90" height="6.90"/>
<rect x="245.19" y="274.75" width="6.90" height="6.90"/>
<rect x="254.15" y="274.75" width="6.90" height="6.90"/>
<rect x="263.11" y="274.75" width="6.90" height="6.90"/>
<rect x="272.07" y="274.75" width="6.90" height="6.90"/>
<rect x="281.03" y="274.75" width="6.90" height="6.90"/>
<rect x="289.99" y="274.75" width="6.90" height="6.90"/>
<rect x="298.95" y="274.75" width="6.90" height="6.90"/>
</g>
<polyline points="33.60,422.50 38.08,419.54 42.56,413.25 47.04,404.00 51.52,393.27 56.00,382.54 60.48,372.18 64.96,361.45 69.44,351.46 73.92,342.58 78.40,333.70 82.88,326.30 87.36,320.01 91.84,313.72 96.32,308.91 100.80,304.10 105.28,300.40 109.76,297.07 114.24,294.48 118.72,291.89 123.20,290.04 132.16,287.08 141.12,284.49 150.08,283.01 159.04,281.90 168.00,281.16 176.96,280.71 185.92,280.42 194.88,280.25 203.84,280.13 212.80,280.05 221.76,279.99 230.72,279.93 239.68,279.88 248.64,279.83 257.60,279.79 266.56,279.75 275.52,279.72 284.48,279.70 293.44,279.68 302.40,279.68" fill="none" stroke="#dd2222" stroke-width="1.0"/>
<g fill="#ffffff" stroke="#dd2222" stroke-width="1.3">
<circle cx="33.60" cy="422.50" r="2.80"/>
<circle cx="38.08" cy="419.54" r="2.80"/>
<circle cx="42.56" cy="413.25" r="2.80"/>
<circle cx="47.04" cy="404.00" r="2.80"/>
<circle cx="51.52" cy="393.27" r="2.80"/>
<circle cx="56.00" cy="382.54" r="2.80"/>
<circle cx="60.48" cy="372.18" r="2.80"/>
<circle cx="64.96" cy="361.45" r="2.80"/>
<circle cx="69.44" cy="351.46" r="2.80"/>
<circle cx="73.92" cy="342.58" r="2.80"/>
<circle cx="78.40" cy="333.70" r="2.80"/>
<circle cx="82.88" cy="326.30" r="2.80"/>
<circle cx="87.36" cy="320.01" r="2.80"/>
<circle cx="91.84" cy="313.72" r="2.80"/>
<circle cx="96.32" cy="308.91" r="2.80"/>
<circle cx="100.80" cy="304.10" r="2.80"/>
<circle cx="105.28" cy="300.40" r="2.80"/>
<circle cx="109.76" cy="297.07" r="2.80"/>
<circle cx="114.24" cy="294.48" r="2.80"/>
<circle cx="118.72" cy="291.89" r="2.80"/>
<circle cx="123.20" cy="290.04" r="2.80"/>
<circle cx="132.16" cy="287.08" r="2.80"/>
<circle cx="141.12" cy="284.49" r="2.80"/>
<circle cx="150.08" cy="283.01" r="2.80"/>
<circle cx="159.04" cy="281.90" r="2.80"/>
<circle cx="168.00" cy="281.16" r="2.80"/>
<circle cx="176.96" cy="280.71" r="2.80"/>
<circle cx="185.92" cy="280.42" r="2.80"/>
<circle cx="194.88" cy="280.25" r="2.80"/>
<circle cx="203.84" cy="280.13" r="2.80"/>
<circle cx="212.80" cy="280.05" r="2.80"/>
<circle cx="221.76" cy="279.99" r="2.80"/>
<circle cx="230.72" cy="279.93" r="2.80"/>
<circle cx="239.68" cy="279.88" r="2.80"/>
<circle cx="248.64" cy="279.83" r="2.80"/>
<circle cx="257.60" cy="279.79" r="2.80"/>
<circle cx="266.56" cy="279.75" r="2.80"/>
<circle cx="275.52" cy="279.72" r="2.80"/>
<circle cx="284.48" cy="279.70" r="2.80"/>
<circle cx="293.44" cy="279.68" r="2.80"/>
<circle cx="302.40" cy="279.68" r="2.80"/>
</g>
</g>
<rect x="33.6" y="256.0" width="268.8" height="203.5" fill="none" stroke="#222" stroke-width="1.3"/>
<path d="M33.6,459.50h3.5 M33.6,441.00h2.0 M33.6,422.50h3.5 M33.6,404.00h2.0 M33.6,385.50h3.5 M33.6,367.00h2.0 M33.6,348.50h3.5 M33.6,330.00h2.0 M33.6,311.50h3.5 M33.6,293.00h2.0 M33.6,274.50h3.5 M33.6,256.00h2.0 M33.60,459.5v-3.5 M56.00,459.5v-2.0 M78.40,459.5v-3.5 M100.80,459.5v-2.0 M123.20,459.5v-3.5 M145.60,459.5v-2.0 M168.00,459.5v-3.5 M190.40,459.5v-2.0 M212.80,459.5v-3.5 M235.20,459.5v-2.0 M257.60,459.5v-3.5 M280.00,459.5v-2.0 M302.40,459.5v-3.5 M302.40000000000003,459.50h-2.0 M302.40000000000003,441.00h-3.5 M302.40000000000003,422.50h-2.0 M302.40000000000003,404.00h-3.5 M302.40000000000003,385.50h-2.0 M302.40000000000003,367.00h-3.5 M302.40000000000003,348.50h-2.0 M302.40000000000003,330.00h-3.5 M302.40000000000003,311.50h-2.0 M302.40000000000003,293.00h-3.5 M302.40000000000003,274.50h-2.0 M302.40000000000003,256.00h-3.5" stroke="#222" stroke-width="1.2" fill="none"/>
<g font-size="12" fill="#111" stroke="#111" stroke-width="0.2"><text x="30.50" y="463.80" text-anchor="end">−1</text><text x="30.50" y="426.80" text-anchor="end">0</text><text x="30.50" y="389.80" text-anchor="end">1</text><text x="30.50" y="352.80" text-anchor="end">2</text><text x="30.50" y="315.80" text-anchor="end">3</text><text x="30.50" y="278.80" text-anchor="end">4</text><text x="33.60" y="471.50" text-anchor="middle">0</text><text x="78.40" y="471.50" text-anchor="middle">1</text><text x="123.20" y="471.50" text-anchor="middle">2</text><text x="168.00" y="471.50" text-anchor="middle">3</text><text x="212.80" y="471.50" text-anchor="middle">4</text><text x="257.60" y="471.50" text-anchor="middle">5</text><text x="302.40" y="471.50" text-anchor="middle">6</text></g>
<g font-size="12" fill="#9a9a9a" stroke="#9a9a9a" stroke-width="0.2"><text x="306.00" y="445.30">0</text><text x="306.00" y="408.30">10</text><text x="306.00" y="371.30">20</text><text x="306.00" y="334.30">30</text><text x="306.00" y="297.30">40</text><text x="306.00" y="260.30">50</text></g>
<text x="168.00" y="487.90" font-size="12.7" text-anchor="middle" fill="#111">{111} planar separation distance <tspan style="font-family:&quot;Liberation Serif&quot;;font-style:italic">d</tspan> (Å)</text>
<text transform="translate(11.20,357.15) rotate(-90)" font-size="12.8" text-anchor="middle" fill="#111">Decohesive energy <tspan style="font-family:&quot;Liberation Serif&quot;;font-style:italic">γ</tspan><tspan font-size="9" dy="2">d</tspan><tspan dy="-2"> (J/m</tspan><tspan font-size="9" dy="-5">2</tspan><tspan dy="5">)</tspan></text>
<text transform="translate(330.80,357.35) rotate(-90)" font-size="12.75" text-anchor="middle" fill="#a0a0a0">Decohesion stress <tspan style="font-family:&quot;Liberation Serif&quot;;font-style:italic">σ</tspan> (GPa)</text>
<text x="0.40" y="265.40" font-size="12.5" fill="#111" stroke="#111" stroke-width="0.15">(c)</text>
<rect x="201.6" y="342" width="93.2" height="87.0" fill="#ffffff" fill-opacity="0.12" stroke="#c8c8c8" stroke-width="0.9"/>
<line x1="205.6" y1="350.00" x2="226.1" y2="350.00" stroke="#7a7a7a" stroke-width="0.9"/>
<g fill="#fff" stroke="#7a7a7a" stroke-width="0.95"><path d="M217.46,346.67L218.93,348.14L217.07,350.00L218.93,351.86L217.46,353.33L215.60,351.47L213.74,353.33L212.27,351.86L214.13,350.00L212.27,348.14L213.74,346.67L215.60,348.53Z"/></g>
<text x="233.2" y="353.60" font-size="10" fill="#1a1a1a" stroke="#1a1a1a" stroke-width="0.35">EAM</text>
<line x1="205.6" y1="363.90" x2="226.1" y2="363.90" stroke="#7a7a7a" stroke-width="0.9"/>
<g fill="#fff" stroke="#7a7a7a" stroke-width="0.95"><path d="M212.10,361.38L219.10,361.38L215.60,367.68Z"/></g>
<text x="233.2" y="367.50" font-size="10" fill="#1a1a1a" stroke="#1a1a1a" stroke-width="0.35">MEAM_2021</text>
<line x1="205.6" y1="377.80" x2="226.1" y2="377.80" stroke="#7a7a7a" stroke-width="0.9"/>
<g fill="#fff" stroke="#7a7a7a" stroke-width="0.95"><circle cx="215.60" cy="377.80" r="2.94"/></g>
<text x="233.2" y="381.40" font-size="10" fill="#1a1a1a" stroke="#1a1a1a" stroke-width="0.35">MEAM_2015</text>
<line x1="205.6" y1="391.70" x2="226.1" y2="391.70" stroke="#7a7a7a" stroke-width="0.9"/>
<g fill="#fff" stroke="#7a7a7a" stroke-width="0.95"><path d="M215.60,387.26L218.09,391.70L215.60,396.14L213.11,391.70Z"/></g>
<text x="233.2" y="395.30" font-size="10" fill="#1a1a1a" stroke="#1a1a1a" stroke-width="0.35">qSNAP</text>
<line x1="205.6" y1="405.60" x2="226.1" y2="405.60" stroke="#dd2222" stroke-width="1.2"/>
<g fill="#fff" stroke="#dd2222" stroke-width="1.3"><circle cx="215.60" cy="405.60" r="2.94"/></g>
<text x="233.2" y="409.20" font-size="10" fill="#1a1a1a" stroke="#1a1a1a" stroke-width="0.35">DFT</text>
<line x1="205.6" y1="419.50" x2="226.1" y2="419.50" stroke="#1f4fd4" stroke-width="1.2"/>
<g fill="#fff" stroke="#1f4fd4" stroke-width="1.4"><rect x="211.98" y="415.88" width="7.25" height="7.25"/></g>
<text x="233.2" y="423.10" font-size="10" fill="#1a1a1a" stroke="#1a1a1a" stroke-width="0.35">DP</text>
<defs><clipPath id="clipd"><rect x="384.7" y="256.0" width="268.8" height="203.5"/></clipPath><linearGradient id="gradd" x1="0" y1="0" x2="1" y2="1"><stop offset="0" stop-color="#fefefe"/><stop offset="0.5" stop-color="#ebeef1"/><stop offset="1" stop-color="#d9dfe3"/></linearGradient></defs>
<rect x="384.7" y="256.0" width="268.8" height="203.5" fill="url(#gradd)"/>
<g clip-path="url(#clipd)">
<line x1="429.50" y1="256.0" x2="429.50" y2="459.5" stroke="#4f74dc" stroke-width="0.7" stroke-dasharray="1,1.2"/>
<g opacity="0.5">
<polyline points="384.70,411.40 389.18,389.20 393.66,348.50 398.14,320.75 402.62,307.80 407.10,309.65 411.58,320.75 416.06,333.70 420.54,344.80 425.02,352.20 429.50,359.70 433.98,367.00 438.46,374.12 442.94,381.80 447.42,390.17 451.90,398.45 456.38,406.05 460.86,413.25 465.34,420.11 469.82,426.20 474.30,433.30 483.26,436.38 492.22,437.30 501.18,438.52 510.14,440.08 519.10,440.57 528.06,440.75 537.02,440.77 545.98,440.79 554.94,440.82 563.90,440.84 572.86,440.85 581.82,440.87 590.78,440.89 599.74,440.91 608.70,440.93 617.66,440.94 626.62,440.96 635.58,440.97 644.54,440.99 653.50,440.99" fill="none" stroke="#8a8a8a" stroke-width="0.9" stroke-dasharray="3,2"/>
<g fill="#ffffff" fill-opacity="0.6" stroke="#8a8a8a" stroke-width="0.9">
<path d="M386.47,408.23L387.87,409.63L386.10,411.40L387.87,413.17L386.47,414.57L384.70,412.80L382.93,414.57L381.53,413.17L383.30,411.40L381.53,409.63L382.93,408.23L384.70,410.00Z"/>
<path d="M390.95,386.03L392.35,387.43L390.58,389.20L392.35,390.97L390.95,392.37L389.18,390.60L387.41,392.37L386.01,390.97L387.78,389.20L386.01,387.43L387.41,386.03L389.18,387.80Z"/>
<path d="M395.43,345.33L396.83,346.73L395.06,348.50L396.83,350.27L395.43,351.67L393.66,349.90L391.89,351.67L390.49,350.27L392.26,348.50L390.49,346.73L391.89,345.33L393.66,347.10Z"/>
<path d="M399.91,317.58L401.31,318.98L399.54,320.75L401.31,322.52L399.91,323.92L398.14,322.15L396.37,323.92L394.97,322.52L396.74,320.75L394.97,318.98L396.37,317.58L398.14,319.35Z"/>
<path d="M404.39,304.63L405.79,306.03L404.02,307.80L405.79,309.57L404.39,310.97L402.62,309.20L400.85,310.97L399.45,309.57L401.22,307.80L399.45,306.03L400.85,304.63L402.62,306.40Z"/>
<path d="M408.87,306.48L410.27,307.88L408.50,309.65L410.27,311.42L408.87,312.82L407.10,311.05L405.33,312.82L403.93,311.42L405.70,309.65L403.93,307.88L405.33,306.48L407.10,308.25Z"/>
<path d="M413.35,317.58L414.75,318.98L412.98,320.75L414.75,322.52L413.35,323.92L411.58,322.15L409.81,323.92L408.41,322.52L410.18,320.75L408.41,318.98L409.81,317.58L411.58,319.35Z"/>
<path d="M417.83,330.53L419.23,331.93L417.46,333.70L419.23,335.47L417.83,336.87L416.06,335.10L414.29,336.87L412.89,335.47L414.66,333.70L412.89,331.93L414.29,330.53L416.06,332.30Z"/>
<path d="M422.31,341.63L423.71,343.03L421.94,344.80L423.71,346.57L422.31,347.97L420.54,346.20L418.77,347.97L417.37,346.57L419.14,344.80L417.37,343.03L418.77,341.63L420.54,343.40Z"/>
<path d="M426.79,349.03L428.19,350.43L426.42,352.20L428.19,353.97L426.79,355.37L425.02,353.60L423.25,355.37L421.85,353.97L423.62,352.20L421.85,350.43L423.25,349.03L425.02,350.80Z"/>
<path d="M431.27,356.53L432.67,357.93L430.90,359.70L432.67,361.47L431.27,362.87L429.50,361.10L427.73,362.87L426.33,361.47L428.10,359.70L426.33,357.93L427.73,356.53L429.50,358.30Z"/>
<path d="M435.75,363.83L437.15,365.23L435.38,367.00L437.15,368.77L435.75,370.17L433.98,368.40L432.21,370.17L430.81,368.77L432.58,367.00L430.81,365.23L432.21,363.83L433.98,365.60Z"/>
<path d="M440.23,370.94L441.63,372.34L439.86,374.12L441.63,375.89L440.23,377.29L438.46,375.52L436.69,377.29L435.29,375.89L437.06,374.12L435.29,372.34L436.69,370.94L438.46,372.72Z"/>
<path d="M444.71,378.63L446.11,380.03L444.34,381.80L446.11,383.57L444.71,384.97L442.94,383.20L441.17,384.97L439.77,383.57L441.54,381.80L439.77,380.03L441.17,378.63L442.94,380.40Z"/>
<path d="M449.19,386.99L450.59,388.39L448.82,390.17L450.59,391.94L449.19,393.34L447.42,391.57L445.65,393.34L444.25,391.94L446.02,390.17L444.25,388.39L445.65,386.99L447.42,388.77Z"/>
<path d="M453.67,395.28L455.07,396.68L453.30,398.45L455.07,400.22L453.67,401.62L451.90,399.85L450.13,401.62L448.73,400.22L450.50,398.45L448.73,396.68L450.13,395.28L451.90,397.05Z"/>
<path d="M458.15,402.88L459.55,404.28L457.78,406.05L459.55,407.83L458.15,409.23L456.38,407.45L454.61,409.23L453.21,407.83L454.98,406.05L453.21,404.28L454.61,402.88L456.38,404.65Z"/>
<path d="M462.63,410.08L464.03,411.48L462.26,413.25L464.03,415.02L462.63,416.42L460.86,414.65L459.09,416.42L457.69,415.02L459.46,413.25L457.69,411.48L459.09,410.08L460.86,411.85Z"/>
<path d="M467.11,416.93L468.51,418.33L466.74,420.11L468.51,421.88L467.11,423.28L465.34,421.51L463.57,423.28L462.17,421.88L463.94,420.11L462.17,418.33L463.57,416.93L465.34,418.71Z"/>
<path d="M471.59,423.03L472.99,424.43L471.22,426.20L472.99,427.97L471.59,429.37L469.82,427.60L468.05,429.37L466.65,427.97L468.42,426.20L466.65,424.43L468.05,423.03L469.82,424.80Z"/>
<path d="M476.07,430.13L477.47,431.53L475.70,433.30L477.47,435.08L476.07,436.48L474.30,434.70L472.53,436.48L471.13,435.08L472.90,433.30L471.13,431.53L472.53,430.13L474.30,431.90Z"/>
<path d="M485.03,433.20L486.43,434.60L484.66,436.38L486.43,438.15L485.03,439.55L483.26,437.78L481.49,439.55L480.09,438.15L481.86,436.38L480.09,434.60L481.49,433.20L483.26,434.97Z"/>
<path d="M493.99,434.13L495.39,435.53L493.62,437.30L495.39,439.07L493.99,440.47L492.22,438.70L490.45,440.47L489.05,439.07L490.82,437.30L489.05,435.53L490.45,434.13L492.22,435.90Z"/>
<path d="M502.95,435.35L504.35,436.75L502.58,438.52L504.35,440.30L502.95,441.70L501.18,439.92L499.41,441.70L498.01,440.30L499.78,438.52L498.01,436.75L499.41,435.35L501.18,437.12Z"/>
<path d="M511.91,436.90L513.31,438.30L511.54,440.08L513.31,441.85L511.91,443.25L510.14,441.48L508.37,443.25L506.97,441.85L508.74,440.08L506.97,438.30L508.37,436.90L510.14,438.67Z"/>
<path d="M520.87,437.40L522.27,438.80L520.50,440.57L522.27,442.35L520.87,443.75L519.10,441.97L517.33,443.75L515.93,442.35L517.70,440.57L515.93,438.80L517.33,437.40L519.10,439.17Z"/>
<path d="M529.83,437.58L531.23,438.98L529.46,440.75L531.23,442.53L529.83,443.93L528.06,442.15L526.29,443.93L524.89,442.53L526.66,440.75L524.89,438.98L526.29,437.58L528.06,439.35Z"/>
<path d="M538.79,437.60L540.19,439.00L538.42,440.77L540.19,442.55L538.79,443.95L537.02,442.17L535.25,443.95L533.85,442.55L535.62,440.77L533.85,439.00L535.25,437.60L537.02,439.37Z"/>
<path d="M547.75,437.62L549.15,439.02L547.38,440.79L549.15,442.57L547.75,443.97L545.98,442.20L544.21,443.97L542.81,442.57L544.58,440.79L542.81,439.02L544.21,437.62L545.98,439.39Z"/>
<path d="M556.71,437.64L558.11,439.04L556.34,440.82L558.11,442.59L556.71,443.99L554.94,442.22L553.17,443.99L551.77,442.59L553.54,440.82L551.77,439.04L553.17,437.64L554.94,439.42Z"/>
<path d="M565.67,437.66L567.07,439.06L565.30,440.84L567.07,442.61L565.67,444.01L563.90,442.24L562.13,444.01L560.73,442.61L562.50,440.84L560.73,439.06L562.13,437.66L563.90,439.44Z"/>
<path d="M574.63,437.68L576.03,439.08L574.26,440.85L576.03,442.63L574.63,444.03L572.86,442.25L571.09,444.03L569.69,442.63L571.46,440.85L569.69,439.08L571.09,437.68L572.86,439.45Z"/>
<path d="M583.59,437.70L584.99,439.10L583.22,440.87L584.99,442.65L583.59,444.05L581.82,442.27L580.05,444.05L578.65,442.65L580.42,440.87L578.65,439.10L580.05,437.70L581.82,439.47Z"/>
<path d="M592.55,437.72L593.95,439.12L592.18,440.89L593.95,442.66L592.55,444.06L590.78,442.29L589.01,444.06L587.61,442.66L589.38,440.89L587.61,439.12L589.01,437.72L590.78,439.49Z"/>
<path d="M601.51,437.74L602.91,439.14L601.14,440.91L602.91,442.68L601.51,444.08L599.74,442.31L597.97,444.08L596.57,442.68L598.34,440.91L596.57,439.14L597.97,437.74L599.74,439.51Z"/>
<path d="M610.47,437.75L611.87,439.15L610.10,440.93L611.87,442.70L610.47,444.10L608.70,442.33L606.93,444.10L605.53,442.70L607.30,440.93L605.53,439.15L606.93,437.75L608.70,439.53Z"/>
<path d="M619.43,437.77L620.83,439.17L619.06,440.94L620.83,442.72L619.43,444.12L617.66,442.34L615.89,444.12L614.49,442.72L616.26,440.94L614.49,439.17L615.89,437.77L617.66,439.54Z"/>
<path d="M628.39,437.78L629.79,439.18L628.02,440.96L629.79,442.73L628.39,444.13L626.62,442.36L624.85,444.13L623.45,442.73L625.22,440.96L623.45,439.18L624.85,437.78L626.62,439.56Z"/>
<path d="M637.35,437.80L638.75,439.20L636.98,440.97L638.75,442.75L637.35,444.15L635.58,442.37L633.81,444.15L632.41,442.75L634.18,440.97L632.41,439.20L633.81,437.80L635.58,439.57Z"/>
<path d="M646.31,437.81L647.71,439.21L645.94,440.99L647.71,442.76L646.31,444.16L644.54,442.39L642.77,444.16L641.37,442.76L643.14,440.99L641.37,439.21L642.77,437.81L644.54,439.59Z"/>
<path d="M655.27,437.82L656.67,439.22L654.90,440.99L656.67,442.77L655.27,444.17L653.50,442.39L651.73,444.17L650.33,442.77L652.10,440.99L650.33,439.22L651.73,437.82L653.50,439.59Z"/>
</g></g>
<g opacity="0.5">
<polyline points="384.70,411.40 389.18,395.68 393.66,364.23 398.14,336.48 402.62,314.28 407.10,299.48 411.58,291.15 416.06,290.23 420.54,296.70 425.02,309.65 429.50,326.30 433.98,341.10 438.46,355.90 442.94,370.70 447.42,385.50 451.90,396.60 456.38,405.85 460.86,415.10 465.34,424.35 469.82,431.75 474.30,438.37 483.26,440.76 492.22,440.78 501.18,440.81 510.14,440.83 519.10,440.85 528.06,440.86 537.02,440.88 545.98,440.90 554.94,440.91 563.90,440.93 572.86,440.94 581.82,440.95 590.78,440.96 599.74,440.97 608.70,440.98 617.66,440.99 626.62,440.99 635.58,440.99 644.54,441.00 653.50,441.00" fill="none" stroke="#8a8a8a" stroke-width="0.9" stroke-dasharray="3,2"/>
<g fill="#ffffff" fill-opacity="0.6" stroke="#8a8a8a" stroke-width="0.9">
<path d="M381.70,409.24L387.70,409.24L384.70,414.64Z"/>
<path d="M386.18,393.51L392.18,393.51L389.18,398.92Z"/>
<path d="M390.66,362.06L396.66,362.06L393.66,367.47Z"/>
<path d="M395.14,334.31L401.14,334.31L398.14,339.72Z"/>
<path d="M399.62,312.12L405.62,312.12L402.62,317.52Z"/>
<path d="M404.10,297.31L410.10,297.31L407.10,302.72Z"/>
<path d="M408.58,288.99L414.58,288.99L411.58,294.39Z"/>
<path d="M413.06,288.06L419.06,288.06L416.06,293.47Z"/>
<path d="M417.54,294.54L423.54,294.54L420.54,299.94Z"/>
<path d="M422.02,307.49L428.02,307.49L425.02,312.89Z"/>
<path d="M426.50,324.14L432.50,324.14L429.50,329.54Z"/>
<path d="M430.98,338.94L436.98,338.94L433.98,344.34Z"/>
<path d="M435.46,353.74L441.46,353.74L438.46,359.14Z"/>
<path d="M439.94,368.54L445.94,368.54L442.94,373.94Z"/>
<path d="M444.42,383.34L450.42,383.34L447.42,388.74Z"/>
<path d="M448.90,394.44L454.90,394.44L451.90,399.84Z"/>
<path d="M453.38,403.69L459.38,403.69L456.38,409.09Z"/>
<path d="M457.86,412.94L463.86,412.94L460.86,418.34Z"/>
<path d="M462.34,422.19L468.34,422.19L465.34,427.59Z"/>
<path d="M466.82,429.59L472.82,429.59L469.82,434.99Z"/>
<path d="M471.30,436.21L477.30,436.21L474.30,441.61Z"/>
<path d="M480.26,438.60L486.26,438.60L483.26,444.00Z"/>
<path d="M489.22,438.62L495.22,438.62L492.22,444.02Z"/>
<path d="M498.18,438.65L504.18,438.65L501.18,444.05Z"/>
<path d="M507.14,438.67L513.14,438.67L510.14,444.07Z"/>
<path d="M516.10,438.69L522.10,438.69L519.10,444.09Z"/>
<path d="M525.06,438.70L531.06,438.70L528.06,444.10Z"/>
<path d="M534.02,438.72L540.02,438.72L537.02,444.12Z"/>
<path d="M542.98,438.74L548.98,438.74L545.98,444.14Z"/>
<path d="M551.94,438.75L557.94,438.75L554.94,444.15Z"/>
<path d="M560.90,438.77L566.90,438.77L563.90,444.17Z"/>
<path d="M569.86,438.78L575.86,438.78L572.86,444.18Z"/>
<path d="M578.82,438.79L584.82,438.79L581.82,444.19Z"/>
<path d="M587.78,438.80L593.78,438.80L590.78,444.20Z"/>
<path d="M596.74,438.81L602.74,438.81L599.74,444.21Z"/>
<path d="M605.70,438.82L611.70,438.82L608.70,444.22Z"/>
<path d="M614.66,438.83L620.66,438.83L617.66,444.23Z"/>
<path d="M623.62,438.83L629.62,438.83L626.62,444.23Z"/>
<path d="M632.58,438.83L638.58,438.83L635.58,444.23Z"/>
<path d="M641.54,438.84L647.54,438.84L644.54,444.24Z"/>
<path d="M650.50,438.84L656.50,438.84L653.50,444.24Z"/>
</g></g>
<g opacity="0.5">
<polyline points="384.70,411.40 389.18,391.05 393.66,355.90 398.14,333.70 402.62,324.45 407.10,320.75 411.58,320.75 416.06,326.30 420.54,333.70 425.02,341.10 429.50,348.61 433.98,355.90 438.46,362.87 442.94,370.70 447.42,379.73 451.90,389.20 456.38,398.93 460.86,407.70 465.34,414.72 469.82,420.65 474.30,427.72 483.26,431.75 492.22,437.30 501.18,441.00 510.14,441.00 519.10,446.55 528.06,445.62 537.02,440.08 545.98,447.48 554.94,447.48 563.90,441.00 572.86,441.00 581.82,441.00 590.78,441.00 599.74,441.00 608.70,441.00 617.66,441.00 626.62,441.00 635.58,441.00 644.54,441.00 653.50,441.00" fill="none" stroke="#8a8a8a" stroke-width="0.9" stroke-dasharray="3,2"/>
<g fill="#ffffff" fill-opacity="0.6" stroke="#8a8a8a" stroke-width="0.9">
<circle cx="384.70" cy="411.40" r="2.80"/>
<circle cx="389.18" cy="391.05" r="2.80"/>
<circle cx="393.66" cy="355.90" r="2.80"/>
<circle cx="398.14" cy="333.70" r="2.80"/>
<circle cx="402.62" cy="324.45" r="2.80"/>
<circle cx="407.10" cy="320.75" r="2.80"/>
<circle cx="411.58" cy="320.75" r="2.80"/>
<circle cx="416.06" cy="326.30" r="2.80"/>
<circle cx="420.54" cy="333.70" r="2.80"/>
<circle cx="425.02" cy="341.10" r="2.80"/>
<circle cx="429.50" cy="348.61" r="2.80"/>
<circle cx="433.98" cy="355.90" r="2.80"/>
<circle cx="438.46" cy="362.87" r="2.80"/>
<circle cx="442.94" cy="370.70" r="2.80"/>
<circle cx="447.42" cy="379.73" r="2.80"/>
<circle cx="451.90" cy="389.20" r="2.80"/>
<circle cx="456.38" cy="398.93" r="2.80"/>
<circle cx="460.86" cy="407.70" r="2.80"/>
<circle cx="465.34" cy="414.72" r="2.80"/>
<circle cx="469.82" cy="420.65" r="2.80"/>
<circle cx="474.30" cy="427.72" r="2.80"/>
<circle cx="483.26" cy="431.75" r="2.80"/>
<circle cx="492.22" cy="437.30" r="2.80"/>
<circle cx="501.18" cy="441.00" r="2.80"/>
<circle cx="510.14" cy="441.00" r="2.80"/>
<circle cx="519.10" cy="446.55" r="2.80"/>
<circle cx="528.06" cy="445.62" r="2.80"/>
<circle cx="537.02" cy="440.08" r="2.80"/>
<circle cx="545.98" cy="447.48" r="2.80"/>
<circle cx="554.94" cy="447.48" r="2.80"/>
<circle cx="563.90" cy="441.00" r="2.80"/>
<circle cx="572.86" cy="441.00" r="2.80"/>
<circle cx="581.82" cy="441.00" r="2.80"/>
<circle cx="590.78" cy="441.00" r="2.80"/>
<circle cx="599.74" cy="441.00" r="2.80"/>
<circle cx="608.70" cy="441.00" r="2.80"/>
<circle cx="617.66" cy="441.00" r="2.80"/>
<circle cx="626.62" cy="441.00" r="2.80"/>
<circle cx="635.58" cy="441.00" r="2.80"/>
<circle cx="644.54" cy="441.00" r="2.80"/>
<circle cx="653.50" cy="441.00" r="2.80"/>
</g></g>
<g opacity="0.5">
<polyline points="384.70,389.20 389.18,379.95 393.66,367.00 398.14,355.90 402.62,341.10 407.10,330.00 411.58,318.90 416.06,309.65 420.54,304.10 425.02,300.40 429.50,307.80 433.98,322.60 438.46,333.70 442.94,352.20 447.42,378.10 451.90,392.90 456.38,396.60 460.86,402.15 465.34,413.25 469.82,426.20 474.30,432.37 483.26,434.53 492.22,439.15 501.18,441.00 510.14,441.00 519.10,441.00 528.06,441.00 537.02,441.00 545.98,441.00 554.94,441.00 563.90,441.00 572.86,441.00 581.82,441.00 590.78,441.00 599.74,441.00 608.70,441.00 617.66,441.00 626.62,441.00 635.58,441.00 644.54,441.00 653.50,441.00" fill="none" stroke="#8a8a8a" stroke-width="0.9" stroke-dasharray="3,2"/>
<g fill="#ffffff" fill-opacity="0.6" stroke="#8a8a8a" stroke-width="0.9">
<path d="M384.70,384.98L387.08,389.20L384.70,393.42L382.32,389.20Z"/>
<path d="M389.18,375.73L391.56,379.95L389.18,384.17L386.80,379.95Z"/>
<path d="M393.66,362.78L396.04,367.00L393.66,371.22L391.28,367.00Z"/>
<path d="M398.14,351.68L400.52,355.90L398.14,360.12L395.76,355.90Z"/>
<path d="M402.62,336.88L405.00,341.10L402.62,345.32L400.24,341.10Z"/>
<path d="M407.10,325.78L409.48,330.00L407.10,334.22L404.72,330.00Z"/>
<path d="M411.58,314.68L413.96,318.90L411.58,323.12L409.20,318.90Z"/>
<path d="M416.06,305.43L418.44,309.65L416.06,313.87L413.68,309.65Z"/>
<path d="M420.54,299.88L422.92,304.10L420.54,308.32L418.16,304.10Z"/>
<path d="M425.02,296.18L427.40,300.40L425.02,304.62L422.64,300.40Z"/>
<path d="M429.50,303.58L431.88,307.80L429.50,312.02L427.12,307.80Z"/>
<path d="M433.98,318.38L436.36,322.60L433.98,326.82L431.60,322.60Z"/>
<path d="M438.46,329.48L440.84,333.70L438.46,337.92L436.08,333.70Z"/>
<path d="M442.94,347.98L445.32,352.20L442.94,356.42L440.56,352.20Z"/>
<path d="M447.42,373.88L449.80,378.10L447.42,382.32L445.04,378.10Z"/>
<path d="M451.90,388.68L454.28,392.90L451.90,397.12L449.52,392.90Z"/>
<path d="M456.38,392.38L458.76,396.60L456.38,400.82L454.00,396.60Z"/>
<path d="M460.86,397.93L463.24,402.15L460.86,406.37L458.48,402.15Z"/>
<path d="M465.34,409.03L467.72,413.25L465.34,417.47L462.96,413.25Z"/>
<path d="M469.82,421.98L472.20,426.20L469.82,430.42L467.44,426.20Z"/>
<path d="M474.30,428.14L476.68,432.37L474.30,436.59L471.92,432.37Z"/>
<path d="M483.26,430.30L485.64,434.53L483.26,438.75L480.88,434.53Z"/>
<path d="M492.22,434.93L494.60,439.15L492.22,443.37L489.84,439.15Z"/>
<path d="M501.18,436.78L503.56,441.00L501.18,445.22L498.80,441.00Z"/>
<path d="M510.14,436.78L512.52,441.00L510.14,445.22L507.76,441.00Z"/>
<path d="M519.10,436.78L521.48,441.00L519.10,445.22L516.72,441.00Z"/>
<path d="M528.06,436.78L530.44,441.00L528.06,445.22L525.68,441.00Z"/>
<path d="M537.02,436.78L539.40,441.00L537.02,445.22L534.64,441.00Z"/>
<path d="M545.98,436.78L548.36,441.00L545.98,445.22L543.60,441.00Z"/>
<path d="M554.94,436.78L557.32,441.00L554.94,445.22L552.56,441.00Z"/>
<path d="M563.90,436.78L566.28,441.00L563.90,445.22L561.52,441.00Z"/>
<path d="M572.86,436.78L575.24,441.00L572.86,445.22L570.48,441.00Z"/>
<path d="M581.82,436.78L584.20,441.00L581.82,445.22L579.44,441.00Z"/>
<path d="M590.78,436.78L593.16,441.00L590.78,445.22L588.40,441.00Z"/>
<path d="M599.74,436.78L602.12,441.00L599.74,445.22L597.36,441.00Z"/>
<path d="M608.70,436.78L611.08,441.00L608.70,445.22L606.32,441.00Z"/>
<path d="M617.66,436.78L620.04,441.00L617.66,445.22L615.28,441.00Z"/>
<path d="M626.62,436.78L629.00,441.00L626.62,445.22L624.24,441.00Z"/>
<path d="M635.58,436.78L637.96,441.00L635.58,445.22L633.20,441.00Z"/>
<path d="M644.54,436.78L646.92,441.00L644.54,445.22L642.16,441.00Z"/>
<path d="M653.50,436.78L655.88,441.00L653.50,445.22L651.12,441.00Z"/>
</g></g>
<g opacity="0.55">
<polyline points="384.70,416.95 389.18,398.45 393.66,368.85 398.14,344.80 402.62,335.18 407.10,331.11 411.58,329.63 416.06,330.37 420.54,333.70 425.02,339.62 429.50,346.65 433.98,354.79 438.46,363.30 442.94,370.70 447.42,378.10 451.90,383.65 456.38,389.20 460.86,393.64 465.34,398.45 469.82,402.89 474.30,406.96 483.26,413.25 492.22,418.43 501.18,421.02 510.14,425.09 519.10,429.90 528.06,433.23 537.02,436.56 545.98,438.04 554.94,439.00 563.90,439.52 572.86,439.67 581.82,439.81 590.78,439.92 599.74,440.02 608.70,440.10 617.66,440.16 626.62,440.20 635.58,440.24 644.54,440.25 653.50,440.26" fill="none" stroke="#1f4fd4" stroke-width="0.9"/>
<g fill="#ffffff" fill-opacity="0.6" stroke="#1f4fd4" stroke-width="1.3">
<rect x="381.25" y="413.50" width="6.90" height="6.90"/>
<rect x="385.73" y="395.00" width="6.90" height="6.90"/>
<rect x="390.21" y="365.40" width="6.90" height="6.90"/>
<rect x="394.69" y="341.35" width="6.90" height="6.90"/>
<rect x="399.17" y="331.73" width="6.90" height="6.90"/>
<rect x="403.65" y="327.66" width="6.90" height="6.90"/>
<rect x="408.13" y="326.18" width="6.90" height="6.90"/>
<rect x="412.61" y="326.92" width="6.90" height="6.90"/>
<rect x="417.09" y="330.25" width="6.90" height="6.90"/>
<rect x="421.57" y="336.17" width="6.90" height="6.90"/>
<rect x="426.05" y="343.20" width="6.90" height="6.90"/>
<rect x="430.53" y="351.34" width="6.90" height="6.90"/>
<rect x="435.01" y="359.85" width="6.90" height="6.90"/>
<rect x="439.49" y="367.25" width="6.90" height="6.90"/>
<rect x="443.97" y="374.65" width="6.90" height="6.90"/>
<rect x="448.45" y="380.20" width="6.90" height="6.90"/>
<rect x="452.93" y="385.75" width="6.90" height="6.90"/>
<rect x="457.41" y="390.19" width="6.90" height="6.90"/>
<rect x="461.89" y="395.00" width="6.90" height="6.90"/>
<rect x="466.37" y="399.44" width="6.90" height="6.90"/>
<rect x="470.85" y="403.51" width="6.90" height="6.90"/>
<rect x="479.81" y="409.80" width="6.90" height="6.90"/>
<rect x="488.77" y="414.98" width="6.90" height="6.90"/>
<rect x="497.73" y="417.57" width="6.90" height="6.90"/>
<rect x="506.69" y="421.64" width="6.90" height="6.90"/>
<rect x="515.65" y="426.45" width="6.90" height="6.90"/>
<rect x="524.61" y="429.78" width="6.90" height="6.90"/>
<rect x="533.57" y="433.11" width="6.90" height="6.90"/>
<rect x="542.53" y="434.59" width="6.90" height="6.90"/>
<rect x="551.49" y="435.55" width="6.90" height="6.90"/>
<rect x="560.45" y="436.07" width="6.90" height="6.90"/>
<rect x="569.41" y="436.22" width="6.90" height="6.90"/>
<rect x="578.37" y="436.36" width="6.90" height="6.90"/>
<rect x="587.33" y="436.47" width="6.90" height="6.90"/>
<rect x="596.29" y="436.57" width="6.90" height="6.90"/>
<rect x="605.25" y="436.65" width="6.90" height="6.90"/>
<rect x="614.21" y="436.71" width="6.90" height="6.90"/>
<rect x="623.17" y="436.75" width="6.90" height="6.90"/>
<rect x="632.13" y="436.79" width="6.90" height="6.90"/>
<rect x="641.09" y="436.80" width="6.90" height="6.90"/>
<rect x="650.05" y="436.81" width="6.90" height="6.90"/>
</g></g>
<g opacity="0.55">
<polyline points="384.70,418.80 389.18,402.15 393.66,372.55 398.14,345.91 402.62,337.77 407.10,333.70 411.58,332.59 416.06,334.44 420.54,338.51 425.02,344.06 429.50,350.35 433.98,357.75 438.46,365.15 442.94,372.55 447.42,378.84 451.90,384.02 456.38,389.20 460.86,395.12 465.34,400.30 469.82,404.74 474.30,409.18 483.26,415.84 492.22,421.76 501.18,426.57 510.14,430.27 519.10,433.23 528.06,434.71 537.02,436.93 545.98,438.04 554.94,438.97 563.90,439.52 572.86,439.67 581.82,439.81 590.78,439.92 599.74,440.02 608.70,440.10 617.66,440.16 626.62,440.20 635.58,440.24 644.54,440.25 653.50,440.26" fill="none" stroke="#dd2222" stroke-width="0.9"/>
<g fill="#ffffff" fill-opacity="0.6" stroke="#dd2222" stroke-width="1.3">
<circle cx="384.70" cy="418.80" r="2.80"/>
<circle cx="389.18" cy="402.15" r="2.80"/>
<circle cx="393.66" cy="372.55" r="2.80"/>
<circle cx="398.14" cy="345.91" r="2.80"/>
<circle cx="402.62" cy="337.77" r="2.80"/>
<circle cx="407.10" cy="333.70" r="2.80"/>
<circle cx="411.58" cy="332.59" r="2.80"/>
<circle cx="416.06" cy="334.44" r="2.80"/>
<circle cx="420.54" cy="338.51" r="2.80"/>
<circle cx="425.02" cy="344.06" r="2.80"/>
<circle cx="429.50" cy="350.35" r="2.80"/>
<circle cx="433.98" cy="357.75" r="2.80"/>
<circle cx="438.46" cy="365.15" r="2.80"/>
<circle cx="442.94" cy="372.55" r="2.80"/>
<circle cx="447.42" cy="378.84" r="2.80"/>
<circle cx="451.90" cy="384.02" r="2.80"/>
<circle cx="456.38" cy="389.20" r="2.80"/>
<circle cx="460.86" cy="395.12" r="2.80"/>
<circle cx="465.34" cy="400.30" r="2.80"/>
<circle cx="469.82" cy="404.74" r="2.80"/>
<circle cx="474.30" cy="409.18" r="2.80"/>
<circle cx="483.26" cy="415.84" r="2.80"/>
<circle cx="492.22" cy="421.76" r="2.80"/>
<circle cx="501.18" cy="426.57" r="2.80"/>
<circle cx="510.14" cy="430.27" r="2.80"/>
<circle cx="519.10" cy="433.23" r="2.80"/>
<circle cx="528.06" cy="434.71" r="2.80"/>
<circle cx="537.02" cy="436.93" r="2.80"/>
<circle cx="545.98" cy="438.04" r="2.80"/>
<circle cx="554.94" cy="438.97" r="2.80"/>
<circle cx="563.90" cy="439.52" r="2.80"/>
<circle cx="572.86" cy="439.67" r="2.80"/>
<circle cx="581.82" cy="439.81" r="2.80"/>
<circle cx="590.78" cy="439.92" r="2.80"/>
<circle cx="599.74" cy="440.02" r="2.80"/>
<circle cx="608.70" cy="440.10" r="2.80"/>
<circle cx="617.66" cy="440.16" r="2.80"/>
<circle cx="626.62" cy="440.20" r="2.80"/>
<circle cx="635.58" cy="440.24" r="2.80"/>
<circle cx="644.54" cy="440.25" r="2.80"/>
<circle cx="653.50" cy="440.26" r="2.80"/>
</g></g>
<polyline points="384.70,425.58 389.18,422.87 393.66,416.09 398.14,405.91 402.62,394.04 407.10,381.49 411.58,369.96 416.06,359.45 420.54,350.29 425.02,341.81 429.50,334.01 433.98,326.90 438.46,320.44 442.94,314.64 447.42,309.59 451.90,305.32 456.38,301.79 460.86,298.92 465.34,296.70 469.82,295.09 474.30,293.99 483.26,292.97 492.22,292.29 501.18,291.61 510.14,291.38 519.10,291.27 528.06,291.23 537.02,291.18 545.98,291.14 554.94,291.11 563.90,291.08 572.86,291.05 581.82,291.02 590.78,291.00 599.74,290.98 608.70,290.97 617.66,290.95 626.62,290.95 635.58,290.94 644.54,290.94 653.50,290.93" fill="none" stroke="#7a7a7a" stroke-width="0.8"/>
<g fill="#ffffff" stroke="#7a7a7a" stroke-width="0.95">
<path d="M386.47,422.41L387.87,423.81L386.10,425.58L387.87,427.36L386.47,428.76L384.70,426.98L382.93,428.76L381.53,427.36L383.30,425.58L381.53,423.81L382.93,422.41L384.70,424.18Z"/>
<path d="M390.95,419.70L392.35,421.10L390.58,422.87L392.35,424.64L390.95,426.04L389.18,424.27L387.41,426.04L386.01,424.64L387.78,422.87L386.01,421.10L387.41,419.70L389.18,421.47Z"/>
<path d="M395.43,412.91L396.83,414.31L395.06,416.09L396.83,417.86L395.43,419.26L393.66,417.49L391.89,419.26L390.49,417.86L392.26,416.09L390.49,414.31L391.89,412.91L393.66,414.69Z"/>
<path d="M399.91,402.74L401.31,404.14L399.54,405.91L401.31,407.69L399.91,409.09L398.14,407.31L396.37,409.09L394.97,407.69L396.74,405.91L394.97,404.14L396.37,402.74L398.14,404.51Z"/>
<path d="M404.39,390.87L405.79,392.27L404.02,394.04L405.79,395.81L404.39,397.21L402.62,395.44L400.85,397.21L399.45,395.81L401.22,394.04L399.45,392.27L400.85,390.87L402.62,392.64Z"/>
<path d="M408.87,378.32L410.27,379.72L408.50,381.49L410.27,383.27L408.87,384.67L407.10,382.89L405.33,384.67L403.93,383.27L405.70,381.49L403.93,379.72L405.33,378.32L407.10,380.09Z"/>
<path d="M413.35,366.79L414.75,368.19L412.98,369.96L414.75,371.73L413.35,373.13L411.58,371.36L409.81,373.13L408.41,371.73L410.18,369.96L408.41,368.19L409.81,366.79L411.58,368.56Z"/>
<path d="M417.83,356.27L419.23,357.67L417.46,359.45L419.23,361.22L417.83,362.62L416.06,360.85L414.29,362.62L412.89,361.22L414.66,359.45L412.89,357.67L414.29,356.27L416.06,358.05Z"/>
<path d="M422.31,347.11L423.71,348.51L421.94,350.29L423.71,352.06L422.31,353.46L420.54,351.69L418.77,353.46L417.37,352.06L419.14,350.29L417.37,348.51L418.77,347.11L420.54,348.89Z"/>
<path d="M426.79,338.64L428.19,340.04L426.42,341.81L428.19,343.58L426.79,344.98L425.02,343.21L423.25,344.98L421.85,343.58L423.62,341.81L421.85,340.04L423.25,338.64L425.02,340.41Z"/>
<path d="M431.27,330.83L432.67,332.23L430.90,334.01L432.67,335.78L431.27,337.18L429.50,335.41L427.73,337.18L426.33,335.78L428.10,334.01L426.33,332.23L427.73,330.83L429.50,332.61Z"/>
<path d="M435.75,323.73L437.15,325.13L435.38,326.90L437.15,328.68L435.75,330.08L433.98,328.30L432.21,330.08L430.81,328.68L432.58,326.90L430.81,325.13L432.21,323.73L433.98,325.50Z"/>
<path d="M440.23,317.27L441.63,318.67L439.86,320.44L441.63,322.22L440.23,323.62L438.46,321.84L436.69,323.62L435.29,322.22L437.06,320.44L435.29,318.67L436.69,317.27L438.46,319.04Z"/>
<path d="M444.71,311.47L446.11,312.87L444.34,314.64L446.11,316.42L444.71,317.82L442.94,316.04L441.17,317.82L439.77,316.42L441.54,314.64L439.77,312.87L441.17,311.47L442.94,313.24Z"/>
<path d="M449.19,306.41L450.59,307.81L448.82,309.59L450.59,311.36L449.19,312.76L447.42,310.99L445.65,312.76L444.25,311.36L446.02,309.59L444.25,307.81L445.65,306.41L447.42,308.19Z"/>
<path d="M453.67,302.15L455.07,303.55L453.30,305.32L455.07,307.10L453.67,308.50L451.90,306.72L450.13,308.50L448.73,307.10L450.50,305.32L448.73,303.55L450.13,302.15L451.90,303.92Z"/>
<path d="M458.15,298.61L459.55,300.01L457.78,301.79L459.55,303.56L458.15,304.96L456.38,303.19L454.61,304.96L453.21,303.56L454.98,301.79L453.21,300.01L454.61,298.61L456.38,300.39Z"/>
<path d="M462.63,295.74L464.03,297.14L462.26,298.92L464.03,300.69L462.63,302.09L460.86,300.32L459.09,302.09L457.69,300.69L459.46,298.92L457.69,297.14L459.09,295.74L460.86,297.52Z"/>
<path d="M467.11,293.53L468.51,294.93L466.74,296.70L468.51,298.47L467.11,299.87L465.34,298.10L463.57,299.87L462.17,298.47L463.94,296.70L462.17,294.93L463.57,293.53L465.34,295.30Z"/>
<path d="M471.59,291.91L472.99,293.31L471.22,295.09L472.99,296.86L471.59,298.26L469.82,296.49L468.05,298.26L466.65,296.86L468.42,295.09L466.65,293.31L468.05,291.91L469.82,293.69Z"/>
<path d="M476.07,290.81L477.47,292.21L475.70,293.99L477.47,295.76L476.07,297.16L474.30,295.39L472.53,297.16L471.13,295.76L472.90,293.99L471.13,292.21L472.53,290.81L474.30,292.59Z"/>
<path d="M485.03,289.80L486.43,291.20L484.66,292.97L486.43,294.74L485.03,296.14L483.26,294.37L481.49,296.14L480.09,294.74L481.86,292.97L480.09,291.20L481.49,289.80L483.26,291.57Z"/>
<path d="M493.99,289.12L495.39,290.52L493.62,292.29L495.39,294.06L493.99,295.46L492.22,293.69L490.45,295.46L489.05,294.06L490.82,292.29L489.05,290.52L490.45,289.12L492.22,290.89Z"/>
<path d="M502.95,288.44L504.35,289.84L502.58,291.61L504.35,293.39L502.95,294.79L501.18,293.01L499.41,294.79L498.01,293.39L499.78,291.61L498.01,289.84L499.41,288.44L501.18,290.21Z"/>
<path d="M511.91,288.21L513.31,289.61L511.54,291.38L513.31,293.16L511.91,294.56L510.14,292.78L508.37,294.56L506.97,293.16L508.74,291.38L506.97,289.61L508.37,288.21L510.14,289.98Z"/>
<path d="M520.87,288.10L522.27,289.50L520.50,291.27L522.27,293.05L520.87,294.45L519.10,292.67L517.33,294.45L515.93,293.05L517.70,291.27L515.93,289.50L517.33,288.10L519.10,289.87Z"/>
<path d="M529.83,288.05L531.23,289.45L529.46,291.23L531.23,293.00L529.83,294.40L528.06,292.63L526.29,294.40L524.89,293.00L526.66,291.23L524.89,289.45L526.29,288.05L528.06,289.83Z"/>
<path d="M538.79,288.01L540.19,289.41L538.42,291.18L540.19,292.96L538.79,294.36L537.02,292.58L535.25,294.36L533.85,292.96L535.62,291.18L533.85,289.41L535.25,288.01L537.02,289.78Z"/>
<path d="M547.75,287.97L549.15,289.37L547.38,291.14L549.15,292.92L547.75,294.32L545.98,292.54L544.21,294.32L542.81,292.92L544.58,291.14L542.81,289.37L544.21,287.97L545.98,289.74Z"/>
<path d="M556.71,287.93L558.11,289.33L556.34,291.11L558.11,292.88L556.71,294.28L554.94,292.51L553.17,294.28L551.77,292.88L553.54,291.11L551.77,289.33L553.17,287.93L554.94,289.71Z"/>
<path d="M565.67,287.90L567.07,289.30L565.30,291.08L567.07,292.85L565.67,294.25L563.90,292.48L562.13,294.25L560.73,292.85L562.50,291.08L560.73,289.30L562.13,287.90L563.90,289.68Z"/>
<path d="M574.63,287.87L576.03,289.27L574.26,291.05L576.03,292.82L574.63,294.22L572.86,292.45L571.09,294.22L569.69,292.82L571.46,291.05L569.69,289.27L571.09,287.87L572.86,289.65Z"/>
<path d="M583.59,287.85L584.99,289.25L583.22,291.02L584.99,292.80L583.59,294.20L581.82,292.42L580.05,294.20L578.65,292.80L580.42,291.02L578.65,289.25L580.05,287.85L581.82,289.62Z"/>
<path d="M592.55,287.83L593.95,289.23L592.18,291.00L593.95,292.77L592.55,294.17L590.78,292.40L589.01,294.17L587.61,292.77L589.38,291.00L587.61,289.23L589.01,287.83L590.78,289.60Z"/>
<path d="M601.51,287.81L602.91,289.21L601.14,290.98L602.91,292.76L601.51,294.16L599.74,292.38L597.97,294.16L596.57,292.76L598.34,290.98L596.57,289.21L597.97,287.81L599.74,289.58Z"/>
<path d="M610.47,287.79L611.87,289.19L610.10,290.97L611.87,292.74L610.47,294.14L608.70,292.37L606.93,294.14L605.53,292.74L607.30,290.97L605.53,289.19L606.93,287.79L608.70,289.57Z"/>
<path d="M619.43,287.78L620.83,289.18L619.06,290.95L620.83,292.73L619.43,294.13L617.66,292.35L615.89,294.13L614.49,292.73L616.26,290.95L614.49,289.18L615.89,287.78L617.66,289.55Z"/>
<path d="M628.39,287.77L629.79,289.17L628.02,290.95L629.79,292.72L628.39,294.12L626.62,292.35L624.85,294.12L623.45,292.72L625.22,290.95L623.45,289.17L624.85,287.77L626.62,289.55Z"/>
<path d="M637.35,287.77L638.75,289.17L636.98,290.94L638.75,292.71L637.35,294.11L635.58,292.34L633.81,294.11L632.41,292.71L634.18,290.94L632.41,289.17L633.81,287.77L635.58,289.54Z"/>
<path d="M646.31,287.76L647.71,289.16L645.94,290.94L647.71,292.71L646.31,294.11L644.54,292.34L642.77,294.11L641.37,292.71L643.14,290.94L641.37,289.16L642.77,287.76L644.54,289.54Z"/>
<path d="M655.27,287.76L656.67,289.16L654.90,290.93L656.67,292.71L655.27,294.11L653.50,292.33L651.73,294.11L650.33,292.71L652.10,290.93L650.33,289.16L651.73,287.76L653.50,289.53Z"/>
</g>
<polyline points="384.70,425.58 389.18,422.87 393.66,417.27 398.14,408.79 402.62,398.11 407.10,385.56 411.58,372.16 416.06,358.09 420.54,344.52 425.02,331.63 429.50,320.44 433.98,310.61 438.46,302.13 442.94,295.00 447.42,289.24 451.90,284.83 456.38,281.10 460.86,278.38 465.34,276.35 469.82,275.33 474.30,274.65 483.26,274.61 492.22,274.57 501.18,274.53 510.14,274.49 519.10,274.46 528.06,274.44 537.02,274.42 545.98,274.40 554.94,274.38 563.90,274.36 572.86,274.35 581.82,274.34 590.78,274.33 599.74,274.33 608.70,274.32 617.66,274.32 626.62,274.32 635.58,274.32 644.54,274.32 653.50,274.31" fill="none" stroke="#7a7a7a" stroke-width="0.8"/>
<g fill="#ffffff" stroke="#7a7a7a" stroke-width="0.95">
<path d="M381.70,423.42L387.70,423.42L384.70,428.82Z"/>
<path d="M386.18,420.71L392.18,420.71L389.18,426.11Z"/>
<path d="M390.66,415.11L396.66,415.11L393.66,420.51Z"/>
<path d="M395.14,406.63L401.14,406.63L398.14,412.03Z"/>
<path d="M399.62,395.95L405.62,395.95L402.62,401.35Z"/>
<path d="M404.10,383.40L410.10,383.40L407.10,388.80Z"/>
<path d="M408.58,370.00L414.58,370.00L411.58,375.40Z"/>
<path d="M413.06,355.93L419.06,355.93L416.06,361.33Z"/>
<path d="M417.54,342.36L423.54,342.36L420.54,347.76Z"/>
<path d="M422.02,329.47L428.02,329.47L425.02,334.87Z"/>
<path d="M426.50,318.28L432.50,318.28L429.50,323.68Z"/>
<path d="M430.98,308.45L436.98,308.45L433.98,313.85Z"/>
<path d="M435.46,299.97L441.46,299.97L438.46,305.37Z"/>
<path d="M439.94,292.84L445.94,292.84L442.94,298.24Z"/>
<path d="M444.42,287.08L450.42,287.08L447.42,292.48Z"/>
<path d="M448.90,282.67L454.90,282.67L451.90,288.07Z"/>
<path d="M453.38,278.94L459.38,278.94L456.38,284.34Z"/>
<path d="M457.86,276.22L463.86,276.22L460.86,281.62Z"/>
<path d="M462.34,274.19L468.34,274.19L465.34,279.59Z"/>
<path d="M466.82,273.17L472.82,273.17L469.82,278.57Z"/>
<path d="M471.30,272.49L477.30,272.49L474.30,277.89Z"/>
<path d="M480.26,272.45L486.26,272.45L483.26,277.85Z"/>
<path d="M489.22,272.41L495.22,272.41L492.22,277.81Z"/>
<path d="M498.18,272.37L504.18,272.37L501.18,277.77Z"/>
<path d="M507.14,272.33L513.14,272.33L510.14,277.73Z"/>
<path d="M516.10,272.30L522.10,272.30L519.10,277.70Z"/>
<path d="M525.06,272.28L531.06,272.28L528.06,277.68Z"/>
<path d="M534.02,272.26L540.02,272.26L537.02,277.66Z"/>
<path d="M542.98,272.24L548.98,272.24L545.98,277.64Z"/>
<path d="M551.94,272.22L557.94,272.22L554.94,277.62Z"/>
<path d="M560.90,272.20L566.90,272.20L563.90,277.60Z"/>
<path d="M569.86,272.19L575.86,272.19L572.86,277.59Z"/>
<path d="M578.82,272.18L584.82,272.18L581.82,277.58Z"/>
<path d="M587.78,272.17L593.78,272.17L590.78,277.57Z"/>
<path d="M596.74,272.17L602.74,272.17L599.74,277.57Z"/>
<path d="M605.70,272.16L611.70,272.16L608.70,277.56Z"/>
<path d="M614.66,272.16L620.66,272.16L617.66,277.56Z"/>
<path d="M623.62,272.16L629.62,272.16L626.62,277.56Z"/>
<path d="M632.58,272.16L638.58,272.16L635.58,277.56Z"/>
<path d="M641.54,272.16L647.54,272.16L644.54,277.56Z"/>
<path d="M650.50,272.15L656.50,272.15L653.50,277.56Z"/>
</g>
<polyline points="384.70,425.58 389.18,422.87 393.66,416.43 398.14,407.27 402.62,396.75 407.10,385.90 411.58,374.71 416.06,363.86 420.54,353.68 425.02,344.18 429.50,335.37 433.98,327.24 438.46,319.76 442.94,312.92 447.42,306.88 451.90,301.69 456.38,297.38 460.86,293.98 465.34,291.27 469.82,289.16 474.30,287.54 483.26,285.51 492.22,284.15 501.18,284.15 510.14,284.15 519.10,284.15 528.06,286.19 537.02,285.85 545.98,285.85 554.94,288.22 563.90,288.22 572.86,288.22 581.82,288.22 590.78,288.22 599.74,288.22 608.70,288.22 617.66,288.22 626.62,288.22 635.58,288.22 644.54,288.22 653.50,288.22" fill="none" stroke="#7a7a7a" stroke-width="0.8"/>
<g fill="#ffffff" stroke="#7a7a7a" stroke-width="0.95">
<circle cx="384.70" cy="425.58" r="2.80"/>
<circle cx="389.18" cy="422.87" r="2.80"/>
<circle cx="393.66" cy="416.43" r="2.80"/>
<circle cx="398.14" cy="407.27" r="2.80"/>
<circle cx="402.62" cy="396.75" r="2.80"/>
<circle cx="407.10" cy="385.90" r="2.80"/>
<circle cx="411.58" cy="374.71" r="2.80"/>
<circle cx="416.06" cy="363.86" r="2.80"/>
<circle cx="420.54" cy="353.68" r="2.80"/>
<circle cx="425.02" cy="344.18" r="2.80"/>
<circle cx="429.50" cy="335.37" r="2.80"/>
<circle cx="433.98" cy="327.24" r="2.80"/>
<circle cx="438.46" cy="319.76" r="2.80"/>
<circle cx="442.94" cy="312.92" r="2.80"/>
<circle cx="447.42" cy="306.88" r="2.80"/>
<circle cx="451.90" cy="301.69" r="2.80"/>
<circle cx="456.38" cy="297.38" r="2.80"/>
<circle cx="460.86" cy="293.98" r="2.80"/>
<circle cx="465.34" cy="291.27" r="2.80"/>
<circle cx="469.82" cy="289.16" r="2.80"/>
<circle cx="474.30" cy="287.54" r="2.80"/>
<circle cx="483.26" cy="285.51" r="2.80"/>
<circle cx="492.22" cy="284.15" r="2.80"/>
<circle cx="501.18" cy="284.15" r="2.80"/>
<circle cx="510.14" cy="284.15" r="2.80"/>
<circle cx="519.10" cy="284.15" r="2.80"/>
<circle cx="528.06" cy="286.19" r="2.80"/>
<circle cx="537.02" cy="285.85" r="2.80"/>
<circle cx="545.98" cy="285.85" r="2.80"/>
<circle cx="554.94" cy="288.22" r="2.80"/>
<circle cx="563.90" cy="288.22" r="2.80"/>
<circle cx="572.86" cy="288.22" r="2.80"/>
<circle cx="581.82" cy="288.22" r="2.80"/>
<circle cx="590.78" cy="288.22" r="2.80"/>
<circle cx="599.74" cy="288.22" r="2.80"/>
<circle cx="608.70" cy="288.22" r="2.80"/>
<circle cx="617.66" cy="288.22" r="2.80"/>
<circle cx="626.62" cy="288.22" r="2.80"/>
<circle cx="635.58" cy="288.22" r="2.80"/>
<circle cx="644.54" cy="288.22" r="2.80"/>
<circle cx="653.50" cy="288.22" r="2.80"/>
</g>
<polyline points="384.70,425.58 389.18,420.84 393.66,414.39 398.14,407.27 402.62,398.79 407.10,388.95 411.58,378.44 416.06,366.57 420.54,354.36 425.02,341.47 429.50,328.58 433.98,317.05 438.46,306.88 442.94,297.38 447.42,290.60 451.90,285.85 456.38,281.78 460.86,277.71 465.34,274.65 469.82,272.62 474.30,271.94 483.26,270.25 492.22,269.57 501.18,269.57 510.14,269.57 519.10,269.57 528.06,269.57 537.02,269.57 545.98,269.57 554.94,269.57 563.90,269.57 572.86,269.57 581.82,269.57 590.78,269.57 599.74,269.57 608.70,269.57 617.66,269.57 626.62,269.57 635.58,269.57 644.54,269.57 653.50,269.57" fill="none" stroke="#7a7a7a" stroke-width="0.8"/>
<g fill="#ffffff" stroke="#7a7a7a" stroke-width="0.95">
<path d="M384.70,421.36L387.08,425.58L384.70,429.81L382.32,425.58Z"/>
<path d="M389.18,416.61L391.56,420.84L389.18,425.06L386.80,420.84Z"/>
<path d="M393.66,410.17L396.04,414.39L393.66,418.61L391.28,414.39Z"/>
<path d="M398.14,403.04L400.52,407.27L398.14,411.49L395.76,407.27Z"/>
<path d="M402.62,394.57L405.00,398.79L402.62,403.01L400.24,398.79Z"/>
<path d="M407.10,384.73L409.48,388.95L407.10,393.18L404.72,388.95Z"/>
<path d="M411.58,374.22L413.96,378.44L411.58,382.66L409.20,378.44Z"/>
<path d="M416.06,362.34L418.44,366.57L416.06,370.79L413.68,366.57Z"/>
<path d="M420.54,350.13L422.92,354.36L420.54,358.58L418.16,354.36Z"/>
<path d="M425.02,337.25L427.40,341.47L425.02,345.69L422.64,341.47Z"/>
<path d="M429.50,324.36L431.88,328.58L429.50,332.81L427.12,328.58Z"/>
<path d="M433.98,312.83L436.36,317.05L433.98,321.27L431.60,317.05Z"/>
<path d="M438.46,302.65L440.84,306.88L438.46,311.10L436.08,306.88Z"/>
<path d="M442.94,293.15L445.32,297.38L442.94,301.60L440.56,297.38Z"/>
<path d="M447.42,286.37L449.80,290.60L447.42,294.82L445.04,290.60Z"/>
<path d="M451.90,281.62L454.28,285.85L451.90,290.07L449.52,285.85Z"/>
<path d="M456.38,277.55L458.76,281.78L456.38,286.00L454.00,281.78Z"/>
<path d="M460.86,273.48L463.24,277.71L460.86,281.93L458.48,277.71Z"/>
<path d="M465.34,270.43L467.72,274.65L465.34,278.88L462.96,274.65Z"/>
<path d="M469.82,268.40L472.20,272.62L469.82,276.84L467.44,272.62Z"/>
<path d="M474.30,267.72L476.68,271.94L474.30,276.16L471.92,271.94Z"/>
<path d="M483.26,266.02L485.64,270.25L483.26,274.47L480.88,270.25Z"/>
<path d="M492.22,265.34L494.60,269.57L492.22,273.79L489.84,269.57Z"/>
<path d="M501.18,265.34L503.56,269.57L501.18,273.79L498.80,269.57Z"/>
<path d="M510.14,265.34L512.52,269.57L510.14,273.79L507.76,269.57Z"/>
<path d="M519.10,265.34L521.48,269.57L519.10,273.79L516.72,269.57Z"/>
<path d="M528.06,265.34L530.44,269.57L528.06,273.79L525.68,269.57Z"/>
<path d="M537.02,265.34L539.40,269.57L537.02,273.79L534.64,269.57Z"/>
<path d="M545.98,265.34L548.36,269.57L545.98,273.79L543.60,269.57Z"/>
<path d="M554.94,265.34L557.32,269.57L554.94,273.79L552.56,269.57Z"/>
<path d="M563.90,265.34L566.28,269.57L563.90,273.79L561.52,269.57Z"/>
<path d="M572.86,265.34L575.24,269.57L572.86,273.79L570.48,269.57Z"/>
<path d="M581.82,265.34L584.20,269.57L581.82,273.79L579.44,269.57Z"/>
<path d="M590.78,265.34L593.16,269.57L590.78,273.79L588.40,269.57Z"/>
<path d="M599.74,265.34L602.12,269.57L599.74,273.79L597.36,269.57Z"/>
<path d="M608.70,265.34L611.08,269.57L608.70,273.79L606.32,269.57Z"/>
<path d="M617.66,265.34L620.04,269.57L617.66,273.79L615.28,269.57Z"/>
<path d="M626.62,265.34L629.00,269.57L626.62,273.79L624.24,269.57Z"/>
<path d="M635.58,265.34L637.96,269.57L635.58,273.79L633.20,269.57Z"/>
<path d="M644.54,265.34L646.92,269.57L644.54,273.79L642.16,269.57Z"/>
<path d="M653.50,265.34L655.88,269.57L653.50,273.79L651.12,269.57Z"/>
</g>
<polyline points="384.70,425.58 389.18,423.21 393.66,418.12 398.14,409.98 402.62,400.49 407.10,390.65 411.58,380.47 416.06,370.64 420.54,361.14 425.02,351.98 429.50,343.17 433.98,335.37 438.46,328.24 442.94,321.80 447.42,315.69 451.90,310.27 456.38,305.18 460.86,300.43 465.34,296.36 469.82,292.97 474.30,289.92 483.26,285.00 492.22,280.42 501.18,276.69 510.14,273.64 519.10,271.60 528.06,269.91 537.02,268.89 545.98,268.65 554.94,268.55 563.90,268.52 572.86,268.49 581.82,268.46 590.78,268.44 599.74,268.42 608.70,268.41 617.66,268.40 626.62,268.39 635.58,268.38 644.54,268.38 653.50,268.38" fill="none" stroke="#1f4fd4" stroke-width="1.0"/>
<g fill="#ffffff" stroke="#1f4fd4" stroke-width="1.4">
<rect x="381.25" y="422.13" width="6.90" height="6.90"/>
<rect x="385.73" y="419.76" width="6.90" height="6.90"/>
<rect x="390.21" y="414.67" width="6.90" height="6.90"/>
<rect x="394.69" y="406.53" width="6.90" height="6.90"/>
<rect x="399.17" y="397.04" width="6.90" height="6.90"/>
<rect x="403.65" y="387.20" width="6.90" height="6.90"/>
<rect x="408.13" y="377.02" width="6.90" height="6.90"/>
<rect x="412.61" y="367.19" width="6.90" height="6.90"/>
<rect x="417.09" y="357.69" width="6.90" height="6.90"/>
<rect x="421.57" y="348.53" width="6.90" height="6.90"/>
<rect x="426.05" y="339.72" width="6.90" height="6.90"/>
<rect x="430.53" y="331.92" width="6.90" height="6.90"/>
<rect x="435.01" y="324.79" width="6.90" height="6.90"/>
<rect x="439.49" y="318.35" width="6.90" height="6.90"/>
<rect x="443.97" y="312.24" width="6.90" height="6.90"/>
<rect x="448.45" y="306.82" width="6.90" height="6.90"/>
<rect x="452.93" y="301.73" width="6.90" height="6.90"/>
<rect x="457.41" y="296.98" width="6.90" height="6.90"/>
<rect x="461.89" y="292.91" width="6.90" height="6.90"/>
<rect x="466.37" y="289.52" width="6.90" height="6.90"/>
<rect x="470.85" y="286.47" width="6.90" height="6.90"/>
<rect x="479.81" y="281.55" width="6.90" height="6.90"/>
<rect x="488.77" y="276.97" width="6.90" height="6.90"/>
<rect x="497.73" y="273.24" width="6.90" height="6.90"/>
<rect x="506.69" y="270.19" width="6.90" height="6.90"/>
<rect x="515.65" y="268.15" width="6.90" height="6.90"/>
<rect x="524.61" y="266.46" width="6.90" height="6.90"/>
<rect x="533.57" y="265.44" width="6.90" height="6.90"/>
<rect x="542.53" y="265.20" width="6.90" height="6.90"/>
<rect x="551.49" y="265.10" width="6.90" height="6.90"/>
<rect x="560.45" y="265.07" width="6.90" height="6.90"/>
<rect x="569.41" y="265.04" width="6.90" height="6.90"/>
<rect x="578.37" y="265.01" width="6.90" height="6.90"/>
<rect x="587.33" y="264.99" width="6.90" height="6.90"/>
<rect x="596.29" y="264.97" width="6.90" height="6.90"/>
<rect x="605.25" y="264.96" width="6.90" height="6.90"/>
<rect x="614.21" y="264.95" width="6.90" height="6.90"/>
<rect x="623.17" y="264.94" width="6.90" height="6.90"/>
<rect x="632.13" y="264.93" width="6.90" height="6.90"/>
<rect x="641.09" y="264.93" width="6.90" height="6.90"/>
<rect x="650.05" y="264.93" width="6.90" height="6.90"/>
</g>
<polyline points="384.70,425.58 389.18,423.55 393.66,418.80 398.14,411.00 402.62,401.84 407.10,392.01 411.58,382.17 416.06,372.33 420.54,362.84 425.02,353.68 429.50,344.86 433.98,336.72 438.46,329.60 442.94,323.15 447.42,317.05 451.90,311.62 456.38,306.54 460.86,301.79 465.34,298.06 469.82,294.33 474.30,291.27 483.26,286.53 492.22,282.12 501.18,278.72 510.14,276.69 519.10,275.33 528.06,273.64 537.02,272.62 545.98,272.28 554.94,271.87 563.90,271.60 572.86,271.53 581.82,271.47 590.78,271.42 599.74,271.37 608.70,271.34 617.66,271.31 626.62,271.29 635.58,271.27 644.54,271.27 653.50,271.26" fill="none" stroke="#dd2222" stroke-width="1.0"/>
<g fill="#ffffff" stroke="#dd2222" stroke-width="1.3">
<circle cx="384.70" cy="425.58" r="2.80"/>
<circle cx="389.18" cy="423.55" r="2.80"/>
<circle cx="393.66" cy="418.80" r="2.80"/>
<circle cx="398.14" cy="411.00" r="2.80"/>
<circle cx="402.62" cy="401.84" r="2.80"/>
<circle cx="407.10" cy="392.01" r="2.80"/>
<circle cx="411.58" cy="382.17" r="2.80"/>
<circle cx="416.06" cy="372.33" r="2.80"/>
<circle cx="420.54" cy="362.84" r="2.80"/>
<circle cx="425.02" cy="353.68" r="2.80"/>
<circle cx="429.50" cy="344.86" r="2.80"/>
<circle cx="433.98" cy="336.72" r="2.80"/>
<circle cx="438.46" cy="329.60" r="2.80"/>
<circle cx="442.94" cy="323.15" r="2.80"/>
<circle cx="447.42" cy="317.05" r="2.80"/>
<circle cx="451.90" cy="311.62" r="2.80"/>
<circle cx="456.38" cy="306.54" r="2.80"/>
<circle cx="460.86" cy="301.79" r="2.80"/>
<circle cx="465.34" cy="298.06" r="2.80"/>
<circle cx="469.82" cy="294.33" r="2.80"/>
<circle cx="474.30" cy="291.27" r="2.80"/>
<circle cx="483.26" cy="286.53" r="2.80"/>
<circle cx="492.22" cy="282.12" r="2.80"/>
<circle cx="501.18" cy="278.72" r="2.80"/>
<circle cx="510.14" cy="276.69" r="2.80"/>
<circle cx="519.10" cy="275.33" r="2.80"/>
<circle cx="528.06" cy="273.64" r="2.80"/>
<circle cx="537.02" cy="272.62" r="2.80"/>
<circle cx="545.98" cy="272.28" r="2.80"/>
<circle cx="554.94" cy="271.87" r="2.80"/>
<circle cx="563.90" cy="271.60" r="2.80"/>
<circle cx="572.86" cy="271.53" r="2.80"/>
<circle cx="581.82" cy="271.47" r="2.80"/>
<circle cx="590.78" cy="271.42" r="2.80"/>
<circle cx="599.74" cy="271.37" r="2.80"/>
<circle cx="608.70" cy="271.34" r="2.80"/>
<circle cx="617.66" cy="271.31" r="2.80"/>
<circle cx="626.62" cy="271.29" r="2.80"/>
<circle cx="635.58" cy="271.27" r="2.80"/>
<circle cx="644.54" cy="271.27" r="2.80"/>
<circle cx="653.50" cy="271.26" r="2.80"/>
</g>
</g>
<rect x="384.7" y="256.0" width="268.8" height="203.5" fill="none" stroke="#222" stroke-width="1.3"/>
<path d="M384.7,459.50h3.5 M384.7,442.54h2.0 M384.7,425.58h3.5 M384.7,408.62h2.0 M384.7,391.67h3.5 M384.7,374.71h2.0 M384.7,357.75h3.5 M384.7,340.79h2.0 M384.7,323.83h3.5 M384.7,306.88h2.0 M384.7,289.92h3.5 M384.7,272.96h2.0 M384.7,256.00h3.5 M384.70,459.5v-3.5 M407.10,459.5v-2.0 M429.50,459.5v-3.5 M451.90,459.5v-2.0 M474.30,459.5v-3.5 M496.70,459.5v-2.0 M519.10,459.5v-3.5 M541.50,459.5v-2.0 M563.90,459.5v-3.5 M586.30,459.5v-2.0 M608.70,459.5v-3.5 M631.10,459.5v-2.0 M653.50,459.5v-3.5 M653.5,459.50h-2.0 M653.5,441.00h-3.5 M653.5,422.50h-2.0 M653.5,404.00h-3.5 M653.5,385.50h-2.0 M653.5,367.00h-3.5 M653.5,348.50h-2.0 M653.5,330.00h-3.5 M653.5,311.50h-2.0 M653.5,293.00h-3.5 M653.5,274.50h-2.0 M653.5,256.00h-3.5" stroke="#222" stroke-width="1.2" fill="none"/>
<g font-size="12" fill="#111" stroke="#111" stroke-width="0.2"><text x="381.60" y="463.80" text-anchor="end">−1</text><text x="381.60" y="429.88" text-anchor="end">0</text><text x="381.60" y="395.97" text-anchor="end">1</text><text x="381.60" y="362.05" text-anchor="end">2</text><text x="381.60" y="328.13" text-anchor="end">3</text><text x="381.60" y="294.22" text-anchor="end">4</text><text x="381.60" y="260.30" text-anchor="end">5</text><text x="384.70" y="471.50" text-anchor="middle">0</text><text x="429.50" y="471.50" text-anchor="middle">1</text><text x="474.30" y="471.50" text-anchor="middle">2</text><text x="519.10" y="471.50" text-anchor="middle">3</text><text x="563.90" y="471.50" text-anchor="middle">4</text><text x="608.70" y="471.50" text-anchor="middle">5</text><text x="653.50" y="471.50" text-anchor="middle">6</text></g>
<g font-size="12" fill="#9a9a9a" stroke="#9a9a9a" stroke-width="0.2"><text x="657.10" y="445.30">0</text><text x="657.10" y="408.30">10</text><text x="657.10" y="371.30">20</text><text x="657.10" y="334.30">30</text><text x="657.10" y="297.30">40</text><text x="657.10" y="260.30">50</text></g>
<text x="519.10" y="487.90" font-size="12.7" text-anchor="middle" fill="#111">{112} planar separation distance <tspan style="font-family:&quot;Liberation Serif&quot;;font-style:italic">d</tspan> (Å)</text>
<text transform="translate(362.30,357.15) rotate(-90)" font-size="12.8" text-anchor="middle" fill="#111">Decohesive energy <tspan style="font-family:&quot;Liberation Serif&quot;;font-style:italic">γ</tspan><tspan font-size="9" dy="2">d</tspan><tspan dy="-2"> (J/m</tspan><tspan font-size="9" dy="-5">2</tspan><tspan dy="5">)</tspan></text>
<text transform="translate(681.90,357.35) rotate(-90)" font-size="12.75" text-anchor="middle" fill="#a0a0a0">Decohesion stress <tspan style="font-family:&quot;Liberation Serif&quot;;font-style:italic">σ</tspan> (GPa)</text>
<text x="351.60" y="265.40" font-size="12.5" fill="#111" stroke="#111" stroke-width="0.15">(d)</text>
<rect x="552.7" y="342" width="93.2" height="87.0" fill="#ffffff" fill-opacity="0.12" stroke="#c8c8c8" stroke-width="0.9"/>
<line x1="556.7" y1="350.00" x2="577.2" y2="350.00" stroke="#7a7a7a" stroke-width="0.9"/>
<g fill="#fff" stroke="#7a7a7a" stroke-width="0.95"><path d="M568.56,346.67L570.03,348.14L568.17,350.00L570.03,351.86L568.56,353.33L566.70,351.47L564.84,353.33L563.37,351.86L565.23,350.00L563.37,348.14L564.84,346.67L566.70,348.53Z"/></g>
<text x="584.3000000000001" y="353.60" font-size="10" fill="#1a1a1a" stroke="#1a1a1a" stroke-width="0.35">EAM</text>
<line x1="556.7" y1="363.90" x2="577.2" y2="363.90" stroke="#7a7a7a" stroke-width="0.9"/>
<g fill="#fff" stroke="#7a7a7a" stroke-width="0.95"><path d="M563.20,361.38L570.20,361.38L566.70,367.68Z"/></g>
<text x="584.3000000000001" y="367.50" font-size="10" fill="#1a1a1a" stroke="#1a1a1a" stroke-width="0.35">MEAM_2021</text>
<line x1="556.7" y1="377.80" x2="577.2" y2="377.80" stroke="#7a7a7a" stroke-width="0.9"/>
<g fill="#fff" stroke="#7a7a7a" stroke-width="0.95"><circle cx="566.70" cy="377.80" r="2.94"/></g>
<text x="584.3000000000001" y="381.40" font-size="10" fill="#1a1a1a" stroke="#1a1a1a" stroke-width="0.35">MEAM_2015</text>
<line x1="556.7" y1="391.70" x2="577.2" y2="391.70" stroke="#7a7a7a" stroke-width="0.9"/>
<g fill="#fff" stroke="#7a7a7a" stroke-width="0.95"><path d="M566.70,387.26L569.19,391.70L566.70,396.14L564.21,391.70Z"/></g>
<text x="584.3000000000001" y="395.30" font-size="10" fill="#1a1a1a" stroke="#1a1a1a" stroke-width="0.35">qSNAP</text>
<line x1="556.7" y1="405.60" x2="577.2" y2="405.60" stroke="#dd2222" stroke-width="1.2"/>
<g fill="#fff" stroke="#dd2222" stroke-width="1.3"><circle cx="566.70" cy="405.60" r="2.94"/></g>
<text x="584.3000000000001" y="409.20" font-size="10" fill="#1a1a1a" stroke="#1a1a1a" stroke-width="0.35">DFT</text>
<line x1="556.7" y1="419.50" x2="577.2" y2="419.50" stroke="#1f4fd4" stroke-width="1.2"/>
<g fill="#fff" stroke="#1f4fd4" stroke-width="1.4"><rect x="563.08" y="415.88" width="7.25" height="7.25"/></g>
<text x="584.3000000000001" y="423.10" font-size="10" fill="#1a1a1a" stroke="#1a1a1a" stroke-width="0.35">DP</text>
</svg></body></html>
